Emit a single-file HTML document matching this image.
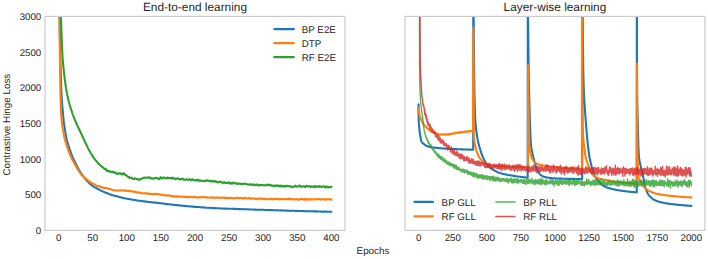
<!DOCTYPE html>
<html><head><meta charset="utf-8"><title>Learning curves</title>
<style>
html,body{margin:0;padding:0;background:#fff;}
body{width:708px;height:259px;overflow:hidden;}
svg{display:block;}
text{font-family:"Liberation Sans",sans-serif;fill:#262626;text-rendering:geometricPrecision;}
.tick{font-size:9.7px;}
.title{font-size:11.85px;}
.lab{font-size:9.85px;}
.leg{font-size:9.8px;}
.ln{fill:none;stroke-linejoin:round;stroke-linecap:round;}
</style></head><body>
<svg width="708" height="259" viewBox="0 0 708 259">
<rect x="0" y="0" width="708" height="259" fill="#ffffff"/>
<defs>
<clipPath id="cl"><rect x="45.0" y="16.4" width="300.0" height="214.0"/></clipPath>
<clipPath id="cr"><rect x="405.0" y="16.4" width="299.9" height="214.0"/></clipPath>
</defs>
<g clip-path="url(#cl)">
<path class="ln" stroke="#1f77b4" stroke-width="2.1" d="M59.50,10.00 L59.51,10.35 L59.51,10.70 L59.52,11.05 L59.52,11.40 L59.53,11.75 L59.53,12.10 L59.54,12.45 L59.55,12.80 L59.55,13.15 L59.56,13.50 L59.56,13.85 L59.57,14.20 L59.58,14.55 L59.58,14.90 L59.59,15.25 L59.59,15.60 L59.60,15.95 L59.61,16.30 L59.61,16.65 L59.62,17.00 L59.62,17.35 L59.63,17.70 L59.63,18.05 L59.64,18.40 L59.65,18.75 L59.65,19.10 L59.66,19.45 L59.66,19.80 L59.67,20.15 L59.67,20.50 L59.68,20.85 L59.69,21.20 L59.69,21.55 L59.70,21.90 L59.70,22.25 L59.71,22.60 L59.71,22.95 L59.72,23.30 L59.72,23.65 L59.73,24.00 L59.74,24.35 L59.74,24.70 L59.75,25.05 L59.75,25.40 L59.76,25.75 L59.76,26.10 L59.77,26.45 L59.77,26.80 L59.78,27.15 L59.79,27.50 L59.79,27.85 L59.80,28.20 L59.80,28.55 L59.81,28.90 L59.81,29.25 L59.82,29.60 L59.82,29.95 L59.83,30.30 L59.84,30.65 L59.84,31.00 L59.85,31.35 L59.85,31.70 L59.86,32.05 L59.86,32.40 L59.87,32.75 L59.87,33.10 L59.88,33.45 L59.89,33.80 L59.89,34.15 L59.90,34.50 L59.90,34.85 L59.91,35.20 L59.91,35.55 L59.92,35.90 L59.93,36.25 L59.93,36.60 L59.94,36.95 L59.94,37.30 L59.95,37.65 L59.95,38.00 L59.96,38.35 L59.97,38.70 L59.97,39.05 L59.98,39.40 L59.98,39.75 L59.99,40.10 L60.00,40.45 L60.00,40.80 L60.01,41.15 L60.01,41.50 L60.02,41.85 L60.03,42.20 L60.03,42.55 L60.04,42.90 L60.04,43.25 L60.05,43.60 L60.06,43.95 L60.06,44.30 L60.07,44.65 L60.08,45.00 L60.08,45.35 L60.09,45.70 L60.10,46.05 L60.10,46.40 L60.11,46.75 L60.12,47.10 L60.12,47.45 L60.13,47.80 L60.14,48.15 L60.14,48.50 L60.15,48.85 L60.16,49.19 L60.16,49.54 L60.17,49.89 L60.18,50.24 L60.18,50.59 L60.19,50.94 L60.20,51.29 L60.21,51.64 L60.21,51.99 L60.22,52.34 L60.23,52.69 L60.23,53.04 L60.24,53.39 L60.25,53.74 L60.26,54.09 L60.27,54.44 L60.27,54.79 L60.28,55.14 L60.29,55.49 L60.30,55.84 L60.30,56.19 L60.31,56.54 L60.32,56.89 L60.33,57.24 L60.34,57.59 L60.34,57.94 L60.35,58.29 L60.36,58.64 L60.37,58.99 L60.38,59.34 L60.39,59.69 L60.39,60.04 L60.40,60.39 L60.41,60.74 L60.42,61.09 L60.43,61.44 L60.44,61.79 L60.44,62.14 L60.45,62.49 L60.46,62.84 L60.47,63.19 L60.48,63.54 L60.49,63.89 L60.50,64.24 L60.50,64.59 L60.51,64.94 L60.52,65.29 L60.53,65.64 L60.54,65.99 L60.55,66.34 L60.56,66.69 L60.57,67.04 L60.58,67.39 L60.59,67.74 L60.59,68.09 L60.60,68.44 L60.61,68.79 L60.62,69.14 L60.63,69.49 L60.64,69.84 L60.65,70.19 L60.66,70.54 L60.67,70.89 L60.68,71.24 L60.69,71.59 L60.70,71.94 L60.71,72.29 L60.72,72.64 L60.73,72.99 L60.74,73.34 L60.75,73.69 L60.76,74.04 L60.77,74.39 L60.78,74.74 L60.79,75.09 L60.80,75.44 L60.81,75.79 L60.83,76.14 L60.84,76.49 L60.85,76.84 L60.86,77.19 L60.87,77.54 L60.88,77.89 L60.89,78.24 L60.90,78.59 L60.92,78.94 L60.93,79.29 L60.94,79.64 L60.95,79.99 L60.96,80.34 L60.97,80.69 L60.99,81.04 L61.00,81.39 L61.01,81.74 L61.02,82.09 L61.03,82.44 L61.05,82.79 L61.06,83.14 L61.07,83.49 L61.09,83.84 L61.10,84.19 L61.11,84.54 L61.12,84.89 L61.14,85.24 L61.15,85.59 L61.16,85.94 L61.18,86.29 L61.19,86.64 L61.21,86.98 L61.22,87.33 L61.23,87.68 L61.25,88.03 L61.26,88.38 L61.28,88.73 L61.29,89.08 L61.30,89.43 L61.32,89.78 L61.33,90.13 L61.35,90.48 L61.36,90.83 L61.38,91.18 L61.39,91.53 L61.41,91.88 L61.42,92.23 L61.44,92.58 L61.46,92.93 L61.47,93.28 L61.49,93.63 L61.50,93.98 L61.52,94.33 L61.54,94.67 L61.55,95.02 L61.57,95.37 L61.59,95.72 L61.60,96.07 L61.62,96.42 L61.64,96.77 L61.66,97.12 L61.68,97.47 L61.69,97.82 L61.71,98.17 L61.73,98.52 L61.76,98.87 L61.78,99.22 L61.80,99.57 L61.82,99.91 L61.84,100.26 L61.87,100.61 L61.89,100.96 L61.91,101.31 L61.94,101.66 L61.96,102.01 L61.99,102.36 L62.01,102.71 L62.04,103.06 L62.06,103.41 L62.09,103.76 L62.12,104.11 L62.14,104.45 L62.17,104.80 L62.20,105.15 L62.23,105.50 L62.25,105.85 L62.28,106.20 L62.31,106.55 L62.34,106.90 L62.37,107.25 L62.40,107.60 L62.43,107.95 L62.46,108.29 L62.49,108.64 L62.52,108.99 L62.56,109.34 L62.59,109.69 L62.62,110.04 L62.65,110.39 L62.68,110.74 L62.72,111.08 L62.75,111.43 L62.78,111.78 L62.82,112.13 L62.85,112.48 L62.88,112.83 L62.92,113.17 L62.95,113.52 L62.99,113.87 L63.02,114.22 L63.06,114.57 L63.09,114.91 L63.13,115.26 L63.16,115.61 L63.20,115.96 L63.23,116.31 L63.27,116.65 L63.30,117.00 L63.34,117.35 L63.38,117.70 L63.41,118.05 L63.45,118.40 L63.49,118.74 L63.53,119.09 L63.57,119.44 L63.61,119.79 L63.64,120.14 L63.68,120.49 L63.72,120.84 L63.77,121.18 L63.81,121.53 L63.85,121.88 L63.89,122.23 L63.93,122.58 L63.97,122.93 L64.02,123.28 L64.06,123.63 L64.11,123.97 L64.15,124.32 L64.20,124.67 L64.24,125.02 L64.29,125.37 L64.33,125.72 L64.38,126.06 L64.43,126.41 L64.48,126.76 L64.53,127.11 L64.58,127.45 L64.63,127.80 L64.68,128.15 L64.73,128.50 L64.78,128.84 L64.83,129.19 L64.88,129.53 L64.94,129.88 L64.99,130.23 L65.05,130.57 L65.10,130.92 L65.16,131.26 L65.21,131.61 L65.27,131.95 L65.33,132.30 L65.39,132.64 L65.45,132.98 L65.51,133.33 L65.57,133.67 L65.63,134.01 L65.69,134.35 L65.75,134.70 L65.82,135.04 L65.88,135.38 L65.95,135.72 L66.01,136.06 L66.08,136.40 L66.15,136.74 L66.22,137.08 L66.29,137.42 L66.36,137.76 L66.44,138.10 L66.52,138.44 L66.60,138.78 L66.68,139.12 L66.76,139.46 L66.84,139.80 L66.93,140.14 L67.01,140.48 L67.10,140.82 L67.19,141.16 L67.28,141.50 L67.37,141.83 L67.47,142.17 L67.56,142.51 L67.66,142.85 L67.76,143.19 L67.85,143.52 L67.95,143.86 L68.05,144.20 L68.16,144.53 L68.26,144.87 L68.36,145.21 L68.47,145.54 L68.58,145.88 L68.68,146.21 L68.79,146.55 L68.90,146.88 L69.01,147.22 L69.12,147.55 L69.23,147.89 L69.35,148.22 L69.46,148.55 L69.57,148.89 L69.69,149.22 L69.81,149.55 L69.92,149.88 L70.04,150.22 L70.16,150.55 L70.28,150.88 L70.40,151.21 L70.52,151.54 L70.64,151.87 L70.76,152.20 L70.88,152.53 L71.00,152.86 L71.12,153.18 L71.25,153.51 L71.37,153.84 L71.49,154.16 L71.62,154.49 L71.74,154.82 L71.87,155.14 L71.99,155.47 L72.12,155.79 L72.24,156.11 L72.37,156.44 L72.50,156.76 L72.64,157.08 L72.77,157.40 L72.91,157.72 L73.05,158.04 L73.20,158.36 L73.34,158.68 L73.49,158.99 L73.64,159.31 L73.79,159.62 L73.94,159.94 L74.09,160.26 L74.25,160.58 L74.40,160.89 L74.56,161.20 L74.72,161.51 L74.88,161.83 L75.03,162.15 L75.19,162.46 L75.35,162.78 L75.51,163.09 L75.68,163.40 L75.84,163.71 L76.00,164.02 L76.16,164.33 L76.32,164.65 L76.48,164.96 L76.64,165.26 L76.80,165.57 L76.96,165.88 L77.12,166.20 L77.28,166.52 L77.44,166.82 L77.60,167.12 L77.76,167.43 L77.92,167.74 L78.09,168.05 L78.25,168.35 L78.42,168.68 L78.58,168.99 L78.75,169.29 L78.92,169.58 L79.09,169.89 L79.26,170.20 L79.44,170.51 L79.61,170.81 L79.79,171.12 L79.97,171.43 L80.15,171.72 L80.33,172.02 L80.51,172.29 L80.70,172.57 L80.89,172.88 L81.08,173.21 L81.27,173.51 L81.47,173.79 L81.66,174.08 L81.86,174.38 L82.06,174.68 L82.26,174.96 L82.47,175.21 L82.67,175.46 L82.88,175.74 L83.09,176.05 L83.30,176.37 L83.51,176.65 L83.73,176.89 L83.94,177.15 L84.16,177.45 L84.38,177.73 L84.60,177.97 L84.82,178.25 L85.04,178.53 L85.27,178.81 L85.49,179.06 L85.72,179.30 L85.95,179.56 L86.18,179.86 L86.41,180.18 L86.64,180.45 L86.88,180.67 L87.11,180.88 L87.35,181.13 L87.59,181.42 L87.83,181.71 L88.08,181.98 L88.32,182.22 L88.57,182.46 L88.82,182.73 L89.07,183.02 L89.32,183.31 L89.58,183.56 L89.83,183.74 L90.09,183.93 L90.35,184.15 L90.62,184.36 L90.88,184.58 L91.15,184.80 L91.41,185.03 L91.69,185.26 L91.96,185.48 L92.24,185.67 L92.52,185.85 L92.80,186.01 L93.09,186.20 L93.37,186.41 L93.67,186.62 L93.96,186.82 L94.26,186.99 L94.56,187.15 L94.86,187.32 L95.16,187.49 L95.46,187.67 L95.77,187.84 L96.08,188.01 L96.39,188.22 L96.70,188.43 L97.01,188.59 L97.32,188.74 L97.64,188.89 L97.95,189.05 L98.27,189.22 L98.58,189.39 L98.90,189.55 L99.22,189.70 L99.53,189.88 L99.85,190.05 L100.16,190.19 L100.48,190.34 L100.79,190.48 L101.11,190.61 L101.42,190.79 L101.74,190.96 L102.05,191.11 L102.37,191.24 L102.69,191.36 L103.01,191.52 L103.33,191.69 L103.65,191.83 L103.97,191.94 L104.29,192.05 L104.61,192.24 L104.94,192.43 L105.26,192.56 L105.59,192.64 L105.91,192.74 L106.24,192.88 L106.56,192.98 L106.89,193.07 L107.22,193.20 L107.55,193.32 L107.87,193.45 L108.20,193.63 L108.53,193.81 L108.86,193.94 L109.19,194.09 L109.52,194.26 L109.85,194.37 L110.18,194.41 L110.51,194.46 L110.85,194.54 L111.18,194.68 L111.51,194.83 L111.84,194.97 L112.17,195.08 L112.51,195.17 L112.84,195.25 L113.17,195.36 L113.51,195.49 L113.84,195.61 L114.17,195.71 L114.51,195.78 L114.85,195.84 L115.18,195.91 L115.52,195.96 L115.86,196.05 L116.19,196.19 L116.53,196.30 L116.87,196.36 L117.21,196.41 L117.55,196.49 L117.89,196.58 L118.23,196.63 L118.57,196.71 L118.91,196.86 L119.25,197.00 L119.59,197.09 L119.93,197.14 L120.28,197.22 L120.62,197.27 L120.96,197.30 L121.30,197.42 L121.64,197.57 L121.99,197.70 L122.33,197.80 L122.67,197.86 L123.02,197.90 L123.36,197.95 L123.70,198.01 L124.04,198.06 L124.39,198.15 L124.73,198.28 L125.07,198.36 L125.41,198.39 L125.76,198.43 L126.10,198.52 L126.44,198.61 L126.79,198.68 L127.13,198.72 L127.47,198.74 L127.82,198.80 L128.16,198.89 L128.50,198.99 L128.85,199.03 L129.19,199.03 L129.53,199.08 L129.88,199.17 L130.22,199.22 L130.57,199.29 L130.91,199.41 L131.26,199.50 L131.60,199.55 L131.95,199.60 L132.29,199.67 L132.64,199.73 L132.98,199.78 L133.33,199.79 L133.67,199.83 L134.02,199.91 L134.36,199.99 L134.71,200.06 L135.05,200.11 L135.40,200.14 L135.75,200.20 L136.09,200.28 L136.44,200.34 L136.78,200.38 L137.13,200.45 L137.48,200.58 L137.82,200.70 L138.17,200.73 L138.52,200.72 L138.86,200.75 L139.21,200.80 L139.55,200.81 L139.90,200.82 L140.25,200.88 L140.59,200.93 L140.94,200.93 L141.29,200.93 L141.63,201.00 L141.98,201.10 L142.33,201.15 L142.67,201.21 L143.02,201.28 L143.37,201.33 L143.71,201.36 L144.06,201.38 L144.41,201.40 L144.76,201.42 L145.10,201.49 L145.45,201.57 L145.80,201.59 L146.15,201.60 L146.50,201.64 L146.84,201.70 L147.19,201.73 L147.54,201.72 L147.89,201.76 L148.24,201.88 L148.58,202.00 L148.93,202.03 L149.28,202.03 L149.63,202.09 L149.98,202.14 L150.32,202.13 L150.67,202.15 L151.02,202.21 L151.37,202.26 L151.72,202.28 L152.07,202.33 L152.41,202.42 L152.76,202.47 L153.11,202.46 L153.46,202.43 L153.81,202.42 L154.15,202.48 L154.50,202.55 L154.85,202.61 L155.20,202.64 L155.54,202.63 L155.89,202.64 L156.24,202.70 L156.59,202.75 L156.94,202.78 L157.28,202.81 L157.63,202.83 L157.98,202.88 L158.33,202.99 L158.67,203.09 L159.02,203.17 L159.37,203.21 L159.72,203.16 L160.06,203.12 L160.41,203.14 L160.76,203.20 L161.11,203.27 L161.45,203.31 L161.80,203.34 L162.15,203.39 L162.50,203.44 L162.84,203.51 L163.19,203.57 L163.54,203.61 L163.89,203.64 L164.23,203.66 L164.58,203.68 L164.93,203.72 L165.28,203.85 L165.62,203.99 L165.97,204.07 L166.32,204.08 L166.67,204.07 L167.01,204.08 L167.36,204.13 L167.71,204.16 L168.06,204.17 L168.40,204.21 L168.75,204.25 L169.10,204.28 L169.45,204.31 L169.79,204.34 L170.14,204.44 L170.49,204.54 L170.84,204.55 L171.18,204.57 L171.53,204.62 L171.88,204.64 L172.23,204.65 L172.57,204.70 L172.92,204.78 L173.27,204.83 L173.62,204.88 L173.97,204.92 L174.31,204.92 L174.66,204.94 L175.01,204.99 L175.36,205.02 L175.70,205.00 L176.05,205.03 L176.40,205.11 L176.75,205.21 L177.10,205.27 L177.44,205.29 L177.79,205.28 L178.14,205.31 L178.49,205.34 L178.84,205.37 L179.18,205.40 L179.53,205.38 L179.88,205.38 L180.23,205.42 L180.58,205.47 L180.93,205.54 L181.27,205.63 L181.62,205.71 L181.97,205.75 L182.32,205.71 L182.67,205.68 L183.02,205.70 L183.36,205.73 L183.71,205.79 L184.06,205.84 L184.41,205.85 L184.76,205.88 L185.11,205.96 L185.46,206.02 L185.80,206.06 L186.15,206.10 L186.50,206.14 L186.85,206.18 L187.20,206.23 L187.55,206.25 L187.90,206.26 L188.24,206.25 L188.59,206.24 L188.94,206.28 L189.29,206.33 L189.64,206.36 L189.99,206.41 L190.34,206.47 L190.69,206.47 L191.03,206.43 L191.38,206.44 L191.73,206.50 L192.08,206.56 L192.43,206.59 L192.78,206.63 L193.13,206.67 L193.48,206.70 L193.83,206.73 L194.17,206.79 L194.52,206.89 L194.87,206.92 L195.22,206.87 L195.57,206.84 L195.92,206.88 L196.27,206.92 L196.62,206.93 L196.97,206.95 L197.32,206.98 L197.66,206.99 L198.01,207.00 L198.36,207.01 L198.71,207.00 L199.06,207.05 L199.41,207.13 L199.76,207.19 L200.11,207.19 L200.46,207.19 L200.81,207.25 L201.16,207.34 L201.50,207.37 L201.85,207.37 L202.20,207.37 L202.55,207.40 L202.90,207.40 L203.25,207.40 L203.60,207.47 L203.95,207.56 L204.30,207.60 L204.65,207.61 L205.00,207.61 L205.35,207.62 L205.70,207.64 L206.04,207.70 L206.39,207.78 L206.74,207.77 L207.09,207.73 L207.44,207.74 L207.79,207.80 L208.14,207.82 L208.49,207.77 L208.84,207.75 L209.19,207.79 L209.54,207.86 L209.89,207.92 L210.24,207.97 L210.59,207.98 L210.93,207.97 L211.28,207.97 L211.63,208.04 L211.98,208.11 L212.33,208.10 L212.68,208.09 L213.03,208.10 L213.38,208.12 L213.73,208.09 L214.08,208.10 L214.43,208.15 L214.78,208.17 L215.13,208.16 L215.48,208.17 L215.83,208.18 L216.18,208.19 L216.53,208.19 L216.88,208.19 L217.22,208.24 L217.57,208.27 L217.92,208.26 L218.27,208.28 L218.62,208.30 L218.97,208.30 L219.32,208.31 L219.67,208.35 L220.02,208.45 L220.37,208.54 L220.72,208.53 L221.07,208.48 L221.42,208.46 L221.77,208.47 L222.12,208.49 L222.47,208.51 L222.82,208.49 L223.17,208.52 L223.52,208.56 L223.87,208.58 L224.22,208.56 L224.57,208.55 L224.92,208.58 L225.27,208.61 L225.62,208.62 L225.97,208.60 L226.32,208.56 L226.67,208.56 L227.02,208.64 L227.37,208.69 L227.72,208.70 L228.07,208.71 L228.42,208.72 L228.77,208.69 L229.12,208.69 L229.47,208.72 L229.82,208.75 L230.17,208.75 L230.52,208.76 L230.87,208.75 L231.22,208.77 L231.56,208.81 L231.91,208.80 L232.26,208.78 L232.61,208.82 L232.96,208.89 L233.31,208.92 L233.66,208.90 L234.01,208.91 L234.36,208.92 L234.71,208.91 L235.06,208.92 L235.41,208.92 L235.76,208.91 L236.11,208.93 L236.46,208.96 L236.81,208.97 L237.16,208.97 L237.51,209.00 L237.86,209.06 L238.21,209.09 L238.56,209.12 L238.91,209.15 L239.26,209.17 L239.61,209.17 L239.96,209.13 L240.31,209.13 L240.66,209.17 L241.01,209.22 L241.36,209.20 L241.71,209.11 L242.06,209.11 L242.41,209.19 L242.76,209.25 L243.11,209.25 L243.46,209.25 L243.81,209.26 L244.16,209.28 L244.51,209.28 L244.86,209.26 L245.21,209.23 L245.56,209.25 L245.91,209.29 L246.26,209.33 L246.61,209.32 L246.96,209.32 L247.31,209.32 L247.66,209.31 L248.01,209.29 L248.36,209.31 L248.71,209.38 L249.06,209.45 L249.41,209.49 L249.76,209.49 L250.10,209.50 L250.45,209.50 L250.80,209.50 L251.15,209.54 L251.50,209.55 L251.85,209.53 L252.20,209.52 L252.55,209.53 L252.90,209.54 L253.25,209.56 L253.60,209.59 L253.95,209.61 L254.30,209.60 L254.65,209.61 L255.00,209.64 L255.35,209.66 L255.70,209.70 L256.05,209.75 L256.40,209.78 L256.75,209.80 L257.10,209.76 L257.45,209.71 L257.80,209.71 L258.15,209.74 L258.50,209.76 L258.85,209.75 L259.20,209.72 L259.55,209.69 L259.90,209.70 L260.25,209.72 L260.60,209.76 L260.95,209.78 L261.30,209.80 L261.65,209.82 L262.00,209.83 L262.35,209.78 L262.70,209.76 L263.05,209.76 L263.40,209.79 L263.75,209.86 L264.10,209.94 L264.45,209.94 L264.80,209.93 L265.15,209.93 L265.50,209.95 L265.85,209.98 L266.20,210.01 L266.55,210.07 L266.90,210.11 L267.25,210.08 L267.60,210.04 L267.94,210.04 L268.29,210.07 L268.64,210.10 L268.99,210.13 L269.34,210.15 L269.69,210.13 L270.04,210.08 L270.39,210.10 L270.74,210.15 L271.09,210.14 L271.44,210.12 L271.79,210.12 L272.14,210.14 L272.49,210.23 L272.84,210.32 L273.19,210.29 L273.54,210.21 L273.89,210.18 L274.24,210.23 L274.59,210.26 L274.94,210.25 L275.29,210.27 L275.64,210.33 L275.99,210.34 L276.34,210.29 L276.69,210.24 L277.04,210.22 L277.39,210.23 L277.74,210.26 L278.09,210.33 L278.44,210.38 L278.79,210.45 L279.14,210.50 L279.49,210.48 L279.84,210.44 L280.19,210.47 L280.54,210.48 L280.89,210.43 L281.24,210.41 L281.59,210.42 L281.94,210.44 L282.29,210.45 L282.64,210.41 L282.99,210.42 L283.34,210.47 L283.69,210.52 L284.04,210.55 L284.39,210.57 L284.74,210.58 L285.09,210.57 L285.44,210.53 L285.79,210.54 L286.14,210.57 L286.49,210.61 L286.84,210.61 L287.19,210.60 L287.54,210.62 L287.89,210.67 L288.24,210.69 L288.59,210.72 L288.94,210.80 L289.29,210.80 L289.64,210.74 L289.99,210.77 L290.33,210.84 L290.68,210.83 L291.03,210.78 L291.38,210.75 L291.73,210.74 L292.08,210.75 L292.43,210.78 L292.78,210.80 L293.13,210.79 L293.48,210.77 L293.83,210.77 L294.18,210.79 L294.53,210.81 L294.88,210.86 L295.23,210.91 L295.58,210.93 L295.93,210.93 L296.28,210.92 L296.63,210.92 L296.98,210.91 L297.33,210.92 L297.68,210.94 L298.03,210.95 L298.38,210.98 L298.73,210.97 L299.08,210.94 L299.43,210.93 L299.78,210.95 L300.13,210.98 L300.48,211.01 L300.83,211.02 L301.18,210.97 L301.53,210.92 L301.88,210.92 L302.23,210.96 L302.58,211.05 L302.93,211.12 L303.28,211.10 L303.63,211.06 L303.98,211.09 L304.33,211.17 L304.68,211.18 L305.03,211.19 L305.38,211.25 L305.73,211.30 L306.08,211.28 L306.43,211.23 L306.78,211.22 L307.13,211.21 L307.48,211.17 L307.83,211.16 L308.18,211.17 L308.53,211.19 L308.88,211.23 L309.23,211.29 L309.58,211.33 L309.93,211.28 L310.28,211.26 L310.63,211.29 L310.98,211.33 L311.33,211.34 L311.68,211.29 L312.03,211.24 L312.38,211.23 L312.73,211.28 L313.08,211.33 L313.43,211.34 L313.78,211.32 L314.13,211.34 L314.48,211.38 L314.83,211.40 L315.18,211.38 L315.53,211.34 L315.88,211.33 L316.23,211.37 L316.58,211.41 L316.93,211.39 L317.28,211.40 L317.62,211.44 L317.97,211.44 L318.32,211.44 L318.67,211.47 L319.02,211.48 L319.37,211.46 L319.72,211.44 L320.07,211.45 L320.42,211.48 L320.77,211.51 L321.12,211.56 L321.47,211.60 L321.82,211.61 L322.17,211.61 L322.52,211.65 L322.87,211.69 L323.22,211.71 L323.57,211.69 L323.92,211.65 L324.27,211.64 L324.62,211.63 L324.97,211.62 L325.32,211.62 L325.67,211.62 L326.02,211.60 L326.37,211.58 L326.72,211.62 L327.07,211.69 L327.42,211.76 L327.77,211.77 L328.12,211.74 L328.47,211.71 L328.82,211.71 L329.17,211.74 L329.52,211.77 L329.87,211.82 L330.22,211.84 L330.57,211.78 L330.92,211.71 L331.27,211.69 L331.40,211.70"/>
<path class="ln" stroke="#ff7f0e" stroke-width="2.1" d="M59.30,10.00 L59.31,10.35 L59.31,10.70 L59.32,11.05 L59.32,11.40 L59.33,11.75 L59.34,12.10 L59.34,12.45 L59.35,12.80 L59.35,13.15 L59.36,13.50 L59.37,13.85 L59.37,14.20 L59.38,14.55 L59.38,14.90 L59.39,15.25 L59.39,15.60 L59.40,15.95 L59.40,16.30 L59.41,16.65 L59.41,17.00 L59.42,17.35 L59.42,17.70 L59.43,18.05 L59.43,18.40 L59.44,18.75 L59.44,19.10 L59.45,19.45 L59.45,19.80 L59.46,20.15 L59.46,20.50 L59.47,20.85 L59.47,21.20 L59.48,21.55 L59.48,21.90 L59.49,22.25 L59.49,22.60 L59.50,22.95 L59.50,23.30 L59.51,23.65 L59.51,24.00 L59.51,24.35 L59.52,24.70 L59.52,25.05 L59.53,25.40 L59.53,25.75 L59.54,26.10 L59.54,26.45 L59.55,26.80 L59.55,27.15 L59.55,27.50 L59.56,27.85 L59.56,28.20 L59.57,28.55 L59.57,28.90 L59.58,29.25 L59.58,29.60 L59.58,29.95 L59.59,30.30 L59.59,30.65 L59.60,31.00 L59.60,31.35 L59.61,31.70 L59.61,32.05 L59.61,32.40 L59.62,32.75 L59.62,33.10 L59.63,33.45 L59.63,33.80 L59.63,34.15 L59.64,34.50 L59.64,34.85 L59.65,35.20 L59.65,35.55 L59.65,35.90 L59.66,36.25 L59.66,36.60 L59.67,36.95 L59.67,37.30 L59.67,37.65 L59.68,38.00 L59.68,38.35 L59.69,38.70 L59.69,39.05 L59.70,39.40 L59.70,39.75 L59.70,40.10 L59.71,40.45 L59.71,40.80 L59.72,41.15 L59.72,41.50 L59.72,41.85 L59.73,42.20 L59.73,42.55 L59.74,42.90 L59.74,43.25 L59.74,43.60 L59.75,43.95 L59.75,44.30 L59.76,44.65 L59.76,45.00 L59.77,45.35 L59.77,45.70 L59.77,46.05 L59.78,46.40 L59.78,46.75 L59.79,47.10 L59.79,47.45 L59.79,47.80 L59.80,48.15 L59.80,48.50 L59.81,48.85 L59.81,49.20 L59.82,49.55 L59.82,49.90 L59.82,50.25 L59.83,50.60 L59.83,50.95 L59.84,51.30 L59.84,51.65 L59.85,52.00 L59.85,52.35 L59.86,52.70 L59.86,53.05 L59.87,53.40 L59.87,53.75 L59.87,54.10 L59.88,54.45 L59.88,54.80 L59.89,55.15 L59.89,55.50 L59.90,55.85 L59.90,56.20 L59.91,56.55 L59.91,56.90 L59.92,57.25 L59.92,57.60 L59.93,57.95 L59.93,58.30 L59.94,58.65 L59.94,59.00 L59.94,59.35 L59.95,59.70 L59.95,60.05 L59.96,60.40 L59.96,60.75 L59.97,61.10 L59.97,61.45 L59.98,61.80 L59.98,62.15 L59.98,62.50 L59.99,62.85 L59.99,63.20 L60.00,63.55 L60.00,63.90 L60.01,64.25 L60.01,64.60 L60.01,64.95 L60.02,65.30 L60.02,65.65 L60.03,66.00 L60.03,66.35 L60.04,66.70 L60.04,67.05 L60.04,67.40 L60.05,67.75 L60.05,68.10 L60.06,68.45 L60.06,68.80 L60.07,69.15 L60.07,69.50 L60.07,69.85 L60.08,70.20 L60.08,70.55 L60.09,70.90 L60.09,71.25 L60.10,71.60 L60.10,71.95 L60.11,72.30 L60.11,72.65 L60.11,73.00 L60.12,73.35 L60.12,73.70 L60.13,74.05 L60.13,74.40 L60.14,74.75 L60.14,75.10 L60.15,75.45 L60.15,75.80 L60.16,76.15 L60.16,76.50 L60.16,76.85 L60.17,77.20 L60.17,77.55 L60.18,77.90 L60.18,78.25 L60.19,78.60 L60.19,78.95 L60.20,79.30 L60.20,79.65 L60.21,80.00 L60.21,80.35 L60.22,80.70 L60.22,81.05 L60.23,81.40 L60.23,81.75 L60.24,82.10 L60.25,82.45 L60.25,82.80 L60.26,83.15 L60.26,83.50 L60.27,83.85 L60.27,84.20 L60.28,84.55 L60.28,84.90 L60.29,85.24 L60.30,85.59 L60.30,85.94 L60.31,86.29 L60.31,86.64 L60.32,86.99 L60.33,87.34 L60.33,87.69 L60.34,88.04 L60.34,88.39 L60.35,88.74 L60.36,89.09 L60.36,89.44 L60.37,89.79 L60.38,90.14 L60.38,90.49 L60.39,90.84 L60.40,91.19 L60.40,91.54 L60.41,91.89 L60.42,92.24 L60.43,92.59 L60.43,92.94 L60.44,93.29 L60.45,93.64 L60.46,93.99 L60.46,94.34 L60.47,94.69 L60.48,95.04 L60.49,95.39 L60.49,95.74 L60.50,96.09 L60.51,96.44 L60.52,96.79 L60.53,97.14 L60.54,97.49 L60.54,97.84 L60.55,98.19 L60.56,98.54 L60.57,98.89 L60.58,99.24 L60.59,99.59 L60.60,99.94 L60.61,100.29 L60.62,100.64 L60.63,100.99 L60.64,101.34 L60.65,101.69 L60.66,102.04 L60.67,102.39 L60.69,102.74 L60.70,103.09 L60.71,103.44 L60.72,103.79 L60.73,104.14 L60.75,104.49 L60.76,104.85 L60.77,105.20 L60.78,105.55 L60.80,105.90 L60.81,106.25 L60.83,106.60 L60.84,106.95 L60.85,107.30 L60.87,107.65 L60.88,108.00 L60.90,108.35 L60.91,108.70 L60.93,109.04 L60.94,109.39 L60.96,109.74 L60.98,110.09 L60.99,110.44 L61.01,110.79 L61.03,111.14 L61.05,111.49 L61.06,111.84 L61.08,112.19 L61.10,112.54 L61.12,112.89 L61.14,113.24 L61.16,113.59 L61.18,113.93 L61.20,114.28 L61.22,114.63 L61.24,114.98 L61.26,115.33 L61.28,115.68 L61.30,116.03 L61.32,116.37 L61.35,116.72 L61.37,117.07 L61.40,117.42 L61.43,117.77 L61.45,118.12 L61.48,118.47 L61.51,118.81 L61.55,119.16 L61.58,119.51 L61.61,119.86 L61.65,120.21 L61.68,120.56 L61.72,120.91 L61.76,121.26 L61.80,121.61 L61.84,121.96 L61.88,122.30 L61.92,122.65 L61.96,123.00 L62.01,123.35 L62.05,123.70 L62.10,124.05 L62.14,124.40 L62.19,124.75 L62.24,125.09 L62.29,125.44 L62.34,125.79 L62.39,126.14 L62.44,126.49 L62.49,126.83 L62.54,127.18 L62.60,127.53 L62.65,127.88 L62.70,128.22 L62.76,128.57 L62.82,128.92 L62.87,129.26 L62.93,129.61 L62.99,129.96 L63.05,130.30 L63.11,130.65 L63.17,130.99 L63.23,131.34 L63.29,131.68 L63.35,132.02 L63.41,132.37 L63.47,132.71 L63.54,133.05 L63.60,133.40 L63.67,133.74 L63.73,134.08 L63.79,134.42 L63.86,134.77 L63.93,135.11 L63.99,135.45 L64.06,135.79 L64.13,136.13 L64.19,136.47 L64.26,136.81 L64.34,137.15 L64.41,137.48 L64.49,137.82 L64.56,138.16 L64.64,138.50 L64.72,138.84 L64.81,139.18 L64.89,139.52 L64.98,139.86 L65.07,140.20 L65.16,140.54 L65.25,140.87 L65.34,141.21 L65.43,141.55 L65.53,141.89 L65.63,142.23 L65.72,142.56 L65.82,142.90 L65.92,143.24 L66.03,143.57 L66.13,143.91 L66.24,144.25 L66.34,144.58 L66.45,144.92 L66.56,145.25 L66.67,145.59 L66.78,145.92 L66.89,146.26 L67.00,146.59 L67.12,146.93 L67.23,147.26 L67.35,147.59 L67.47,147.93 L67.59,148.26 L67.71,148.59 L67.83,148.92 L67.95,149.25 L68.07,149.58 L68.19,149.91 L68.31,150.24 L68.44,150.57 L68.56,150.90 L68.69,151.23 L68.82,151.56 L68.94,151.89 L69.07,152.21 L69.20,152.54 L69.33,152.86 L69.46,153.19 L69.59,153.52 L69.72,153.84 L69.85,154.16 L69.98,154.49 L70.11,154.81 L70.24,155.13 L70.37,155.45 L70.51,155.77 L70.64,156.09 L70.77,156.41 L70.91,156.73 L71.05,157.05 L71.20,157.37 L71.35,157.69 L71.50,158.01 L71.65,158.33 L71.80,158.63 L71.96,158.93 L72.12,159.23 L72.28,159.54 L72.44,159.86 L72.61,160.15 L72.78,160.45 L72.94,160.78 L73.11,161.10 L73.28,161.40 L73.45,161.71 L73.62,162.02 L73.80,162.32 L73.97,162.60 L74.14,162.91 L74.31,163.24 L74.49,163.56 L74.66,163.84 L74.83,164.12 L75.00,164.43 L75.18,164.78 L75.35,165.11 L75.52,165.42 L75.69,165.76 L75.86,166.07 L76.03,166.34 L76.20,166.60 L76.37,166.82 L76.54,167.08 L76.71,167.41 L76.88,167.77 L77.05,168.11 L77.23,168.42 L77.40,168.70 L77.58,168.97 L77.75,169.29 L77.93,169.59 L78.11,169.88 L78.30,170.18 L78.48,170.44 L78.67,170.71 L78.86,171.05 L79.05,171.45 L79.24,171.81 L79.44,172.06 L79.64,172.23 L79.85,172.46 L80.05,172.75 L80.27,173.04 L80.48,173.31 L80.70,173.65 L80.92,173.91 L81.15,174.17 L81.38,174.52 L81.61,174.88 L81.84,175.16 L82.08,175.43 L82.32,175.70 L82.56,176.01 L82.81,176.26 L83.06,176.48 L83.31,176.73 L83.56,176.90 L83.82,177.02 L84.07,177.19 L84.33,177.47 L84.59,177.75 L84.85,177.96 L85.12,178.27 L85.38,178.53 L85.65,178.61 L85.92,178.68 L86.18,179.01 L86.45,179.35 L86.72,179.50 L86.99,179.57 L87.27,179.71 L87.54,180.07 L87.82,180.38 L88.10,180.56 L88.38,180.68 L88.67,180.98 L88.95,181.28 L89.24,181.45 L89.54,181.55 L89.83,181.86 L90.12,182.21 L90.42,182.22 L90.72,182.21 L91.02,182.39 L91.33,182.73 L91.63,183.21 L91.94,183.42 L92.24,183.26 L92.55,183.33 L92.86,183.81 L93.17,184.21 L93.48,184.38 L93.79,184.38 L94.11,184.27 L94.42,184.23 L94.73,184.25 L95.05,184.49 L95.36,184.90 L95.68,185.25 L96.00,185.52 L96.31,185.51 L96.63,185.53 L96.95,185.85 L97.27,186.10 L97.60,186.00 L97.92,185.92 L98.25,186.16 L98.58,186.37 L98.91,186.33 L99.24,186.39 L99.57,186.62 L99.90,186.65 L100.24,186.57 L100.57,186.64 L100.91,186.84 L101.25,187.10 L101.58,187.36 L101.92,187.55 L102.26,187.49 L102.60,187.40 L102.94,187.62 L103.28,187.92 L103.62,188.05 L103.96,188.04 L104.30,187.91 L104.65,187.93 L104.99,188.03 L105.33,187.92 L105.67,187.95 L106.01,188.23 L106.35,188.33 L106.69,188.26 L107.03,188.17 L107.37,188.19 L107.71,188.37 L108.05,188.61 L108.39,188.69 L108.74,188.68 L109.08,188.82 L109.42,188.87 L109.76,189.00 L110.11,189.22 L110.45,189.28 L110.80,189.35 L111.14,189.58 L111.49,189.62 L111.83,189.70 L112.18,189.89 L112.52,190.03 L112.87,190.02 L113.22,190.03 L113.56,190.06 L113.91,190.10 L114.26,190.09 L114.60,190.26 L114.95,190.52 L115.30,190.57 L115.65,190.65 L115.99,190.77 L116.34,190.63 L116.69,190.45 L117.04,190.44 L117.38,190.51 L117.73,190.73 L118.08,190.77 L118.43,190.57 L118.78,190.47 L119.13,190.53 L119.47,190.52 L119.82,190.46 L120.17,190.38 L120.52,190.25 L120.87,190.29 L121.22,190.42 L121.57,190.51 L121.92,190.50 L122.27,190.48 L122.62,190.55 L122.97,190.51 L123.32,190.32 L123.67,190.19 L124.02,190.27 L124.37,190.42 L124.72,190.48 L125.07,190.65 L125.42,190.90 L125.77,191.03 L126.12,190.93 L126.47,190.65 L126.82,190.55 L127.17,190.74 L127.52,190.90 L127.87,190.95 L128.22,190.98 L128.57,191.08 L128.92,191.14 L129.26,191.12 L129.61,191.10 L129.96,191.08 L130.31,191.10 L130.66,191.17 L131.00,191.24 L131.35,191.30 L131.70,191.43 L132.04,191.45 L132.39,191.43 L132.73,191.41 L133.08,191.54 L133.42,191.68 L133.77,191.50 L134.11,191.29 L134.45,191.41 L134.79,191.79 L135.14,192.15 L135.48,192.19 L135.82,192.09 L136.16,192.03 L136.50,192.21 L136.85,192.50 L137.19,192.60 L137.53,192.52 L137.87,192.52 L138.21,192.51 L138.56,192.46 L138.90,192.49 L139.24,192.45 L139.59,192.46 L139.93,192.76 L140.27,192.93 L140.62,192.85 L140.97,192.90 L141.31,193.18 L141.66,193.36 L142.00,193.46 L142.35,193.44 L142.70,193.32 L143.05,193.29 L143.39,193.25 L143.74,193.23 L144.09,193.28 L144.44,193.41 L144.79,193.52 L145.14,193.47 L145.49,193.37 L145.84,193.36 L146.19,193.35 L146.54,193.27 L146.89,193.28 L147.24,193.35 L147.59,193.37 L147.94,193.43 L148.29,193.65 L148.64,193.98 L148.99,194.04 L149.34,193.90 L149.69,193.92 L150.04,194.04 L150.39,193.94 L150.74,193.79 L151.09,193.82 L151.44,193.95 L151.79,194.07 L152.14,194.11 L152.49,194.10 L152.84,193.94 L153.19,193.86 L153.53,193.94 L153.88,194.09 L154.23,194.05 L154.58,194.08 L154.93,194.23 L155.28,194.21 L155.63,193.96 L155.97,193.82 L156.32,193.85 L156.67,194.03 L157.02,194.13 L157.36,194.11 L157.71,194.09 L158.06,194.14 L158.41,194.29 L158.75,194.54 L159.10,194.56 L159.45,194.34 L159.79,194.36 L160.14,194.52 L160.49,194.60 L160.84,194.55 L161.18,194.56 L161.53,194.66 L161.88,194.86 L162.22,194.95 L162.57,194.97 L162.92,194.97 L163.27,194.88 L163.61,194.87 L163.96,195.08 L164.31,195.24 L164.65,195.35 L165.00,195.50 L165.35,195.45 L165.70,195.24 L166.05,195.34 L166.39,195.68 L166.74,195.71 L167.09,195.40 L167.44,195.21 L167.79,195.23 L168.13,195.27 L168.48,195.29 L168.83,195.36 L169.18,195.38 L169.53,195.51 L169.87,195.74 L170.22,195.80 L170.57,195.91 L170.92,196.08 L171.27,196.13 L171.61,196.03 L171.96,196.00 L172.31,196.14 L172.66,196.37 L173.01,196.32 L173.36,196.14 L173.70,196.23 L174.05,196.46 L174.40,196.68 L174.75,196.84 L175.10,196.75 L175.45,196.47 L175.79,196.29 L176.14,196.28 L176.49,196.50 L176.84,196.84 L177.19,197.00 L177.54,196.66 L177.89,196.28 L178.24,196.31 L178.58,196.43 L178.93,196.39 L179.28,196.42 L179.63,196.59 L179.98,196.72 L180.33,196.70 L180.68,196.70 L181.03,196.77 L181.38,196.70 L181.72,196.55 L182.07,196.48 L182.42,196.60 L182.77,196.70 L183.12,196.66 L183.47,196.79 L183.82,196.94 L184.17,196.91 L184.52,196.85 L184.87,196.91 L185.22,197.16 L185.57,197.22 L185.92,196.93 L186.27,196.64 L186.62,196.76 L186.97,197.17 L187.32,197.40 L187.67,197.35 L188.02,197.21 L188.37,197.02 L188.72,196.96 L189.07,197.00 L189.42,196.96 L189.77,196.95 L190.12,197.16 L190.47,197.19 L190.82,196.89 L191.17,196.78 L191.52,196.85 L191.87,196.76 L192.22,196.72 L192.57,196.98 L192.92,197.15 L193.27,197.27 L193.62,197.41 L193.97,197.27 L194.32,197.04 L194.67,196.95 L195.02,196.89 L195.37,196.94 L195.72,197.04 L196.07,197.07 L196.42,197.22 L196.77,197.48 L197.12,197.56 L197.47,197.49 L197.82,197.45 L198.17,197.48 L198.52,197.53 L198.87,197.52 L199.22,197.44 L199.57,197.18 L199.92,196.97 L200.27,196.92 L200.62,197.11 L200.97,197.39 L201.32,197.46 L201.67,197.29 L202.02,197.17 L202.37,197.09 L202.72,197.00 L203.07,196.97 L203.42,196.99 L203.77,197.00 L204.12,197.14 L204.47,197.20 L204.82,197.08 L205.17,197.00 L205.52,197.15 L205.87,197.39 L206.22,197.46 L206.57,197.58 L206.92,197.53 L207.27,197.32 L207.62,197.32 L207.97,197.60 L208.32,197.67 L208.67,197.45 L209.02,197.43 L209.37,197.63 L209.72,197.78 L210.07,197.79 L210.42,197.60 L210.77,197.46 L211.12,197.50 L211.47,197.59 L211.82,197.33 L212.17,197.09 L212.52,197.28 L212.87,197.62 L213.22,197.79 L213.57,197.68 L213.92,197.65 L214.27,197.80 L214.62,197.90 L214.97,197.85 L215.32,197.83 L215.67,197.75 L216.02,197.63 L216.37,197.59 L216.72,197.56 L217.07,197.57 L217.42,197.63 L217.77,197.66 L218.12,197.83 L218.47,197.88 L218.82,197.70 L219.17,197.55 L219.52,197.64 L219.87,197.82 L220.22,197.92 L220.57,197.94 L220.92,197.89 L221.27,197.74 L221.62,197.61 L221.97,197.59 L222.32,197.74 L222.67,197.82 L223.02,197.88 L223.37,197.95 L223.72,197.74 L224.06,197.41 L224.41,197.44 L224.76,197.69 L225.11,198.10 L225.46,198.28 L225.81,198.04 L226.16,197.86 L226.51,197.88 L226.86,198.01 L227.21,198.13 L227.56,198.12 L227.91,198.03 L228.26,198.02 L228.61,197.96 L228.96,198.05 L229.31,198.19 L229.66,198.08 L230.01,197.82 L230.36,197.73 L230.71,197.83 L231.06,198.00 L231.41,198.05 L231.76,197.97 L232.11,198.06 L232.46,198.21 L232.81,198.28 L233.16,198.35 L233.51,198.43 L233.86,198.40 L234.21,198.39 L234.56,198.40 L234.91,198.30 L235.26,198.10 L235.61,198.13 L235.96,198.11 L236.31,197.94 L236.66,197.74 L237.01,197.67 L237.36,197.82 L237.71,197.98 L238.06,198.06 L238.41,198.12 L238.76,198.31 L239.11,198.31 L239.46,198.13 L239.81,197.97 L240.16,197.89 L240.51,197.90 L240.86,198.02 L241.21,198.12 L241.56,198.07 L241.91,197.97 L242.26,198.00 L242.61,198.14 L242.96,198.43 L243.31,198.67 L243.66,198.54 L244.01,198.19 L244.36,197.87 L244.71,197.79 L245.06,197.96 L245.41,198.21 L245.76,198.28 L246.11,198.28 L246.46,198.33 L246.81,198.49 L247.16,198.58 L247.51,198.41 L247.86,198.29 L248.21,198.34 L248.56,198.40 L248.91,198.24 L249.26,198.05 L249.61,198.01 L249.96,198.23 L250.31,198.67 L250.66,198.90 L251.00,198.76 L251.35,198.68 L251.70,198.57 L252.05,198.42 L252.40,198.41 L252.75,198.49 L253.10,198.63 L253.45,198.69 L253.80,198.55 L254.15,198.59 L254.50,198.66 L254.85,198.65 L255.20,198.75 L255.55,198.87 L255.90,198.88 L256.25,198.84 L256.60,198.71 L256.95,198.67 L257.30,199.05 L257.65,199.35 L258.00,199.25 L258.35,198.94 L258.70,198.63 L259.05,198.55 L259.40,198.57 L259.75,198.69 L260.10,198.80 L260.45,198.70 L260.80,198.54 L261.15,198.46 L261.50,198.60 L261.85,198.70 L262.20,198.70 L262.55,198.82 L262.90,198.93 L263.25,198.71 L263.60,198.56 L263.95,198.77 L264.30,199.19 L264.65,199.35 L265.00,199.10 L265.35,198.84 L265.70,198.85 L266.05,198.97 L266.40,199.04 L266.75,199.24 L267.10,199.31 L267.45,199.20 L267.80,199.19 L268.15,199.27 L268.50,199.22 L268.85,199.06 L269.20,199.03 L269.55,198.92 L269.90,198.84 L270.25,198.87 L270.60,198.81 L270.95,198.62 L271.30,198.56 L271.65,198.85 L272.00,199.33 L272.35,199.55 L272.70,199.46 L273.05,199.27 L273.40,199.07 L273.75,199.00 L274.10,198.93 L274.45,198.79 L274.80,198.78 L275.15,198.89 L275.50,198.89 L275.85,198.89 L276.20,199.01 L276.55,199.15 L276.90,199.22 L277.25,199.15 L277.60,199.07 L277.95,199.05 L278.30,199.00 L278.65,198.95 L279.00,199.06 L279.35,199.27 L279.70,199.38 L280.05,199.23 L280.40,198.94 L280.75,198.88 L281.10,198.99 L281.45,199.06 L281.80,199.04 L282.15,199.10 L282.50,199.21 L282.85,199.16 L283.20,199.16 L283.55,199.36 L283.90,199.40 L284.25,199.27 L284.60,199.23 L284.95,199.23 L285.30,199.27 L285.65,199.16 L286.00,199.01 L286.35,198.97 L286.70,199.04 L287.05,199.16 L287.40,199.23 L287.75,199.10 L288.10,198.76 L288.45,198.52 L288.80,198.67 L289.15,198.88 L289.50,199.20 L289.85,199.42 L290.20,199.35 L290.55,199.20 L290.90,199.15 L291.25,199.12 L291.60,199.06 L291.95,199.03 L292.30,199.14 L292.65,199.36 L293.00,199.44 L293.35,199.42 L293.70,199.32 L294.05,199.26 L294.40,199.30 L294.75,199.42 L295.10,199.46 L295.45,199.32 L295.80,199.17 L296.15,199.25 L296.50,199.43 L296.85,199.39 L297.20,199.42 L297.55,199.61 L297.90,199.65 L298.25,199.53 L298.60,199.55 L298.95,199.71 L299.30,199.64 L299.65,199.43 L300.00,199.16 L300.35,198.94 L300.70,198.99 L301.05,199.24 L301.40,199.33 L301.75,199.17 L302.10,198.95 L302.45,198.89 L302.80,198.96 L303.15,199.13 L303.50,199.49 L303.85,199.87 L304.20,200.00 L304.55,199.70 L304.90,199.21 L305.25,198.78 L305.60,198.59 L305.95,198.87 L306.30,199.28 L306.65,199.54 L307.00,199.59 L307.35,199.55 L307.70,199.54 L308.05,199.60 L308.40,199.53 L308.75,199.25 L309.10,199.09 L309.45,199.24 L309.80,199.61 L310.15,199.74 L310.50,199.52 L310.85,199.27 L311.20,199.26 L311.55,199.31 L311.90,199.34 L312.25,199.37 L312.60,199.41 L312.95,199.43 L313.30,199.49 L313.65,199.45 L314.00,199.34 L314.35,199.30 L314.70,199.35 L315.05,199.43 L315.40,199.42 L315.75,199.34 L316.10,199.20 L316.45,199.16 L316.80,199.27 L317.15,199.33 L317.50,199.41 L317.85,199.30 L318.20,199.06 L318.55,199.00 L318.90,199.05 L319.25,199.07 L319.60,199.16 L319.95,199.35 L320.30,199.42 L320.65,199.40 L321.00,199.36 L321.35,199.33 L321.70,199.29 L322.05,199.37 L322.40,199.46 L322.75,199.39 L323.10,199.23 L323.45,199.19 L323.80,199.33 L324.15,199.40 L324.50,199.32 L324.85,199.36 L325.20,199.64 L325.55,199.82 L325.90,199.65 L326.25,199.46 L326.60,199.23 L326.95,199.02 L327.30,199.13 L327.65,199.37 L328.00,199.52 L328.35,199.40 L328.70,199.26 L329.05,199.28 L329.40,199.33 L329.75,199.28 L330.10,199.20 L330.45,199.15 L330.80,199.35 L331.15,199.69 L331.40,199.88"/>
<path class="ln" stroke="#2ca02c" stroke-width="2.1" d="M60.50,10.00 L60.52,10.35 L60.54,10.70 L60.55,11.05 L60.57,11.40 L60.59,11.75 L60.61,12.10 L60.63,12.45 L60.64,12.80 L60.66,13.15 L60.68,13.50 L60.70,13.85 L60.71,14.19 L60.73,14.54 L60.75,14.89 L60.76,15.24 L60.78,15.59 L60.80,15.94 L60.81,16.29 L60.83,16.64 L60.85,16.99 L60.86,17.34 L60.88,17.69 L60.89,18.04 L60.91,18.39 L60.92,18.74 L60.94,19.09 L60.95,19.44 L60.97,19.79 L60.98,20.14 L61.00,20.49 L61.01,20.84 L61.03,21.19 L61.04,21.54 L61.06,21.89 L61.07,22.24 L61.08,22.59 L61.10,22.94 L61.11,23.29 L61.12,23.64 L61.14,23.99 L61.15,24.34 L61.16,24.69 L61.18,25.04 L61.19,25.39 L61.20,25.74 L61.22,26.09 L61.23,26.44 L61.24,26.79 L61.26,27.14 L61.27,27.49 L61.28,27.84 L61.30,28.19 L61.31,28.54 L61.32,28.89 L61.33,29.24 L61.35,29.59 L61.36,29.93 L61.37,30.28 L61.38,30.63 L61.40,30.98 L61.41,31.33 L61.42,31.68 L61.43,32.03 L61.45,32.38 L61.46,32.73 L61.47,33.08 L61.48,33.43 L61.50,33.78 L61.51,34.13 L61.52,34.48 L61.54,34.83 L61.55,35.18 L61.56,35.53 L61.57,35.88 L61.59,36.23 L61.60,36.58 L61.61,36.93 L61.63,37.28 L61.64,37.63 L61.65,37.98 L61.66,38.33 L61.68,38.68 L61.69,39.03 L61.70,39.38 L61.72,39.73 L61.73,40.08 L61.75,40.43 L61.76,40.78 L61.77,41.13 L61.79,41.48 L61.80,41.83 L61.81,42.18 L61.83,42.53 L61.84,42.88 L61.86,43.23 L61.87,43.58 L61.89,43.93 L61.90,44.28 L61.92,44.63 L61.93,44.98 L61.95,45.33 L61.96,45.68 L61.98,46.03 L61.99,46.38 L62.01,46.73 L62.03,47.07 L62.04,47.42 L62.06,47.77 L62.08,48.12 L62.09,48.47 L62.11,48.82 L62.13,49.17 L62.14,49.52 L62.16,49.87 L62.18,50.22 L62.20,50.57 L62.21,50.92 L62.23,51.27 L62.25,51.62 L62.27,51.97 L62.29,52.32 L62.31,52.66 L62.33,53.01 L62.35,53.36 L62.36,53.71 L62.38,54.06 L62.41,54.41 L62.43,54.76 L62.45,55.11 L62.47,55.46 L62.49,55.81 L62.51,56.16 L62.53,56.50 L62.55,56.85 L62.58,57.20 L62.60,57.55 L62.62,57.90 L62.65,58.25 L62.67,58.60 L62.70,58.95 L62.73,59.30 L62.75,59.65 L62.78,59.99 L62.81,60.34 L62.83,60.69 L62.86,61.04 L62.89,61.39 L62.92,61.74 L62.95,62.09 L62.98,62.44 L63.01,62.79 L63.04,63.14 L63.07,63.48 L63.10,63.83 L63.14,64.18 L63.17,64.53 L63.20,64.88 L63.23,65.23 L63.27,65.58 L63.30,65.92 L63.34,66.27 L63.37,66.62 L63.40,66.97 L63.44,67.32 L63.48,67.67 L63.51,68.02 L63.55,68.36 L63.58,68.71 L63.62,69.06 L63.66,69.41 L63.69,69.76 L63.73,70.11 L63.77,70.45 L63.81,70.80 L63.85,71.15 L63.88,71.50 L63.92,71.85 L63.96,72.19 L64.00,72.54 L64.04,72.89 L64.08,73.24 L64.12,73.58 L64.16,73.93 L64.20,74.28 L64.24,74.63 L64.28,74.97 L64.32,75.32 L64.36,75.67 L64.40,76.02 L64.44,76.36 L64.48,76.71 L64.53,77.06 L64.57,77.41 L64.61,77.75 L64.65,78.10 L64.70,78.45 L64.74,78.80 L64.78,79.14 L64.83,79.49 L64.87,79.84 L64.92,80.19 L64.96,80.53 L65.01,80.88 L65.06,81.23 L65.10,81.58 L65.15,81.92 L65.20,82.27 L65.25,82.62 L65.29,82.97 L65.34,83.32 L65.39,83.66 L65.44,84.01 L65.49,84.36 L65.54,84.70 L65.59,85.05 L65.65,85.40 L65.70,85.75 L65.75,86.09 L65.80,86.44 L65.86,86.79 L65.91,87.13 L65.97,87.48 L66.02,87.83 L66.08,88.17 L66.13,88.52 L66.19,88.86 L66.25,89.21 L66.31,89.55 L66.36,89.90 L66.42,90.24 L66.48,90.59 L66.54,90.93 L66.60,91.28 L66.66,91.62 L66.73,91.97 L66.79,92.31 L66.85,92.65 L66.91,93.00 L66.98,93.34 L67.04,93.68 L67.11,94.03 L67.18,94.37 L67.24,94.71 L67.31,95.05 L67.38,95.39 L67.45,95.73 L67.52,96.08 L67.59,96.42 L67.66,96.76 L67.73,97.10 L67.81,97.44 L67.88,97.78 L67.96,98.12 L68.04,98.46 L68.12,98.80 L68.20,99.14 L68.28,99.48 L68.36,99.82 L68.45,100.16 L68.53,100.50 L68.62,100.84 L68.71,101.18 L68.80,101.51 L68.89,101.85 L68.98,102.19 L69.07,102.53 L69.16,102.87 L69.26,103.21 L69.35,103.55 L69.45,103.88 L69.54,104.22 L69.64,104.56 L69.74,104.90 L69.84,105.23 L69.94,105.57 L70.04,105.91 L70.14,106.24 L70.25,106.58 L70.35,106.92 L70.45,107.25 L70.56,107.59 L70.66,107.92 L70.77,108.26 L70.88,108.59 L70.99,108.93 L71.09,109.26 L71.20,109.60 L71.31,109.93 L71.42,110.26 L71.53,110.60 L71.64,110.93 L71.76,111.26 L71.87,111.59 L71.98,111.93 L72.09,112.26 L72.21,112.59 L72.32,112.92 L72.43,113.25 L72.55,113.58 L72.66,113.91 L72.78,114.24 L72.89,114.57 L73.01,114.90 L73.13,115.23 L73.24,115.56 L73.36,115.88 L73.48,116.21 L73.59,116.54 L73.71,116.86 L73.83,117.19 L73.96,117.52 L74.08,117.84 L74.21,118.17 L74.33,118.49 L74.46,118.82 L74.59,119.14 L74.72,119.46 L74.85,119.79 L74.98,120.11 L75.12,120.43 L75.25,120.76 L75.39,121.08 L75.52,121.40 L75.66,121.72 L75.80,122.04 L75.94,122.36 L76.08,122.68 L76.22,123.01 L76.36,123.33 L76.50,123.65 L76.65,123.97 L76.79,124.28 L76.93,124.60 L77.08,124.92 L77.22,125.24 L77.37,125.56 L77.52,125.88 L77.67,126.20 L77.81,126.52 L77.96,126.83 L78.11,127.15 L78.26,127.47 L78.41,127.79 L78.56,128.11 L78.71,128.42 L78.86,128.74 L79.01,129.06 L79.16,129.38 L79.31,129.69 L79.46,130.01 L79.61,130.33 L79.76,130.64 L79.92,130.96 L80.07,131.28 L80.22,131.59 L80.37,131.91 L80.52,132.23 L80.67,132.54 L80.82,132.86 L80.97,133.18 L81.12,133.49 L81.27,133.81 L81.42,134.13 L81.57,134.45 L81.72,134.76 L81.87,135.08 L82.02,135.40 L82.17,135.71 L82.31,136.03 L82.46,136.35 L82.61,136.67 L82.76,136.98 L82.90,137.30 L83.05,137.62 L83.20,137.94 L83.34,138.26 L83.49,138.57 L83.64,138.89 L83.78,139.21 L83.93,139.53 L84.08,139.85 L84.22,140.17 L84.37,140.48 L84.52,140.80 L84.66,141.12 L84.81,141.44 L84.96,141.76 L85.11,142.07 L85.26,142.39 L85.41,142.71 L85.56,143.02 L85.71,143.34 L85.86,143.66 L86.01,143.97 L86.16,144.29 L86.31,144.61 L86.46,144.92 L86.62,145.24 L86.77,145.55 L86.92,145.86 L87.08,146.18 L87.23,146.49 L87.39,146.80 L87.55,147.12 L87.70,147.43 L87.86,147.74 L88.02,148.05 L88.18,148.36 L88.34,148.67 L88.51,148.98 L88.67,149.29 L88.83,149.60 L89.00,149.91 L89.17,150.21 L89.33,150.52 L89.50,150.83 L89.67,151.14 L89.84,151.45 L90.01,151.76 L90.18,152.07 L90.36,152.39 L90.53,152.70 L90.71,152.98 L90.88,153.26 L91.06,153.53 L91.24,153.79 L91.42,154.09 L91.61,154.42 L91.79,154.72 L91.97,155.03 L92.16,155.30 L92.35,155.59 L92.54,155.92 L92.73,156.27 L92.92,156.64 L93.12,156.97 L93.31,157.23 L93.51,157.47 L93.71,157.72 L93.91,158.01 L94.11,158.28 L94.31,158.52 L94.52,158.80 L94.73,159.11 L94.94,159.42 L95.15,159.68 L95.36,159.90 L95.58,160.16 L95.80,160.42 L96.01,160.63 L96.23,160.96 L96.46,161.24 L96.68,161.36 L96.91,161.64 L97.13,162.04 L97.36,162.37 L97.59,162.68 L97.83,162.89 L98.07,163.33 L98.30,163.76 L98.55,163.94 L98.79,164.02 L99.04,164.17 L99.28,164.38 L99.53,164.62 L99.79,164.80 L100.04,165.10 L100.30,165.39 L100.56,165.51 L100.82,165.70 L101.08,165.95 L101.34,166.23 L101.61,166.61 L101.88,166.76 L102.15,166.75 L102.43,166.92 L102.71,167.15 L102.99,167.40 L103.27,167.70 L103.56,168.00 L103.84,168.31 L104.13,168.54 L104.42,168.82 L104.72,169.04 L105.01,169.15 L105.31,169.09 L105.61,169.07 L105.91,169.30 L106.21,169.89 L106.52,170.55 L106.83,170.98 L107.14,170.96 L107.46,170.72 L107.78,170.64 L108.09,170.83 L108.41,171.17 L108.73,171.53 L109.06,171.46 L109.38,171.15 L109.71,171.29 L110.04,171.74 L110.37,171.87 L110.70,171.90 L111.04,172.00 L111.38,171.89 L111.72,171.70 L112.06,171.55 L112.40,171.59 L112.74,171.89 L113.08,171.92 L113.42,171.97 L113.75,172.26 L114.09,172.64 L114.43,172.71 L114.77,172.52 L115.11,172.35 L115.45,172.43 L115.80,172.65 L116.14,173.05 L116.48,173.40 L116.82,173.71 L117.17,174.00 L117.52,173.91 L117.87,173.65 L118.22,173.45 L118.58,173.46 L118.94,173.63 L119.29,173.51 L119.64,173.27 L119.97,173.45 L120.30,173.69 L120.60,173.80 L120.90,173.64 L121.19,173.47 L121.49,173.88 L121.79,174.55 L122.10,174.50 L122.44,174.16 L122.79,174.13 L123.15,173.89 L123.51,173.37 L123.87,173.15 L124.20,173.52 L124.50,174.14 L124.79,174.51 L125.08,174.76 L125.35,175.05 L125.62,175.09 L125.89,174.96 L126.16,175.19 L126.43,175.46 L126.72,175.68 L127.02,176.03 L127.32,176.35 L127.63,176.40 L127.94,176.47 L128.26,177.00 L128.58,177.43 L128.91,177.13 L129.23,177.01 L129.56,177.52 L129.89,177.96 L130.23,177.98 L130.56,177.92 L130.89,178.03 L131.22,177.88 L131.56,177.75 L131.90,177.98 L132.24,178.42 L132.59,178.79 L132.93,178.92 L133.28,178.95 L133.62,179.04 L133.97,179.04 L134.32,178.80 L134.66,178.36 L135.01,178.31 L135.36,178.58 L135.71,178.60 L136.06,178.68 L136.41,178.82 L136.76,178.89 L137.11,179.04 L137.46,179.04 L137.81,178.91 L138.16,179.45 L138.51,179.91 L138.85,179.66 L139.20,179.48 L139.54,179.64 L139.89,179.56 L140.23,179.07 L140.58,178.85 L140.92,178.90 L141.26,178.98 L141.60,178.93 L141.94,178.78 L142.28,178.51 L142.62,178.24 L142.95,177.97 L143.28,177.83 L143.62,177.79 L143.95,177.69 L144.28,177.72 L144.62,177.91 L144.96,177.69 L145.30,177.49 L145.65,177.62 L146.00,177.66 L146.35,177.70 L146.70,177.73 L147.05,177.71 L147.41,177.60 L147.76,177.56 L148.11,177.78 L148.46,177.79 L148.81,177.37 L149.15,177.39 L149.50,177.49 L149.85,177.33 L150.20,177.54 L150.55,178.13 L150.90,178.42 L151.25,178.58 L151.59,178.44 L151.94,178.26 L152.29,178.33 L152.64,178.53 L152.99,178.63 L153.34,178.50 L153.69,178.39 L154.03,178.53 L154.38,178.71 L154.73,178.47 L155.08,178.01 L155.43,177.91 L155.78,178.02 L156.13,177.94 L156.48,177.81 L156.83,177.78 L157.18,178.02 L157.53,178.37 L157.88,178.57 L158.23,178.68 L158.58,178.86 L158.93,179.03 L159.28,179.26 L159.63,178.98 L159.98,178.30 L160.33,177.53 L160.68,177.14 L161.03,177.57 L161.38,178.20 L161.73,178.40 L162.08,178.24 L162.43,178.33 L162.78,178.18 L163.13,177.74 L163.48,177.33 L163.83,177.52 L164.18,177.86 L164.53,178.02 L164.88,177.87 L165.23,177.81 L165.58,178.12 L165.93,178.36 L166.28,178.45 L166.63,178.52 L166.97,178.38 L167.32,177.86 L167.67,177.40 L168.02,177.58 L168.37,178.19 L168.72,178.37 L169.07,178.14 L169.42,177.95 L169.77,177.98 L170.12,177.98 L170.47,177.96 L170.82,178.24 L171.17,178.64 L171.51,178.43 L171.86,177.90 L172.21,177.66 L172.56,177.96 L172.91,178.44 L173.26,178.60 L173.61,178.44 L173.96,178.29 L174.31,178.19 L174.66,178.32 L175.00,178.81 L175.35,179.20 L175.70,179.23 L176.05,178.82 L176.40,178.68 L176.75,178.75 L177.10,178.48 L177.45,178.14 L177.80,178.25 L178.15,178.64 L178.49,178.90 L178.84,179.08 L179.19,179.33 L179.54,179.40 L179.89,179.22 L180.24,179.02 L180.59,179.05 L180.94,179.27 L181.29,179.40 L181.64,179.31 L181.99,179.13 L182.34,178.79 L182.68,178.53 L183.03,178.74 L183.38,179.29 L183.73,179.68 L184.08,179.81 L184.43,179.73 L184.78,179.83 L185.13,179.95 L185.48,179.72 L185.83,179.34 L186.18,179.20 L186.53,179.18 L186.88,179.23 L187.23,179.53 L187.58,179.75 L187.92,179.83 L188.27,179.92 L188.62,179.68 L188.97,179.40 L189.32,179.30 L189.67,179.37 L190.02,179.62 L190.37,179.95 L190.72,180.23 L191.07,180.18 L191.42,179.88 L191.77,179.48 L192.12,179.22 L192.47,179.33 L192.82,179.59 L193.17,179.94 L193.52,180.22 L193.87,180.47 L194.21,180.47 L194.56,180.32 L194.91,180.17 L195.26,180.17 L195.61,180.27 L195.96,180.21 L196.31,180.12 L196.66,180.48 L197.01,180.78 L197.36,180.40 L197.71,179.88 L198.06,179.62 L198.41,179.76 L198.75,180.20 L199.10,180.43 L199.45,180.72 L199.80,181.17 L200.15,181.15 L200.50,180.70 L200.85,180.63 L201.20,180.70 L201.55,180.66 L201.90,180.63 L202.25,180.76 L202.59,180.98 L202.94,180.98 L203.29,180.96 L203.64,181.09 L203.99,181.08 L204.34,180.99 L204.69,181.09 L205.04,181.25 L205.38,181.03 L205.73,180.62 L206.08,180.34 L206.43,180.28 L206.78,180.38 L207.13,180.58 L207.47,180.50 L207.82,180.33 L208.17,180.65 L208.52,181.01 L208.87,180.99 L209.22,180.95 L209.56,181.05 L209.91,180.78 L210.26,180.48 L210.61,180.61 L210.96,181.14 L211.30,181.64 L211.65,181.73 L212.00,181.34 L212.35,180.90 L212.70,180.80 L213.04,180.87 L213.39,180.89 L213.74,180.93 L214.09,181.32 L214.44,181.67 L214.78,181.69 L215.13,181.53 L215.48,181.18 L215.83,181.07 L216.18,181.50 L216.52,182.10 L216.87,182.25 L217.22,182.14 L217.57,182.19 L217.92,182.31 L218.26,182.45 L218.61,182.34 L218.96,182.16 L219.31,182.08 L219.66,181.80 L220.00,181.54 L220.35,181.63 L220.70,182.01 L221.05,182.21 L221.40,182.27 L221.74,182.44 L222.09,182.61 L222.44,182.45 L222.79,182.50 L223.14,182.96 L223.49,183.11 L223.83,182.62 L224.18,182.13 L224.53,182.27 L224.88,182.72 L225.23,182.99 L225.58,182.98 L225.92,182.73 L226.27,182.75 L226.62,182.93 L226.97,183.17 L227.32,183.21 L227.67,183.07 L228.02,182.64 L228.36,182.27 L228.71,182.26 L229.06,182.47 L229.41,182.87 L229.76,183.46 L230.11,183.66 L230.46,183.30 L230.81,182.91 L231.16,182.92 L231.50,183.22 L231.85,183.60 L232.20,183.65 L232.55,183.39 L232.90,182.92 L233.25,182.54 L233.60,182.61 L233.95,182.93 L234.30,183.29 L234.65,183.34 L235.00,183.27 L235.34,183.48 L235.69,183.67 L236.04,183.36 L236.39,183.13 L236.74,183.19 L237.09,183.29 L237.44,183.55 L237.79,183.95 L238.14,183.95 L238.49,183.52 L238.84,183.49 L239.19,183.68 L239.54,183.72 L239.88,183.72 L240.23,183.85 L240.58,183.98 L240.93,183.88 L241.28,183.82 L241.63,183.89 L241.98,183.97 L242.33,184.10 L242.68,184.25 L243.03,184.19 L243.38,184.06 L243.73,183.85 L244.08,183.59 L244.43,183.50 L244.78,183.63 L245.12,183.80 L245.47,183.76 L245.82,183.81 L246.17,184.07 L246.52,184.12 L246.87,184.12 L247.22,184.44 L247.57,184.52 L247.92,184.51 L248.27,184.58 L248.62,184.50 L248.97,184.56 L249.32,184.69 L249.67,184.44 L250.02,184.37 L250.37,184.41 L250.72,184.27 L251.07,184.43 L251.42,184.90 L251.76,185.08 L252.11,184.70 L252.46,184.56 L252.81,184.65 L253.16,184.50 L253.51,184.34 L253.86,184.54 L254.21,184.78 L254.56,185.02 L254.91,185.24 L255.26,185.25 L255.61,185.03 L255.96,184.70 L256.31,184.46 L256.66,184.54 L257.01,184.68 L257.36,184.67 L257.71,184.67 L258.06,184.92 L258.41,185.48 L258.76,185.63 L259.11,185.24 L259.46,185.01 L259.80,185.11 L260.15,185.32 L260.50,185.26 L260.85,185.06 L261.20,184.91 L261.55,184.83 L261.90,184.82 L262.25,184.94 L262.60,185.01 L262.95,185.18 L263.30,185.37 L263.65,185.49 L264.00,185.44 L264.35,185.33 L264.70,185.16 L265.05,185.19 L265.40,185.23 L265.75,185.30 L266.10,185.36 L266.45,185.20 L266.80,184.86 L267.14,184.86 L267.49,184.99 L267.84,185.05 L268.19,184.70 L268.54,184.56 L268.89,184.90 L269.24,185.33 L269.59,185.28 L269.94,185.16 L270.29,184.96 L270.64,184.85 L270.99,185.19 L271.34,185.59 L271.69,185.75 L272.04,185.77 L272.39,185.63 L272.74,185.53 L273.09,185.63 L273.44,186.02 L273.79,186.32 L274.14,186.14 L274.49,185.76 L274.83,185.52 L275.18,185.63 L275.53,185.79 L275.88,185.52 L276.23,185.36 L276.58,185.58 L276.93,185.90 L277.28,185.93 L277.63,185.60 L277.98,185.73 L278.33,185.85 L278.68,185.63 L279.03,185.71 L279.38,186.16 L279.73,186.25 L280.08,185.77 L280.43,185.67 L280.78,186.22 L281.13,186.42 L281.48,185.91 L281.83,185.66 L282.18,186.09 L282.53,186.37 L282.88,186.40 L283.23,186.19 L283.58,186.02 L283.92,186.24 L284.27,186.63 L284.62,186.38 L284.97,185.76 L285.32,185.88 L285.67,186.32 L286.02,186.12 L286.37,185.81 L286.72,185.93 L287.07,186.09 L287.42,186.08 L287.77,186.00 L288.12,186.00 L288.47,186.07 L288.82,186.10 L289.17,186.01 L289.52,186.08 L289.87,186.39 L290.22,186.68 L290.57,186.62 L290.92,186.49 L291.27,186.56 L291.62,186.72 L291.97,186.88 L292.32,187.03 L292.67,187.20 L293.02,187.03 L293.37,186.59 L293.72,186.45 L294.07,186.62 L294.42,186.57 L294.77,186.14 L295.12,185.65 L295.47,185.68 L295.82,186.27 L296.17,186.69 L296.52,186.59 L296.87,186.36 L297.22,186.43 L297.57,186.47 L297.92,186.51 L298.27,186.42 L298.62,186.10 L298.97,185.75 L299.32,185.48 L299.67,185.50 L300.02,185.77 L300.37,186.27 L300.72,186.65 L301.07,186.79 L301.42,186.63 L301.77,186.43 L302.12,186.44 L302.47,186.52 L302.82,186.62 L303.17,186.50 L303.52,186.30 L303.87,186.34 L304.22,186.47 L304.57,186.66 L304.92,187.00 L305.27,187.08 L305.62,186.61 L305.97,186.04 L306.32,185.78 L306.67,185.95 L307.02,185.95 L307.37,185.93 L307.72,186.33 L308.07,186.56 L308.42,186.37 L308.77,186.23 L309.12,186.29 L309.47,186.35 L309.82,186.28 L310.17,186.62 L310.52,187.08 L310.87,187.03 L311.22,186.77 L311.57,186.46 L311.92,186.30 L312.27,186.45 L312.62,186.55 L312.97,186.54 L313.32,186.85 L313.67,187.17 L314.02,186.89 L314.37,186.23 L314.72,185.94 L315.07,186.21 L315.42,186.82 L315.77,187.09 L316.12,186.86 L316.47,186.41 L316.82,186.28 L317.17,186.50 L317.52,186.59 L317.87,186.57 L318.22,186.77 L318.57,186.93 L318.92,186.68 L319.27,186.16 L319.62,185.96 L319.97,186.32 L320.32,186.65 L320.67,186.64 L321.02,186.55 L321.37,186.65 L321.72,186.88 L322.07,186.89 L322.42,186.69 L322.77,186.48 L323.12,186.49 L323.47,186.53 L323.82,186.34 L324.17,186.32 L324.52,186.73 L324.87,187.20 L325.22,187.38 L325.57,187.35 L325.92,187.01 L326.27,186.58 L326.62,186.41 L326.97,186.76 L327.32,187.26 L327.67,187.40 L328.02,187.38 L328.37,187.27 L328.72,187.06 L329.07,186.97 L329.42,187.09 L329.77,187.27 L330.12,187.32 L330.47,187.22 L330.82,186.99 L331.17,186.74 L331.40,186.67"/>
</g>
<g clip-path="url(#cr)">
<path class="ln" stroke="#1f77b4" stroke-width="2.1" d="M418.50,104.20 L418.50,105.20 L418.50,106.20 L418.50,107.20 L418.51,108.20 L418.51,109.20 L418.52,110.20 L418.52,111.20 L418.53,112.20 L418.54,113.20 L418.54,114.20 L418.55,115.20 L418.57,116.20 L418.59,117.20 L418.63,118.20 L418.67,119.20 L418.72,120.20 L418.77,121.20 L418.83,122.20 L418.88,123.20 L418.94,124.20 L419.01,125.20 L419.09,126.20 L419.18,127.20 L419.28,128.20 L419.38,129.20 L419.49,130.20 L419.60,131.20 L419.72,132.20 L419.86,133.20 L420.02,134.20 L420.19,135.20 L420.36,136.20 L420.53,137.20 L420.70,138.20 L420.88,139.20 L421.06,140.20 L421.45,141.40 L421.70,141.78 L421.95,142.15 L422.20,142.49 L422.45,142.81 L422.70,143.10 L422.95,143.35 L423.20,143.58 L423.45,143.78 L423.70,143.96 L423.95,144.12 L424.20,144.28 L424.45,144.43 L424.70,144.59 L424.95,144.75 L425.20,144.93 L425.45,145.12 L425.70,145.36 L425.95,145.59 L426.20,145.79 L426.45,145.92 L426.70,146.02 L426.95,146.11 L427.20,146.21 L427.45,146.29 L427.70,146.38 L427.95,146.46 L428.20,146.53 L428.45,146.60 L428.70,146.67 L428.95,146.74 L429.20,146.80 L429.45,146.86 L429.70,146.92 L429.95,146.97 L430.20,147.02 L430.45,147.07 L430.70,147.12 L430.95,147.17 L431.20,147.21 L431.45,147.25 L431.70,147.29 L431.95,147.33 L432.20,147.37 L432.45,147.40 L432.70,147.44 L432.95,147.47 L433.20,147.50 L433.45,147.53 L433.70,147.56 L433.95,147.59 L434.20,147.62 L434.45,147.65 L434.70,147.68 L434.95,147.71 L435.20,147.74 L435.45,147.77 L435.70,147.79 L435.95,147.82 L436.20,147.85 L436.45,147.87 L436.70,147.90 L436.95,147.92 L437.20,147.95 L437.45,147.97 L437.70,148.00 L437.95,148.02 L438.20,148.04 L438.45,148.07 L438.70,148.09 L438.95,148.11 L439.20,148.13 L439.45,148.15 L439.70,148.18 L439.95,148.20 L440.20,148.22 L440.45,148.24 L440.70,148.26 L440.95,148.28 L441.20,148.30 L441.45,148.31 L441.70,148.33 L441.95,148.35 L442.20,148.37 L442.45,148.39 L442.70,148.41 L442.95,148.42 L443.20,148.44 L443.45,148.46 L443.70,148.47 L443.95,148.49 L444.20,148.51 L444.45,148.52 L444.70,148.54 L444.95,148.55 L445.20,148.57 L445.45,148.58 L445.70,148.60 L445.95,148.61 L446.20,148.63 L446.45,148.64 L446.70,148.66 L446.95,148.67 L447.20,148.69 L447.45,148.70 L447.70,148.71 L447.95,148.73 L448.20,148.74 L448.45,148.75 L448.70,148.77 L448.95,148.78 L449.20,148.79 L449.45,148.81 L449.70,148.82 L449.95,148.83 L450.20,148.84 L450.45,148.86 L450.70,148.87 L450.95,148.88 L451.20,148.89 L451.45,148.91 L451.70,148.92 L451.95,148.93 L452.20,148.94 L452.45,148.96 L452.70,148.97 L452.95,148.98 L453.20,148.99 L453.45,149.01 L453.70,149.02 L453.95,149.03 L454.20,149.04 L454.45,149.05 L454.70,149.07 L454.95,149.08 L455.20,149.09 L455.45,149.10 L455.70,149.11 L455.95,149.13 L456.20,149.14 L456.45,149.15 L456.70,149.16 L456.95,149.17 L457.20,149.18 L457.45,149.19 L457.70,149.21 L457.95,149.22 L458.20,149.23 L458.45,149.24 L458.70,149.25 L458.95,149.26 L459.20,149.27 L459.45,149.28 L459.70,149.29 L459.95,149.30 L460.20,149.31 L460.45,149.32 L460.70,149.33 L460.95,149.34 L461.20,149.36 L461.45,149.37 L461.70,149.38 L461.95,149.38 L462.20,149.39 L462.45,149.40 L462.70,149.41 L462.95,149.42 L463.20,149.43 L463.45,149.44 L463.70,149.45 L463.95,149.46 L464.20,149.47 L464.45,149.48 L464.70,149.49 L464.95,149.49 L465.20,149.50 L465.45,149.51 L465.70,149.52 L465.95,149.53 L466.20,149.54 L466.45,149.54 L466.70,149.55 L466.95,149.56 L467.20,149.57 L467.45,149.57 L467.70,149.58 L467.95,149.59 L468.20,149.59 L468.45,149.60 L468.70,149.61 L468.95,149.61 L469.20,149.62 L469.45,149.63 L469.70,149.63 L469.95,149.64 L470.20,149.64 L470.45,149.65 L470.70,149.66 L470.95,149.66 L471.20,149.67 L471.45,149.67 L471.70,149.68 L471.95,149.68 L472.20,149.69 L472.45,149.69 L472.70,149.69 L472.95,149.70 L473.10,149.70 L473.20,149.70 L473.30,8.00 L473.34,9.00 L473.39,10.00 L473.43,11.00 L473.47,12.00 L473.51,13.00 L473.55,14.00 L473.58,15.00 L473.60,16.00 L473.62,17.00 L473.63,18.00 L473.65,19.00 L473.66,20.00 L473.68,21.00 L473.69,22.00 L473.70,23.00 L473.71,24.00 L473.72,25.00 L473.73,26.00 L473.74,27.00 L473.75,28.00 L473.76,29.00 L473.77,30.00 L473.78,31.00 L473.79,32.00 L473.80,33.00 L473.80,34.00 L473.81,35.00 L473.82,36.00 L473.82,37.00 L473.83,38.00 L473.84,39.00 L473.84,40.00 L473.85,41.00 L473.86,42.00 L473.86,43.00 L473.87,44.00 L473.88,45.00 L473.88,46.00 L473.89,47.00 L473.90,48.00 L473.90,49.00 L473.91,50.00 L473.92,51.00 L473.92,52.00 L473.93,53.00 L473.94,54.00 L473.95,55.00 L473.96,56.00 L473.97,57.00 L473.98,58.00 L473.99,59.00 L474.00,60.00 L474.01,61.00 L474.02,62.00 L474.03,63.00 L474.05,64.00 L474.06,65.00 L474.07,66.00 L474.08,67.00 L474.09,68.00 L474.10,69.00 L474.12,70.00 L474.13,71.00 L474.14,72.00 L474.15,73.00 L474.17,74.00 L474.18,75.00 L474.19,76.00 L474.21,77.00 L474.22,78.00 L474.23,79.00 L474.25,80.00 L474.26,81.00 L474.28,82.00 L474.29,83.00 L474.31,84.00 L474.32,85.00 L474.34,86.00 L474.35,87.00 L474.37,88.00 L474.39,89.00 L474.40,90.00 L474.42,91.00 L474.44,92.00 L474.46,93.00 L474.48,94.00 L474.50,95.00 L474.52,96.00 L474.54,97.00 L474.56,98.00 L474.58,99.00 L474.60,100.00 L474.62,101.00 L474.65,102.00 L474.67,103.00 L474.69,104.00 L474.72,105.00 L474.75,106.00 L474.78,107.00 L474.81,108.00 L474.84,109.00 L474.87,110.00 L474.90,111.00 L474.94,112.00 L474.98,113.00 L475.02,114.00 L475.06,115.00 L475.10,116.00 L475.15,117.00 L475.20,118.00 L475.25,119.00 L475.30,120.00 L475.36,121.00 L475.42,122.00 L475.50,123.00 L475.58,124.00 L475.67,125.00 L475.77,126.00 L475.87,127.00 L475.98,128.00 L476.10,129.00 L476.22,130.00 L476.34,131.00 L476.48,132.00 L476.61,133.00 L476.75,134.00 L476.90,135.00 L477.05,136.00 L477.20,137.00 L477.36,138.00 L477.55,139.00 L477.74,140.00 L477.96,141.00 L478.19,142.00 L478.42,143.00 L478.67,144.00 L478.93,145.00 L479.19,146.00 L479.46,147.00 L479.85,148.34 L480.10,149.17 L480.35,149.99 L480.60,150.80 L480.85,151.59 L481.10,152.36 L481.35,153.11 L481.60,153.84 L481.85,154.54 L482.10,155.22 L482.35,155.86 L482.60,156.48 L482.85,157.06 L483.10,157.60 L483.35,158.12 L483.60,158.63 L483.85,159.14 L484.10,159.63 L484.35,160.12 L484.60,160.59 L484.85,161.06 L485.10,161.51 L485.35,161.96 L485.60,162.39 L485.85,162.81 L486.10,163.21 L486.35,163.61 L486.60,163.99 L486.85,164.36 L487.10,164.71 L487.35,165.05 L487.60,165.37 L487.85,165.68 L488.10,165.98 L488.35,166.25 L488.60,166.51 L488.85,166.75 L489.10,166.98 L489.35,167.20 L489.60,167.41 L489.85,167.61 L490.10,167.81 L490.35,168.00 L490.60,168.18 L490.85,168.36 L491.10,168.53 L491.35,168.69 L491.60,168.85 L491.85,169.01 L492.10,169.16 L492.35,169.31 L492.60,169.45 L492.85,169.59 L493.10,169.73 L493.35,169.87 L493.60,170.01 L493.85,170.14 L494.10,170.28 L494.35,170.41 L494.60,170.54 L494.85,170.68 L495.10,170.81 L495.35,170.95 L495.60,171.09 L495.85,171.23 L496.10,171.37 L496.35,171.51 L496.60,171.66 L496.85,171.80 L497.10,171.93 L497.35,172.06 L497.60,172.18 L497.85,172.30 L498.10,172.40 L498.35,172.50 L498.60,172.59 L498.85,172.68 L499.10,172.77 L499.35,172.86 L499.60,172.94 L499.85,173.02 L500.10,173.10 L500.35,173.18 L500.60,173.25 L500.85,173.32 L501.10,173.39 L501.35,173.46 L501.60,173.53 L501.85,173.60 L502.10,173.66 L502.35,173.73 L502.60,173.79 L502.85,173.85 L503.10,173.91 L503.35,173.97 L503.60,174.03 L503.85,174.09 L504.10,174.15 L504.35,174.20 L504.60,174.26 L504.85,174.31 L505.10,174.36 L505.35,174.41 L505.60,174.46 L505.85,174.51 L506.10,174.56 L506.35,174.60 L506.60,174.65 L506.85,174.70 L507.10,174.74 L507.35,174.78 L507.60,174.83 L507.85,174.87 L508.10,174.92 L508.35,174.96 L508.60,175.00 L508.85,175.05 L509.10,175.09 L509.35,175.14 L509.60,175.18 L509.85,175.23 L510.10,175.27 L510.35,175.32 L510.60,175.36 L510.85,175.41 L511.10,175.46 L511.35,175.50 L511.60,175.55 L511.85,175.59 L512.10,175.64 L512.35,175.68 L512.60,175.73 L512.85,175.77 L513.10,175.82 L513.35,175.86 L513.60,175.90 L513.85,175.94 L514.10,175.99 L514.35,176.03 L514.60,176.07 L514.85,176.10 L515.10,176.14 L515.35,176.18 L515.60,176.21 L515.85,176.25 L516.10,176.28 L516.35,176.32 L516.60,176.35 L516.85,176.39 L517.10,176.42 L517.35,176.46 L517.60,176.49 L517.85,176.53 L518.10,176.56 L518.35,176.59 L518.60,176.63 L518.85,176.66 L519.10,176.69 L519.35,176.72 L519.60,176.76 L519.85,176.79 L520.10,176.82 L520.35,176.85 L520.60,176.88 L520.85,176.91 L521.10,176.94 L521.35,176.97 L521.60,177.00 L521.85,177.03 L522.10,177.06 L522.35,177.09 L522.60,177.12 L522.85,177.15 L523.10,177.17 L523.35,177.20 L523.60,177.23 L523.85,177.26 L524.10,177.28 L524.35,177.31 L524.60,177.33 L524.85,177.36 L525.10,177.38 L525.35,177.41 L525.60,177.43 L525.85,177.45 L526.10,177.47 L526.35,177.50 L526.60,177.52 L526.85,177.54 L527.10,177.56 L527.35,177.58 L527.60,177.60 L527.70,177.60 L527.80,8.00 L527.83,9.00 L527.85,10.00 L527.88,11.00 L527.91,12.00 L527.93,13.00 L527.96,14.00 L527.98,15.00 L528.00,16.00 L528.02,17.00 L528.04,18.00 L528.05,19.00 L528.07,20.00 L528.08,21.00 L528.10,22.00 L528.11,23.00 L528.13,24.00 L528.14,25.00 L528.15,26.00 L528.17,27.00 L528.18,28.00 L528.19,29.00 L528.20,30.00 L528.22,31.00 L528.23,32.00 L528.24,33.00 L528.25,34.00 L528.26,35.00 L528.27,36.00 L528.28,37.00 L528.29,38.00 L528.30,39.00 L528.31,40.00 L528.32,41.00 L528.33,42.00 L528.34,43.00 L528.35,44.00 L528.36,45.00 L528.37,46.00 L528.39,47.00 L528.40,48.00 L528.41,49.00 L528.42,50.00 L528.43,51.00 L528.44,52.00 L528.45,53.00 L528.46,54.00 L528.47,55.00 L528.49,56.00 L528.50,57.00 L528.51,58.00 L528.53,59.00 L528.54,60.00 L528.55,61.00 L528.57,62.00 L528.58,63.00 L528.60,64.00 L528.62,65.00 L528.63,66.00 L528.65,67.00 L528.67,68.00 L528.68,69.00 L528.70,70.00 L528.72,71.00 L528.73,72.00 L528.75,73.00 L528.77,74.00 L528.79,75.00 L528.81,76.00 L528.82,77.00 L528.84,78.00 L528.86,79.00 L528.88,80.00 L528.90,81.00 L528.92,82.00 L528.94,83.00 L528.96,84.00 L528.98,85.00 L529.00,86.00 L529.03,87.00 L529.05,88.00 L529.07,89.00 L529.09,90.00 L529.11,91.00 L529.14,92.00 L529.16,93.00 L529.18,94.00 L529.21,95.00 L529.23,96.00 L529.25,97.00 L529.28,98.00 L529.30,99.00 L529.33,100.00 L529.35,101.00 L529.38,102.00 L529.41,103.00 L529.43,104.00 L529.46,105.00 L529.49,106.00 L529.51,107.00 L529.54,108.00 L529.57,109.00 L529.60,110.00 L529.63,111.00 L529.66,112.00 L529.68,113.00 L529.71,114.00 L529.74,115.00 L529.77,116.00 L529.79,117.00 L529.82,118.00 L529.85,119.00 L529.88,120.00 L529.90,121.00 L529.93,122.00 L529.96,123.00 L529.99,124.00 L530.02,125.00 L530.06,126.00 L530.09,127.00 L530.13,128.00 L530.16,129.00 L530.20,130.00 L530.24,131.00 L530.28,132.00 L530.32,133.00 L530.37,134.00 L530.41,135.00 L530.46,136.00 L530.52,137.00 L530.57,138.00 L530.63,139.00 L530.68,140.00 L530.75,141.00 L530.81,142.00 L530.88,143.00 L530.95,144.00 L531.02,145.00 L531.10,146.00 L531.20,147.00 L531.34,148.00 L531.52,149.00 L531.71,150.00 L531.93,151.00 L532.15,152.00 L532.38,153.00 L532.60,154.00 L532.85,155.13 L533.10,156.23 L533.35,157.30 L533.60,158.33 L533.85,159.33 L534.10,160.28 L534.35,161.19 L534.60,162.09 L534.85,162.95 L535.10,163.79 L535.35,164.60 L535.60,165.39 L535.85,166.15 L536.10,166.91 L536.35,167.67 L536.60,168.40 L536.85,169.10 L537.10,169.74 L537.35,170.31 L537.60,170.78 L537.85,171.23 L538.10,171.66 L538.35,172.07 L538.60,172.46 L538.85,172.83 L539.10,173.19 L539.35,173.52 L539.60,173.84 L539.85,174.13 L540.10,174.40 L540.35,174.65 L540.60,174.88 L540.85,175.09 L541.10,175.27 L541.35,175.45 L541.60,175.61 L541.85,175.77 L542.10,175.92 L542.35,176.07 L542.60,176.20 L542.85,176.33 L543.10,176.45 L543.35,176.55 L543.60,176.65 L543.85,176.74 L544.10,176.82 L544.35,176.89 L544.60,176.95 L544.85,177.01 L545.10,177.07 L545.35,177.12 L545.60,177.18 L545.85,177.23 L546.10,177.29 L546.35,177.34 L546.60,177.39 L546.85,177.44 L547.10,177.49 L547.35,177.53 L547.60,177.58 L547.85,177.62 L548.10,177.67 L548.35,177.71 L548.60,177.75 L548.85,177.79 L549.10,177.83 L549.35,177.87 L549.60,177.90 L549.85,177.94 L550.10,177.97 L550.35,178.00 L550.60,178.03 L550.85,178.06 L551.10,178.09 L551.35,178.12 L551.60,178.15 L551.85,178.17 L552.10,178.20 L552.35,178.22 L552.60,178.24 L552.85,178.27 L553.10,178.29 L553.35,178.30 L553.60,178.32 L553.85,178.34 L554.10,178.35 L554.35,178.37 L554.60,178.38 L554.85,178.39 L555.10,178.40 L555.35,178.42 L555.60,178.43 L555.85,178.44 L556.10,178.45 L556.35,178.46 L556.60,178.47 L556.85,178.48 L557.10,178.49 L557.35,178.50 L557.60,178.51 L557.85,178.52 L558.10,178.53 L558.35,178.54 L558.60,178.55 L558.85,178.56 L559.10,178.57 L559.35,178.58 L559.60,178.58 L559.85,178.59 L560.10,178.60 L560.35,178.61 L560.60,178.62 L560.85,178.63 L561.10,178.64 L561.35,178.65 L561.60,178.65 L561.85,178.66 L562.10,178.67 L562.35,178.68 L562.60,178.69 L562.85,178.70 L563.10,178.70 L563.35,178.71 L563.60,178.72 L563.85,178.73 L564.10,178.73 L564.35,178.74 L564.60,178.75 L564.85,178.76 L565.10,178.76 L565.35,178.77 L565.60,178.78 L565.85,178.78 L566.10,178.79 L566.35,178.80 L566.60,178.80 L566.85,178.81 L567.10,178.82 L567.35,178.82 L567.60,178.83 L567.85,178.83 L568.10,178.84 L568.35,178.85 L568.60,178.85 L568.85,178.86 L569.10,178.86 L569.35,178.87 L569.60,178.87 L569.85,178.88 L570.10,178.88 L570.35,178.89 L570.60,178.89 L570.85,178.90 L571.10,178.90 L571.35,178.91 L571.60,178.91 L571.85,178.92 L572.10,178.92 L572.35,178.92 L572.60,178.93 L572.85,178.93 L573.10,178.94 L573.35,178.94 L573.60,178.94 L573.85,178.95 L574.10,178.95 L574.35,178.95 L574.60,178.96 L574.85,178.96 L575.10,178.96 L575.35,178.96 L575.60,178.97 L575.85,178.97 L576.10,178.97 L576.35,178.98 L576.60,178.98 L576.85,178.98 L577.10,178.98 L577.35,178.98 L577.60,178.99 L577.85,178.99 L578.10,178.99 L578.35,178.99 L578.60,178.99 L578.85,178.99 L579.10,178.99 L579.35,179.00 L579.60,179.00 L579.85,179.00 L580.10,179.00 L580.35,179.00 L580.60,179.00 L580.85,179.00 L581.10,179.00 L581.35,179.00 L581.60,179.00 L582.20,179.00 L582.40,8.00 L582.44,9.00 L582.49,10.00 L582.53,11.00 L582.58,12.00 L582.62,13.00 L582.65,14.00 L582.68,15.00 L582.70,16.00 L582.71,17.00 L582.73,18.00 L582.74,19.00 L582.75,20.00 L582.77,21.00 L582.78,22.00 L582.79,23.00 L582.80,24.00 L582.80,25.00 L582.81,26.00 L582.82,27.00 L582.83,28.00 L582.83,29.00 L582.84,30.00 L582.85,31.00 L582.85,32.00 L582.86,33.00 L582.86,34.00 L582.87,35.00 L582.87,36.00 L582.88,37.00 L582.89,38.00 L582.89,39.00 L582.90,40.00 L582.90,41.00 L582.91,42.00 L582.91,43.00 L582.92,44.00 L582.93,45.00 L582.93,46.00 L582.94,47.00 L582.95,48.00 L582.96,49.00 L582.97,50.00 L582.98,51.00 L582.99,52.00 L583.00,53.00 L583.01,54.00 L583.02,55.00 L583.04,56.00 L583.05,57.00 L583.06,58.00 L583.08,59.00 L583.09,60.00 L583.11,61.00 L583.13,62.00 L583.14,63.00 L583.16,64.00 L583.18,65.00 L583.19,66.00 L583.21,67.00 L583.23,68.00 L583.25,69.00 L583.27,70.00 L583.29,71.00 L583.31,72.00 L583.34,73.00 L583.36,74.00 L583.38,75.00 L583.40,76.00 L583.43,77.00 L583.45,78.00 L583.48,79.00 L583.50,80.00 L583.53,81.00 L583.56,82.00 L583.59,83.00 L583.62,84.00 L583.64,85.00 L583.67,86.00 L583.70,87.00 L583.74,88.00 L583.77,89.00 L583.80,90.00 L583.83,91.00 L583.87,92.00 L583.91,93.00 L583.96,94.00 L584.00,95.00 L584.05,96.00 L584.10,97.00 L584.15,98.00 L584.21,99.00 L584.27,100.00 L584.33,101.00 L584.39,102.00 L584.45,103.00 L584.52,104.00 L584.58,105.00 L584.65,106.00 L584.72,107.00 L584.79,108.00 L584.86,109.00 L584.94,110.00 L585.01,111.00 L585.09,112.00 L585.16,113.00 L585.24,114.00 L585.31,115.00 L585.39,116.00 L585.47,117.00 L585.55,118.00 L585.62,119.00 L585.70,120.00 L585.78,121.00 L585.85,122.00 L585.93,123.00 L586.01,124.00 L586.09,125.00 L586.17,126.00 L586.25,127.00 L586.33,128.00 L586.41,129.00 L586.49,130.00 L586.57,131.00 L586.66,132.00 L586.74,133.00 L586.83,134.00 L586.92,135.00 L587.01,136.00 L587.10,137.00 L587.19,138.00 L587.29,139.00 L587.38,140.00 L587.48,141.00 L587.59,142.00 L587.69,143.00 L587.80,144.00 L587.90,145.00 L588.02,146.00 L588.13,147.00 L588.25,148.00 L588.37,149.00 L588.49,150.00 L588.62,151.00 L588.75,152.00 L588.88,153.00 L589.02,154.00 L589.16,155.00 L589.30,156.00 L589.46,157.00 L589.65,158.00 L589.87,159.00 L590.08,160.00 L590.30,161.00 L590.55,162.13 L590.80,163.24 L591.05,164.31 L591.30,165.34 L591.55,166.32 L591.80,167.25 L592.05,168.12 L592.30,168.98 L592.55,169.83 L592.80,170.66 L593.05,171.47 L593.30,172.25 L593.55,173.00 L593.80,173.70 L594.05,174.36 L594.30,174.97 L594.55,175.52 L594.80,176.00 L595.05,176.44 L595.30,176.85 L595.55,177.23 L595.80,177.60 L596.05,177.95 L596.30,178.28 L596.55,178.59 L596.80,178.89 L597.05,179.18 L597.30,179.46 L597.55,179.74 L597.80,180.01 L598.05,180.27 L598.30,180.53 L598.55,180.80 L598.80,181.06 L599.05,181.33 L599.30,181.61 L599.55,181.90 L599.80,182.18 L600.05,182.47 L600.30,182.77 L600.55,183.06 L600.80,183.35 L601.05,183.63 L601.30,183.91 L601.55,184.19 L601.80,184.45 L602.05,184.70 L602.30,184.95 L602.55,185.17 L602.80,185.39 L603.05,185.58 L603.30,185.76 L603.55,185.92 L603.80,186.05 L604.05,186.18 L604.30,186.31 L604.55,186.43 L604.80,186.55 L605.05,186.67 L605.30,186.78 L605.55,186.89 L605.80,187.00 L606.05,187.10 L606.30,187.21 L606.55,187.31 L606.80,187.40 L607.05,187.50 L607.30,187.59 L607.55,187.68 L607.80,187.77 L608.05,187.85 L608.30,187.93 L608.55,188.01 L608.80,188.09 L609.05,188.17 L609.30,188.25 L609.55,188.32 L609.80,188.39 L610.05,188.46 L610.30,188.53 L610.55,188.60 L610.80,188.66 L611.05,188.73 L611.30,188.79 L611.55,188.85 L611.80,188.91 L612.05,188.97 L612.30,189.03 L612.55,189.09 L612.80,189.15 L613.05,189.20 L613.30,189.26 L613.55,189.32 L613.80,189.37 L614.05,189.42 L614.30,189.48 L614.55,189.53 L614.80,189.58 L615.05,189.64 L615.30,189.69 L615.55,189.74 L615.80,189.79 L616.05,189.84 L616.30,189.88 L616.55,189.93 L616.80,189.98 L617.05,190.02 L617.30,190.07 L617.55,190.11 L617.80,190.16 L618.05,190.20 L618.30,190.24 L618.55,190.28 L618.80,190.32 L619.05,190.37 L619.30,190.41 L619.55,190.44 L619.80,190.48 L620.05,190.52 L620.30,190.56 L620.55,190.60 L620.80,190.63 L621.05,190.67 L621.30,190.71 L621.55,190.74 L621.80,190.78 L622.05,190.81 L622.30,190.85 L622.55,190.88 L622.80,190.91 L623.05,190.95 L623.30,190.98 L623.55,191.01 L623.80,191.05 L624.05,191.08 L624.30,191.11 L624.55,191.14 L624.80,191.17 L625.05,191.21 L625.30,191.24 L625.55,191.27 L625.80,191.30 L626.05,191.33 L626.30,191.36 L626.55,191.39 L626.80,191.42 L627.05,191.45 L627.30,191.48 L627.55,191.51 L627.80,191.54 L628.05,191.57 L628.30,191.60 L628.55,191.63 L628.80,191.66 L629.05,191.69 L629.30,191.71 L629.55,191.74 L629.80,191.77 L630.05,191.80 L630.30,191.82 L630.55,191.85 L630.80,191.88 L631.05,191.90 L631.30,191.93 L631.55,191.95 L631.80,191.98 L632.05,192.00 L632.30,192.03 L632.55,192.05 L632.80,192.08 L633.05,192.10 L633.30,192.12 L633.55,192.15 L633.80,192.17 L634.05,192.19 L634.30,192.21 L634.55,192.24 L634.80,192.26 L635.05,192.28 L635.30,192.30 L635.55,192.32 L635.80,192.34 L636.05,192.36 L636.30,192.38 L636.55,192.40 L636.60,192.40 L636.75,192.40 L636.85,8.00 L636.86,9.00 L636.86,10.00 L636.87,11.00 L636.88,12.00 L636.88,13.00 L636.89,14.00 L636.90,15.00 L636.90,16.00 L636.90,17.00 L636.91,18.00 L636.91,19.00 L636.91,20.00 L636.92,21.00 L636.92,22.00 L636.92,23.00 L636.92,24.00 L636.93,25.00 L636.93,26.00 L636.93,27.00 L636.93,28.00 L636.94,29.00 L636.94,30.00 L636.94,31.00 L636.94,32.00 L636.94,33.00 L636.95,34.00 L636.95,35.00 L636.95,36.00 L636.95,37.00 L636.95,38.00 L636.95,39.00 L636.96,40.00 L636.96,41.00 L636.96,42.00 L636.96,43.00 L636.96,44.00 L636.96,45.00 L636.97,46.00 L636.97,47.00 L636.97,48.00 L636.97,49.00 L636.97,50.00 L636.98,51.00 L636.98,52.00 L636.98,53.00 L636.98,54.00 L636.99,55.00 L636.99,56.00 L636.99,57.00 L636.99,58.00 L637.00,59.00 L637.00,60.00 L637.00,61.00 L637.01,62.00 L637.01,63.00 L637.01,64.00 L637.02,65.00 L637.02,66.00 L637.03,67.00 L637.03,68.00 L637.03,69.00 L637.04,70.00 L637.04,71.00 L637.05,72.00 L637.05,73.00 L637.06,74.00 L637.06,75.00 L637.07,76.00 L637.07,77.00 L637.08,78.00 L637.08,79.00 L637.09,80.00 L637.10,81.00 L637.10,82.00 L637.11,83.00 L637.12,84.00 L637.12,85.00 L637.13,86.00 L637.14,87.00 L637.14,88.00 L637.15,89.00 L637.16,90.00 L637.17,91.00 L637.18,92.00 L637.18,93.00 L637.19,94.00 L637.20,95.00 L637.21,96.00 L637.22,97.00 L637.23,98.00 L637.24,99.00 L637.25,100.00 L637.26,101.00 L637.27,102.00 L637.29,103.00 L637.30,104.00 L637.32,105.00 L637.34,106.00 L637.35,107.00 L637.37,108.00 L637.40,109.00 L637.42,110.00 L637.44,111.00 L637.46,112.00 L637.49,113.00 L637.51,114.00 L637.54,115.00 L637.56,116.00 L637.59,117.00 L637.62,118.00 L637.65,119.00 L637.67,120.00 L637.70,121.00 L637.73,122.00 L637.76,123.00 L637.79,124.00 L637.81,125.00 L637.84,126.00 L637.87,127.00 L637.90,128.00 L637.93,129.00 L637.95,130.00 L637.98,131.00 L638.01,132.00 L638.03,133.00 L638.06,134.00 L638.08,135.00 L638.11,136.00 L638.13,137.00 L638.16,138.00 L638.18,139.00 L638.21,140.00 L638.24,141.00 L638.27,142.00 L638.30,143.00 L638.33,144.00 L638.37,145.00 L638.40,146.00 L638.44,147.00 L638.48,148.00 L638.52,149.00 L638.57,150.00 L638.62,151.00 L638.67,152.00 L638.72,153.00 L638.78,154.00 L638.84,155.00 L638.90,156.00 L638.98,157.00 L639.09,158.00 L639.22,159.00 L639.37,160.00 L639.54,161.00 L639.73,162.00 L639.94,163.00 L640.15,164.00 L640.38,165.00 L640.62,166.00 L640.86,167.00 L641.11,168.00 L641.35,169.00 L641.60,170.00 L641.85,171.01 L642.10,172.05 L642.35,173.11 L642.60,174.20 L642.85,175.32 L643.10,176.47 L643.35,177.75 L643.60,179.12 L643.85,180.54 L644.10,181.98 L644.35,183.37 L644.60,184.69 L644.85,185.89 L645.10,186.92 L645.35,187.75 L645.60,188.48 L645.85,189.17 L646.10,189.83 L646.35,190.46 L646.60,191.06 L646.85,191.62 L647.10,192.16 L647.35,192.67 L647.60,193.14 L647.85,193.60 L648.10,194.02 L648.35,194.42 L648.60,194.79 L648.85,195.14 L649.10,195.46 L649.35,195.76 L649.60,196.05 L649.85,196.32 L650.10,196.59 L650.35,196.86 L650.60,197.11 L650.85,197.35 L651.10,197.59 L651.35,197.82 L651.60,198.04 L651.85,198.25 L652.10,198.46 L652.35,198.65 L652.60,198.84 L652.85,199.02 L653.10,199.19 L653.35,199.36 L653.60,199.52 L653.85,199.67 L654.10,199.81 L654.35,199.94 L654.60,200.07 L654.85,200.19 L655.10,200.30 L655.35,200.41 L655.60,200.51 L655.85,200.61 L656.10,200.71 L656.35,200.81 L656.60,200.91 L656.85,201.00 L657.10,201.09 L657.35,201.18 L657.60,201.26 L657.85,201.35 L658.10,201.43 L658.35,201.51 L658.60,201.59 L658.85,201.67 L659.10,201.74 L659.35,201.82 L659.60,201.89 L659.85,201.96 L660.10,202.03 L660.35,202.09 L660.60,202.16 L660.85,202.22 L661.10,202.29 L661.35,202.35 L661.60,202.41 L661.85,202.47 L662.10,202.52 L662.35,202.58 L662.60,202.63 L662.85,202.69 L663.10,202.74 L663.35,202.79 L663.60,202.84 L663.85,202.89 L664.10,202.94 L664.35,202.99 L664.60,203.04 L664.85,203.08 L665.10,203.13 L665.35,203.17 L665.60,203.22 L665.85,203.26 L666.10,203.30 L666.35,203.35 L666.60,203.39 L666.85,203.43 L667.10,203.47 L667.35,203.51 L667.60,203.55 L667.85,203.59 L668.10,203.62 L668.35,203.66 L668.60,203.70 L668.85,203.73 L669.10,203.77 L669.35,203.80 L669.60,203.84 L669.85,203.87 L670.10,203.91 L670.35,203.94 L670.60,203.97 L670.85,204.00 L671.10,204.03 L671.35,204.07 L671.60,204.10 L671.85,204.13 L672.10,204.16 L672.35,204.19 L672.60,204.22 L672.85,204.24 L673.10,204.27 L673.35,204.30 L673.60,204.33 L673.85,204.36 L674.10,204.38 L674.35,204.41 L674.60,204.44 L674.85,204.47 L675.10,204.49 L675.35,204.52 L675.60,204.54 L675.85,204.57 L676.10,204.60 L676.35,204.62 L676.60,204.65 L676.85,204.67 L677.10,204.70 L677.35,204.73 L677.60,204.75 L677.85,204.78 L678.10,204.80 L678.35,204.83 L678.60,204.85 L678.85,204.88 L679.10,204.90 L679.35,204.93 L679.60,204.95 L679.85,204.97 L680.10,205.00 L680.35,205.02 L680.60,205.05 L680.85,205.07 L681.10,205.09 L681.35,205.12 L681.60,205.14 L681.85,205.16 L682.10,205.19 L682.35,205.21 L682.60,205.23 L682.85,205.26 L683.10,205.28 L683.35,205.30 L683.60,205.32 L683.85,205.34 L684.10,205.37 L684.35,205.39 L684.60,205.41 L684.85,205.43 L685.10,205.45 L685.35,205.47 L685.60,205.49 L685.85,205.51 L686.10,205.53 L686.35,205.55 L686.60,205.57 L686.85,205.59 L687.10,205.61 L687.35,205.63 L687.60,205.65 L687.85,205.66 L688.10,205.68 L688.35,205.70 L688.60,205.72 L688.85,205.74 L689.10,205.75 L689.35,205.77 L689.60,205.79 L689.85,205.80 L690.10,205.82 L690.35,205.84 L690.60,205.85 L690.85,205.87 L691.10,205.88 L691.35,205.90 L691.40,205.90"/>
<path class="ln" stroke="#ff7f0e" stroke-width="2.1" d="M418.45,108.00 L418.75,110.42 L419.05,112.55 L419.35,114.30 L419.65,115.60 L419.95,116.63 L420.25,117.49 L420.55,118.27 L420.85,119.02 L421.15,119.70 L421.45,120.33 L421.75,120.92 L422.05,121.47 L422.35,122.01 L422.65,122.54 L422.95,123.05 L423.25,123.54 L423.55,124.01 L423.85,124.46 L424.15,124.90 L424.45,125.31 L424.75,125.70 L425.05,126.06 L425.35,126.41 L425.65,126.74 L425.95,127.07 L426.25,127.38 L426.55,127.69 L426.85,127.98 L427.15,128.27 L427.45,128.55 L427.75,128.81 L428.05,129.07 L428.35,129.32 L428.65,129.56 L428.95,129.79 L429.25,130.02 L429.55,130.24 L429.85,130.45 L430.15,130.66 L430.45,130.86 L430.75,131.07 L431.05,131.26 L431.35,131.46 L431.65,131.64 L431.95,131.82 L432.25,131.99 L432.55,132.16 L432.85,132.31 L433.15,132.45 L433.45,132.59 L433.75,132.71 L434.05,132.82 L434.35,132.92 L434.65,133.03 L434.95,133.13 L435.25,133.23 L435.55,133.33 L435.85,133.43 L436.15,133.15 L436.45,133.58 L436.75,134.14 L437.05,133.74 L437.35,133.68 L437.65,133.96 L437.95,134.28 L438.25,134.09 L438.55,134.29 L438.85,134.26 L439.15,134.23 L439.45,134.91 L439.75,134.40 L440.05,134.33 L440.35,134.37 L440.65,134.55 L440.95,134.57 L441.25,134.65 L441.55,134.54 L441.85,134.27 L442.15,134.63 L442.45,134.49 L442.75,134.50 L443.05,134.29 L443.35,134.47 L443.65,134.44 L443.95,134.57 L444.25,134.32 L444.55,134.60 L444.85,134.62 L445.15,134.39 L445.45,134.49 L445.75,134.45 L446.05,134.76 L446.35,134.14 L446.65,134.52 L446.95,134.26 L447.25,134.46 L447.55,134.65 L447.85,134.35 L448.15,134.44 L448.45,134.22 L448.75,134.67 L449.05,134.43 L449.35,134.41 L449.65,133.91 L449.95,133.89 L450.25,134.22 L450.55,133.93 L450.85,133.86 L451.15,133.90 L451.45,133.56 L451.75,133.87 L452.05,133.68 L452.35,133.71 L452.65,133.46 L452.95,133.62 L453.25,133.36 L453.55,133.61 L453.85,133.59 L454.15,133.51 L454.45,133.39 L454.75,133.36 L455.05,132.71 L455.35,133.30 L455.65,133.05 L455.95,133.07 L456.25,132.95 L456.55,132.71 L456.85,132.81 L457.15,132.98 L457.45,133.07 L457.75,132.65 L458.05,132.56 L458.35,132.94 L458.65,132.47 L458.95,132.96 L459.25,132.55 L459.55,132.34 L459.85,132.63 L460.15,132.72 L460.45,132.11 L460.75,132.61 L461.05,132.24 L461.35,132.52 L461.65,132.15 L461.95,131.89 L462.25,132.23 L462.55,132.27 L462.85,132.44 L463.15,132.34 L463.45,132.12 L463.75,131.91 L464.05,131.83 L464.35,131.83 L464.65,131.70 L464.95,131.76 L465.25,131.32 L465.55,131.77 L465.85,131.70 L466.15,132.13 L466.45,131.78 L466.75,131.52 L467.05,131.67 L467.35,131.32 L467.65,131.40 L467.95,131.14 L468.25,131.70 L468.55,131.52 L468.85,131.17 L469.15,131.34 L469.45,131.49 L469.75,131.38 L470.05,131.33 L470.35,131.08 L470.65,131.09 L470.95,131.19 L471.25,131.31 L471.55,130.97 L471.85,130.89 L472.15,131.27 L472.45,130.87 L472.75,131.21 L472.90,131.04 L473.00,131.00 L473.25,28.30 L473.26,29.30 L473.26,30.30 L473.27,31.30 L473.28,32.30 L473.29,33.30 L473.29,34.30 L473.30,35.30 L473.31,36.30 L473.32,37.30 L473.32,38.30 L473.33,39.30 L473.34,40.30 L473.34,41.30 L473.35,42.30 L473.36,43.30 L473.37,44.30 L473.37,45.30 L473.38,46.30 L473.39,47.30 L473.39,48.30 L473.40,49.30 L473.41,50.30 L473.41,51.30 L473.42,52.30 L473.43,53.30 L473.44,54.30 L473.44,55.30 L473.45,56.30 L473.46,57.30 L473.46,58.30 L473.47,59.30 L473.48,60.30 L473.48,61.30 L473.49,62.30 L473.50,63.30 L473.50,64.30 L473.51,65.30 L473.51,66.30 L473.52,67.30 L473.53,68.30 L473.53,69.30 L473.54,70.30 L473.55,71.30 L473.55,72.30 L473.56,73.30 L473.57,74.30 L473.57,75.30 L473.58,76.30 L473.58,77.30 L473.59,78.30 L473.60,79.30 L473.60,80.30 L473.61,81.30 L473.61,82.30 L473.62,83.30 L473.62,84.30 L473.63,85.30 L473.63,86.30 L473.64,87.30 L473.64,88.30 L473.64,89.30 L473.65,90.30 L473.65,91.30 L473.65,92.30 L473.66,93.30 L473.66,94.30 L473.66,95.30 L473.67,96.30 L473.67,97.30 L473.67,98.30 L473.68,99.30 L473.68,100.30 L473.68,101.30 L473.68,102.30 L473.69,103.30 L473.69,104.30 L473.69,105.30 L473.70,106.30 L473.70,107.30 L473.70,108.30 L473.71,109.30 L473.71,110.30 L473.71,111.30 L473.72,112.30 L473.72,113.30 L473.72,114.30 L473.73,115.30 L473.73,116.30 L473.74,117.30 L473.74,118.30 L473.75,119.30 L473.76,120.30 L473.76,121.30 L473.77,122.30 L473.78,123.30 L473.78,124.30 L473.79,125.30 L473.80,126.30 L473.81,127.30 L473.82,128.30 L473.82,129.30 L473.83,130.30 L473.84,131.30 L473.86,132.30 L473.87,133.30 L473.88,134.30 L473.89,135.30 L473.91,136.30 L473.94,137.30 L474.02,138.30 L474.11,139.30 L474.24,140.30 L474.38,141.30 L474.54,142.30 L474.72,143.30 L474.91,144.30 L475.11,145.30 L475.32,146.30 L475.54,147.30 L475.77,148.30 L476.05,149.30 L476.38,150.30 L476.74,151.30 L477.13,152.30 L477.65,153.63 L477.90,154.26 L478.15,154.87 L478.40,155.45 L478.65,156.00 L478.90,156.51 L479.15,156.96 L479.40,157.35 L479.65,157.72 L479.90,158.08 L480.15,158.42 L480.40,158.75 L480.65,159.06 L480.90,159.37 L481.15,159.66 L481.40,159.94 L481.65,160.21 L481.90,160.46 L482.15,160.71 L482.40,160.95 L482.65,161.18 L482.90,161.40 L483.15,161.61 L483.40,161.81 L483.65,162.01 L483.90,162.20 L484.15,162.38 L484.40,162.56 L484.65,162.73 L484.90,162.89 L485.15,163.05 L485.40,163.19 L485.65,163.34 L485.90,163.47 L486.15,163.60 L486.40,163.73 L486.65,163.85 L486.90,163.96 L487.15,164.06 L487.40,164.17 L487.65,164.26 L487.90,164.36 L488.15,164.45 L488.40,164.54 L488.65,164.63 L488.90,164.71 L489.15,164.78 L489.40,164.85 L489.65,164.92 L489.90,164.98 L490.15,165.03 L490.40,165.09 L490.65,165.14 L490.90,165.19 L491.15,165.24 L491.40,165.28 L491.65,165.33 L491.90,165.37 L492.15,165.42 L492.40,165.46 L492.65,165.50 L492.90,165.53 L493.15,165.57 L493.40,165.61 L493.65,165.64 L493.90,165.67 L494.15,165.70 L494.40,165.73 L494.65,165.76 L494.90,165.79 L495.15,165.82 L495.40,165.84 L495.65,165.87 L495.90,165.89 L496.15,165.92 L496.40,165.94 L496.65,165.97 L496.90,165.99 L497.15,166.01 L497.40,166.03 L497.65,166.05 L497.90,166.07 L498.15,166.09 L498.40,166.11 L498.65,166.13 L498.90,166.14 L499.15,166.16 L499.40,166.17 L499.65,166.18 L499.90,166.20 L500.15,166.21 L500.40,166.22 L500.65,166.23 L500.90,166.24 L501.15,166.25 L501.40,166.26 L501.65,166.27 L501.90,166.28 L502.15,166.29 L502.40,166.30 L502.65,166.31 L502.90,166.32 L503.15,166.33 L503.40,166.34 L503.65,166.35 L503.90,166.36 L504.15,166.37 L504.40,166.38 L504.65,166.39 L504.90,166.40 L505.15,166.41 L505.40,166.42 L505.65,166.43 L505.90,166.44 L506.15,166.45 L506.40,166.46 L506.65,166.47 L506.90,166.48 L507.15,166.49 L507.40,166.50 L507.65,166.50 L507.90,166.51 L508.15,166.52 L508.40,166.53 L508.65,166.54 L508.90,166.55 L509.15,166.56 L509.40,166.57 L509.65,166.57 L509.90,166.58 L510.15,166.59 L510.40,166.60 L510.65,166.61 L510.90,166.61 L511.15,166.62 L511.40,166.63 L511.65,166.64 L511.90,166.64 L512.15,166.65 L512.40,166.66 L512.65,166.67 L512.90,166.67 L513.15,166.68 L513.40,166.69 L513.65,166.69 L513.90,166.70 L514.15,166.71 L514.40,166.71 L514.65,166.72 L514.90,166.73 L515.15,166.73 L515.40,166.74 L515.65,166.75 L515.90,166.75 L516.15,166.76 L516.40,166.76 L516.65,166.77 L516.90,166.77 L517.15,166.78 L517.40,166.79 L517.65,166.79 L517.90,166.80 L518.15,166.80 L518.40,166.81 L518.65,166.81 L518.90,166.82 L519.15,166.82 L519.40,166.82 L519.65,166.83 L519.90,166.83 L520.15,166.84 L520.40,166.84 L520.65,166.84 L520.90,166.85 L521.15,166.85 L521.40,166.86 L521.65,166.86 L521.90,166.86 L522.15,166.86 L522.40,166.87 L522.65,166.87 L522.90,166.87 L523.15,166.88 L523.40,166.88 L523.65,166.88 L523.90,166.88 L524.15,166.89 L524.40,166.89 L524.65,166.89 L524.90,166.89 L525.15,166.89 L525.40,166.89 L525.65,166.89 L525.90,166.90 L526.15,166.90 L526.40,166.90 L526.65,166.90 L526.90,166.90 L527.15,166.90 L527.40,166.90 L527.65,166.90 L527.80,166.90 L528.00,166.90 L528.10,65.20 L528.11,66.20 L528.12,67.20 L528.13,68.20 L528.14,69.20 L528.15,70.20 L528.16,71.20 L528.17,72.20 L528.19,73.20 L528.20,74.20 L528.21,75.20 L528.22,76.20 L528.23,77.20 L528.25,78.20 L528.26,79.20 L528.27,80.20 L528.28,81.20 L528.30,82.20 L528.31,83.20 L528.32,84.20 L528.33,85.20 L528.35,86.20 L528.36,87.20 L528.37,88.20 L528.39,89.20 L528.40,90.20 L528.42,91.20 L528.43,92.20 L528.44,93.20 L528.46,94.20 L528.47,95.20 L528.49,96.20 L528.50,97.20 L528.52,98.20 L528.53,99.20 L528.55,100.20 L528.56,101.20 L528.58,102.20 L528.59,103.20 L528.61,104.20 L528.62,105.20 L528.64,106.20 L528.66,107.20 L528.67,108.20 L528.69,109.20 L528.70,110.20 L528.72,111.20 L528.73,112.20 L528.75,113.20 L528.76,114.20 L528.77,115.20 L528.79,116.20 L528.80,117.20 L528.81,118.20 L528.82,119.20 L528.83,120.20 L528.84,121.20 L528.85,122.20 L528.87,123.20 L528.88,124.20 L528.89,125.20 L528.90,126.20 L528.92,127.20 L528.93,128.20 L528.95,129.20 L528.96,130.20 L528.98,131.20 L529.00,132.20 L529.02,133.20 L529.04,134.20 L529.06,135.20 L529.08,136.20 L529.11,137.20 L529.13,138.20 L529.16,139.20 L529.19,140.20 L529.22,141.20 L529.25,142.20 L529.29,143.20 L529.33,144.20 L529.37,145.20 L529.41,146.20 L529.50,147.20 L529.65,148.20 L529.83,149.20 L530.03,150.20 L530.24,151.20 L530.65,153.27 L530.90,154.53 L531.15,155.71 L531.40,156.72 L531.65,157.48 L531.90,158.03 L532.15,158.53 L532.40,159.01 L532.65,159.46 L532.90,159.89 L533.15,160.29 L533.40,160.66 L533.65,161.01 L533.90,161.34 L534.15,161.65 L534.40,161.93 L534.65,162.19 L534.90,162.43 L535.15,162.64 L535.40,162.84 L535.65,163.02 L535.90,163.18 L536.15,163.32 L536.40,163.45 L536.65,163.57 L536.90,163.68 L537.15,163.79 L537.40,163.90 L537.65,164.00 L537.90,164.10 L538.15,164.19 L538.40,164.28 L538.65,164.37 L538.90,164.46 L539.15,164.54 L539.40,164.61 L539.65,164.69 L539.90,164.76 L540.15,164.83 L540.40,164.89 L540.65,164.96 L540.90,165.02 L541.15,165.08 L541.40,165.14 L541.65,165.19 L541.90,165.24 L542.15,165.29 L542.40,165.34 L542.65,165.39 L542.90,165.44 L543.15,165.49 L543.40,165.53 L543.65,165.57 L543.90,165.62 L544.15,165.66 L544.40,165.70 L544.65,165.74 L544.90,165.78 L545.15,165.82 L545.40,165.86 L545.65,165.89 L545.90,165.93 L546.15,165.96 L546.40,166.00 L546.65,166.03 L546.90,166.06 L547.15,166.09 L547.40,166.12 L547.65,166.15 L547.90,166.18 L548.15,166.21 L548.40,166.24 L548.65,166.27 L548.90,166.29 L549.15,166.32 L549.40,166.35 L549.65,166.37 L549.90,166.40 L550.15,166.42 L550.40,166.45 L550.65,166.47 L550.90,166.50 L551.15,166.52 L551.40,166.55 L551.65,166.57 L551.90,166.59 L552.15,166.62 L552.40,166.64 L552.65,166.67 L552.90,166.69 L553.15,166.71 L553.40,166.74 L553.65,166.76 L553.90,166.79 L554.15,166.81 L554.40,166.84 L554.65,166.86 L554.90,166.89 L555.15,166.92 L555.40,166.94 L555.65,166.97 L555.90,167.00 L556.15,167.02 L556.40,167.05 L556.65,167.08 L556.90,167.10 L557.15,167.13 L557.40,167.16 L557.65,167.19 L557.90,167.21 L558.15,167.24 L558.40,167.27 L558.65,167.29 L558.90,167.32 L559.15,167.35 L559.40,167.37 L559.65,167.40 L559.90,167.43 L560.15,167.45 L560.40,167.48 L560.65,167.50 L560.90,167.53 L561.15,167.55 L561.40,167.58 L561.65,167.60 L561.90,167.63 L562.15,167.65 L562.40,167.68 L562.65,167.70 L562.90,167.72 L563.15,167.75 L563.40,167.77 L563.65,167.79 L563.90,167.81 L564.15,167.83 L564.40,167.85 L564.65,167.87 L564.90,167.89 L565.15,167.91 L565.40,167.93 L565.65,167.95 L565.90,167.97 L566.15,167.99 L566.40,168.01 L566.65,168.02 L566.90,168.04 L567.15,168.06 L567.40,168.08 L567.65,168.10 L567.90,168.12 L568.15,168.14 L568.40,168.15 L568.65,168.17 L568.90,168.19 L569.15,168.21 L569.40,168.22 L569.65,168.24 L569.90,168.26 L570.15,168.28 L570.40,168.29 L570.65,168.31 L570.90,168.33 L571.15,168.34 L571.40,168.36 L571.65,168.38 L571.90,168.39 L572.15,168.41 L572.40,168.43 L572.65,168.44 L572.90,168.46 L573.15,168.47 L573.40,168.49 L573.65,168.51 L573.90,168.52 L574.15,168.54 L574.40,168.55 L574.65,168.57 L574.90,168.58 L575.15,168.59 L575.40,168.61 L575.65,168.62 L575.90,168.64 L576.15,168.65 L576.40,168.66 L576.65,168.68 L576.90,168.69 L577.15,168.70 L577.40,168.72 L577.65,168.73 L577.90,168.74 L578.15,168.75 L578.40,168.76 L578.65,168.78 L578.90,168.79 L579.15,168.80 L579.40,168.81 L579.65,168.82 L579.90,168.83 L580.15,168.84 L580.40,168.85 L580.65,168.86 L580.90,168.87 L581.15,168.88 L581.40,168.89 L581.65,168.90 L581.70,168.90 L581.90,168.90 L582.00,8.00 L582.01,9.00 L582.03,10.00 L582.04,11.00 L582.06,12.00 L582.07,13.00 L582.08,14.00 L582.09,15.00 L582.10,16.00 L582.11,17.00 L582.11,18.00 L582.12,19.00 L582.12,20.00 L582.12,21.00 L582.13,22.00 L582.13,23.00 L582.14,24.00 L582.14,25.00 L582.14,26.00 L582.15,27.00 L582.15,28.00 L582.15,29.00 L582.16,30.00 L582.16,31.00 L582.16,32.00 L582.17,33.00 L582.17,34.00 L582.17,35.00 L582.17,36.00 L582.18,37.00 L582.18,38.00 L582.18,39.00 L582.18,40.00 L582.18,41.00 L582.19,42.00 L582.19,43.00 L582.19,44.00 L582.19,45.00 L582.19,46.00 L582.20,47.00 L582.20,48.00 L582.20,49.00 L582.20,50.00 L582.20,51.00 L582.20,52.00 L582.20,53.00 L582.21,54.00 L582.21,55.00 L582.21,56.00 L582.21,57.00 L582.21,58.00 L582.21,59.00 L582.21,60.00 L582.22,61.00 L582.22,62.00 L582.22,63.00 L582.22,64.00 L582.22,65.00 L582.22,66.00 L582.23,67.00 L582.23,68.00 L582.23,69.00 L582.23,70.00 L582.24,71.00 L582.24,72.00 L582.24,73.00 L582.24,74.00 L582.24,75.00 L582.25,76.00 L582.25,77.00 L582.25,78.00 L582.26,79.00 L582.26,80.00 L582.26,81.00 L582.27,82.00 L582.27,83.00 L582.27,84.00 L582.28,85.00 L582.28,86.00 L582.29,87.00 L582.29,88.00 L582.30,89.00 L582.30,90.00 L582.31,91.00 L582.31,92.00 L582.32,93.00 L582.32,94.00 L582.33,95.00 L582.34,96.00 L582.34,97.00 L582.35,98.00 L582.36,99.00 L582.37,100.00 L582.38,101.00 L582.39,102.00 L582.40,103.00 L582.41,104.00 L582.42,105.00 L582.43,106.00 L582.45,107.00 L582.46,108.00 L582.47,109.00 L582.49,110.00 L582.50,111.00 L582.52,112.00 L582.53,113.00 L582.55,114.00 L582.57,115.00 L582.58,116.00 L582.60,117.00 L582.62,118.00 L582.64,119.00 L582.66,120.00 L582.68,121.00 L582.70,122.00 L582.73,123.00 L582.75,124.00 L582.77,125.00 L582.80,126.00 L582.82,127.00 L582.85,128.00 L582.87,129.00 L582.90,130.00 L582.93,131.00 L582.97,132.00 L583.01,133.00 L583.06,134.00 L583.12,135.00 L583.18,136.00 L583.25,137.00 L583.33,138.00 L583.41,139.00 L583.49,140.00 L583.58,141.00 L583.68,142.00 L583.78,143.00 L583.89,144.00 L584.00,145.00 L584.11,146.00 L584.23,147.00 L584.36,148.00 L584.49,149.00 L584.62,150.00 L584.76,151.00 L584.90,152.00 L585.04,153.00 L585.19,154.00 L585.34,155.00 L585.50,156.00 L585.68,157.00 L585.90,158.00 L586.16,159.00 L586.43,160.00 L586.72,161.00 L587.00,162.00 L587.25,162.78 L587.50,163.54 L587.75,164.29 L588.00,165.02 L588.25,165.72 L588.50,166.39 L588.75,167.02 L589.00,167.60 L589.25,168.16 L589.50,168.71 L589.75,169.27 L590.00,169.82 L590.25,170.36 L590.50,170.89 L590.75,171.41 L591.00,171.91 L591.25,172.40 L591.50,172.87 L591.75,173.31 L592.00,173.74 L592.25,174.13 L592.50,174.50 L592.75,174.83 L593.00,175.13 L593.25,175.40 L593.50,175.62 L593.75,175.81 L594.00,175.99 L594.25,176.17 L594.50,176.33 L594.75,176.49 L595.00,176.65 L595.25,176.80 L595.50,176.94 L595.75,177.07 L596.00,177.20 L596.25,177.33 L596.50,177.45 L596.75,177.56 L597.00,177.67 L597.25,177.78 L597.50,177.88 L597.75,177.98 L598.00,178.08 L598.25,178.17 L598.50,178.26 L598.75,178.34 L599.00,178.42 L599.25,178.50 L599.50,178.58 L599.75,178.66 L600.00,178.73 L600.25,178.80 L600.50,178.87 L600.75,178.94 L601.00,179.01 L601.25,179.07 L601.50,179.14 L601.75,179.20 L602.00,179.26 L602.25,179.31 L602.50,179.37 L602.75,179.42 L603.00,179.47 L603.25,179.53 L603.50,179.57 L603.75,179.62 L604.00,179.67 L604.25,179.72 L604.50,179.76 L604.75,179.81 L605.00,179.85 L605.25,179.89 L605.50,179.94 L605.75,179.98 L606.00,180.02 L606.25,180.06 L606.50,180.10 L606.75,180.15 L607.00,180.19 L607.25,180.23 L607.50,180.27 L607.75,180.32 L608.00,180.36 L608.25,180.40 L608.50,180.45 L608.75,180.50 L609.00,180.54 L609.25,180.59 L609.50,180.64 L609.75,180.69 L610.00,180.74 L610.25,180.80 L610.50,180.85 L610.75,180.91 L611.00,180.96 L611.25,181.02 L611.50,181.08 L611.75,181.14 L612.00,181.19 L612.25,181.25 L612.50,181.31 L612.75,181.36 L613.00,181.41 L613.25,181.46 L613.50,181.51 L613.75,181.56 L614.00,181.60 L614.25,181.64 L614.50,181.68 L614.75,181.72 L615.00,181.76 L615.25,181.80 L615.50,181.84 L615.75,181.88 L616.00,181.92 L616.25,181.95 L616.50,181.99 L616.75,182.02 L617.00,182.06 L617.25,182.09 L617.50,182.13 L617.75,182.16 L618.00,182.19 L618.25,182.22 L618.50,182.25 L618.75,182.28 L619.00,182.30 L619.25,182.33 L619.50,182.35 L619.75,182.38 L620.00,182.40 L620.25,182.42 L620.50,182.44 L620.75,182.47 L621.00,182.49 L621.25,182.51 L621.50,182.53 L621.75,182.55 L622.00,182.58 L622.25,182.60 L622.50,182.62 L622.75,182.64 L623.00,182.66 L623.25,182.68 L623.50,182.70 L623.75,182.72 L624.00,182.75 L624.25,182.77 L624.50,182.79 L624.75,182.81 L625.00,182.83 L625.25,182.85 L625.50,182.87 L625.75,182.89 L626.00,182.91 L626.25,182.92 L626.50,182.94 L626.75,182.96 L627.00,182.98 L627.25,183.00 L627.50,183.02 L627.75,183.03 L628.00,183.05 L628.25,183.07 L628.50,183.08 L628.75,183.10 L629.00,183.12 L629.25,183.13 L629.50,183.15 L629.75,183.16 L630.00,183.18 L630.25,183.19 L630.50,183.20 L630.75,183.22 L631.00,183.23 L631.25,183.24 L631.50,183.26 L631.75,183.27 L632.00,183.28 L632.25,183.29 L632.50,183.30 L632.75,183.31 L633.00,183.32 L633.25,183.33 L633.50,183.34 L633.75,183.35 L634.00,183.35 L634.25,183.36 L634.50,183.37 L634.75,183.37 L635.00,183.38 L635.25,183.38 L635.50,183.39 L635.75,183.39 L636.00,183.40 L636.25,183.40 L636.50,183.40 L636.70,183.40 L636.90,63.50 L636.90,64.50 L636.90,65.50 L636.90,66.50 L636.90,67.50 L636.90,68.50 L636.90,69.50 L636.90,70.50 L636.91,71.50 L636.91,72.50 L636.91,73.50 L636.91,74.50 L636.91,75.50 L636.91,76.50 L636.92,77.50 L636.92,78.50 L636.92,79.50 L636.92,80.50 L636.93,81.50 L636.93,82.50 L636.93,83.50 L636.93,84.50 L636.94,85.50 L636.94,86.50 L636.94,87.50 L636.95,88.50 L636.95,89.50 L636.95,90.50 L636.96,91.50 L636.96,92.50 L636.97,93.50 L636.97,94.50 L636.98,95.50 L636.98,96.50 L636.98,97.50 L636.99,98.50 L636.99,99.50 L637.00,100.50 L637.00,101.50 L637.01,102.50 L637.01,103.50 L637.02,104.50 L637.02,105.50 L637.03,106.50 L637.03,107.50 L637.04,108.50 L637.04,109.50 L637.05,110.50 L637.05,111.50 L637.06,112.50 L637.06,113.50 L637.07,114.50 L637.07,115.50 L637.08,116.50 L637.09,117.50 L637.09,118.50 L637.10,119.50 L637.10,120.50 L637.11,121.50 L637.12,122.50 L637.12,123.50 L637.13,124.50 L637.14,125.50 L637.14,126.50 L637.15,127.50 L637.16,128.50 L637.17,129.50 L637.18,130.50 L637.18,131.50 L637.19,132.50 L637.20,133.50 L637.21,134.50 L637.22,135.50 L637.23,136.50 L637.24,137.50 L637.26,138.50 L637.27,139.50 L637.28,140.50 L637.29,141.50 L637.30,142.50 L637.32,143.50 L637.33,144.50 L637.35,145.50 L637.36,146.50 L637.38,147.50 L637.39,148.50 L637.41,149.50 L637.42,150.50 L637.44,151.50 L637.46,152.50 L637.47,153.50 L637.49,154.50 L637.51,155.50 L637.53,156.50 L637.55,157.50 L637.57,158.50 L637.59,159.50 L637.61,160.50 L637.64,161.50 L637.66,162.50 L637.70,163.50 L637.73,164.50 L637.77,165.50 L637.81,166.50 L637.86,167.50 L637.90,168.50 L637.95,169.50 L638.00,170.50 L638.05,171.50 L638.10,172.50 L638.16,173.50 L638.21,174.50 L638.26,175.50 L638.32,176.50 L638.37,177.50 L638.65,178.29 L638.90,178.59 L639.15,178.90 L639.40,179.23 L639.65,179.56 L639.90,179.90 L640.15,180.25 L640.40,180.60 L640.65,180.97 L640.90,181.34 L641.15,181.72 L641.40,182.12 L641.65,182.57 L641.90,183.04 L642.15,183.54 L642.40,184.05 L642.65,184.55 L642.90,185.05 L643.15,185.53 L643.40,185.98 L643.65,186.39 L643.90,186.76 L644.15,187.06 L644.40,187.33 L644.65,187.59 L644.90,187.84 L645.15,188.09 L645.40,188.32 L645.65,188.55 L645.90,188.76 L646.15,188.97 L646.40,189.17 L646.65,189.36 L646.90,189.55 L647.15,189.73 L647.40,189.90 L647.65,190.06 L647.90,190.22 L648.15,190.37 L648.40,190.52 L648.65,190.66 L648.90,190.79 L649.15,190.92 L649.40,191.05 L649.65,191.17 L649.90,191.29 L650.15,191.41 L650.40,191.53 L650.65,191.65 L650.90,191.76 L651.15,191.87 L651.40,191.98 L651.65,192.08 L651.90,192.19 L652.15,192.29 L652.40,192.39 L652.65,192.48 L652.90,192.58 L653.15,192.67 L653.40,192.76 L653.65,192.85 L653.90,192.93 L654.15,193.02 L654.40,193.10 L654.65,193.18 L654.90,193.25 L655.15,193.33 L655.40,193.40 L655.65,193.47 L655.90,193.54 L656.15,193.61 L656.40,193.67 L656.65,193.73 L656.90,193.79 L657.15,193.85 L657.40,193.90 L657.65,193.95 L657.90,194.00 L658.15,194.06 L658.40,194.11 L658.65,194.16 L658.90,194.20 L659.15,194.25 L659.40,194.30 L659.65,194.35 L659.90,194.39 L660.15,194.44 L660.40,194.48 L660.65,194.53 L660.90,194.57 L661.15,194.61 L661.40,194.65 L661.65,194.69 L661.90,194.73 L662.15,194.77 L662.40,194.81 L662.65,194.85 L662.90,194.89 L663.15,194.93 L663.40,194.96 L663.65,195.00 L663.90,195.03 L664.15,195.07 L664.40,195.10 L664.65,195.14 L664.90,195.17 L665.15,195.20 L665.40,195.24 L665.65,195.27 L665.90,195.30 L666.15,195.33 L666.40,195.36 L666.65,195.39 L666.90,195.42 L667.15,195.45 L667.40,195.48 L667.65,195.51 L667.90,195.54 L668.15,195.57 L668.40,195.60 L668.65,195.62 L668.90,195.65 L669.15,195.68 L669.40,195.70 L669.65,195.73 L669.90,195.76 L670.15,195.78 L670.40,195.81 L670.65,195.83 L670.90,195.86 L671.15,195.88 L671.40,195.91 L671.65,195.94 L671.90,195.96 L672.15,195.98 L672.40,196.01 L672.65,196.03 L672.90,196.06 L673.15,196.08 L673.40,196.11 L673.65,196.13 L673.90,196.16 L674.15,196.18 L674.40,196.20 L674.65,196.23 L674.90,196.25 L675.15,196.28 L675.40,196.30 L675.65,196.32 L675.90,196.35 L676.15,196.37 L676.40,196.39 L676.65,196.42 L676.90,196.44 L677.15,196.46 L677.40,196.48 L677.65,196.51 L677.90,196.53 L678.15,196.55 L678.40,196.57 L678.65,196.59 L678.90,196.62 L679.15,196.64 L679.40,196.66 L679.65,196.68 L679.90,196.70 L680.15,196.72 L680.40,196.74 L680.65,196.76 L680.90,196.78 L681.15,196.80 L681.40,196.82 L681.65,196.84 L681.90,196.86 L682.15,196.88 L682.40,196.90 L682.65,196.92 L682.90,196.93 L683.15,196.95 L683.40,196.97 L683.65,196.99 L683.90,197.01 L684.15,197.02 L684.40,197.04 L684.65,197.06 L684.90,197.07 L685.15,197.09 L685.40,197.11 L685.65,197.12 L685.90,197.14 L686.15,197.15 L686.40,197.17 L686.65,197.18 L686.90,197.20 L687.15,197.21 L687.40,197.22 L687.65,197.24 L687.90,197.25 L688.15,197.26 L688.40,197.27 L688.65,197.29 L688.90,197.30 L689.15,197.31 L689.40,197.32 L689.65,197.33 L689.90,197.34 L690.15,197.35 L690.40,197.36 L690.65,197.37 L690.90,197.38 L691.15,197.39 L691.40,197.40"/>
<path class="ln" stroke="#2ca02c" stroke-opacity="0.8" stroke-width="1.45" d="M419.45,8.00 L419.46,9.50 L419.47,11.00 L419.48,12.50 L419.49,14.00 L419.50,15.50 L419.50,17.00 L419.51,18.50 L419.51,20.00 L419.52,21.50 L419.52,23.00 L419.53,24.50 L419.53,26.00 L419.53,27.50 L419.53,29.00 L419.54,30.50 L419.54,32.00 L419.54,33.50 L419.54,35.00 L419.55,36.50 L419.55,38.00 L419.55,39.50 L419.55,41.00 L419.56,42.50 L419.56,44.00 L419.56,45.50 L419.56,47.00 L419.57,48.50 L419.57,50.00 L419.57,51.50 L419.58,53.00 L419.58,54.50 L419.59,56.00 L419.59,57.50 L419.60,59.00 L419.60,60.50 L419.61,62.00 L419.62,63.50 L419.63,65.00 L419.64,66.50 L419.65,68.00 L419.67,69.50 L419.68,71.00 L419.70,72.50 L419.72,74.00 L419.73,75.50 L419.76,77.00 L419.78,78.50 L419.80,80.00 L419.83,81.50 L419.86,83.00 L419.89,84.50 L419.93,86.00 L419.98,87.50 L420.03,89.00 L420.08,90.50 L420.14,92.00 L420.21,93.50 L420.28,95.00 L420.35,96.50 L420.43,98.00 L420.51,99.50 L420.60,101.00 L420.71,102.50 L420.84,104.00 L421.00,105.50 L421.18,107.00 L421.37,108.50 L421.57,110.00 L421.77,111.50 L422.02,113.00 L422.28,114.50 L422.50,116.00 L422.67,117.50 L422.81,119.00 L422.95,120.50 L423.09,122.00 L423.26,123.50 L423.45,125.00 L423.65,126.50 L423.86,128.00 L424.08,129.50 L424.32,131.00 L424.54,132.81 L424.67,132.80 L424.81,132.73 L424.95,132.45 L425.08,133.42 L425.22,133.97 L425.35,135.08 L425.49,135.72 L425.63,136.95 L425.76,136.28 L425.90,136.12 L426.04,137.75 L426.17,137.72 L426.31,137.85 L426.45,137.79 L426.58,138.41 L426.72,138.67 L426.85,139.35 L426.99,138.14 L427.13,140.40 L427.26,139.63 L427.40,140.73 L427.54,139.74 L427.67,141.03 L427.81,142.04 L427.95,141.18 L428.08,141.07 L428.22,141.36 L428.35,141.93 L428.49,142.56 L428.63,143.25 L428.76,141.99 L428.90,143.75 L429.04,143.41 L429.17,143.80 L429.31,144.86 L429.45,143.95 L429.58,145.40 L429.72,143.50 L429.85,145.12 L429.99,145.63 L430.13,145.22 L430.26,144.81 L430.40,146.41 L430.54,146.19 L430.67,145.65 L430.81,146.59 L430.95,146.53 L431.08,145.60 L431.22,145.11 L431.35,147.76 L431.49,147.26 L431.63,147.20 L431.76,147.31 L431.90,147.89 L432.04,149.04 L432.17,148.65 L432.31,149.39 L432.45,148.46 L432.58,149.59 L432.72,148.20 L432.85,149.57 L432.99,148.87 L433.13,149.50 L433.26,150.00 L433.40,149.44 L433.54,149.34 L433.67,150.42 L433.81,151.02 L433.95,149.69 L434.08,150.17 L434.22,150.75 L434.35,152.27 L434.49,151.10 L434.63,151.23 L434.76,152.22 L434.90,152.39 L435.04,151.95 L435.17,152.16 L435.31,151.25 L435.45,152.73 L435.58,152.99 L435.72,152.30 L435.85,154.12 L435.99,152.53 L436.13,153.56 L436.26,153.30 L436.40,153.81 L436.54,153.71 L436.67,153.17 L436.81,153.48 L436.95,153.51 L437.08,155.24 L437.22,155.34 L437.35,156.04 L437.49,154.81 L437.63,154.20 L437.76,155.99 L437.90,155.03 L438.04,155.54 L438.17,155.87 L438.31,156.92 L438.45,156.74 L438.58,154.29 L438.72,156.98 L438.85,155.17 L438.99,156.31 L439.13,158.10 L439.26,157.48 L439.40,155.80 L439.54,155.61 L439.67,156.44 L439.81,157.64 L439.95,157.49 L440.08,156.98 L440.22,156.63 L440.35,156.92 L440.49,157.14 L440.63,158.96 L440.76,159.21 L440.90,156.55 L441.04,158.24 L441.17,158.82 L441.31,157.36 L441.45,157.30 L441.58,158.67 L441.72,159.00 L441.85,158.16 L441.99,158.21 L442.13,159.39 L442.26,157.00 L442.40,159.38 L442.54,159.67 L442.67,160.23 L442.81,159.98 L442.94,159.52 L443.08,160.25 L443.22,159.59 L443.35,159.40 L443.49,159.45 L443.63,159.47 L443.76,161.61 L443.90,160.35 L444.04,158.33 L444.17,159.48 L444.31,159.42 L444.44,159.58 L444.58,160.64 L444.72,160.07 L444.85,161.14 L444.99,162.20 L445.13,162.36 L445.26,161.27 L445.40,162.51 L445.54,160.66 L445.67,160.94 L445.81,161.54 L445.94,160.30 L446.08,161.05 L446.22,161.59 L446.35,162.00 L446.49,160.78 L446.63,162.78 L446.76,163.75 L446.90,163.41 L447.04,162.37 L447.17,163.13 L447.31,163.11 L447.44,162.60 L447.58,163.28 L447.72,162.96 L447.85,163.50 L447.99,164.28 L448.13,162.01 L448.26,162.42 L448.40,164.32 L448.54,163.58 L448.67,162.35 L448.81,163.17 L448.94,162.19 L449.08,162.43 L449.22,163.66 L449.35,163.73 L449.49,165.38 L449.63,163.11 L449.76,164.58 L449.90,163.84 L450.04,163.08 L450.17,164.27 L450.31,164.32 L450.44,164.74 L450.58,163.70 L450.72,164.68 L450.85,163.92 L450.99,165.66 L451.13,164.56 L451.26,165.44 L451.40,163.74 L451.54,164.94 L451.67,163.93 L451.81,165.53 L451.94,164.98 L452.08,164.57 L452.22,163.97 L452.35,164.08 L452.49,166.14 L452.63,164.99 L452.76,164.59 L452.90,165.05 L453.04,164.35 L453.17,164.49 L453.31,166.59 L453.44,164.98 L453.58,165.88 L453.72,164.80 L453.85,167.95 L453.99,166.88 L454.13,166.87 L454.26,165.64 L454.40,165.06 L454.54,166.96 L454.67,168.12 L454.81,164.77 L454.94,168.02 L455.08,165.96 L455.22,167.06 L455.35,166.60 L455.49,168.18 L455.63,168.02 L455.76,166.52 L455.90,166.55 L456.04,167.83 L456.17,165.28 L456.31,167.36 L456.44,169.55 L456.58,166.38 L456.72,167.57 L456.85,168.20 L456.99,166.50 L457.13,168.15 L457.26,167.99 L457.40,168.25 L457.54,168.44 L457.67,168.41 L457.81,169.36 L457.94,169.23 L458.08,169.31 L458.22,168.32 L458.35,167.66 L458.49,167.43 L458.63,169.65 L458.76,169.82 L458.90,168.80 L459.04,167.49 L459.17,168.92 L459.31,169.89 L459.44,168.49 L459.58,169.45 L459.72,169.57 L459.85,170.61 L459.99,170.17 L460.13,168.94 L460.26,169.51 L460.40,170.07 L460.54,170.16 L460.67,170.30 L460.81,169.67 L460.94,170.10 L461.08,170.70 L461.22,170.04 L461.35,171.34 L461.49,170.38 L461.63,169.54 L461.76,169.33 L461.90,171.01 L462.04,170.10 L462.17,170.47 L462.31,172.09 L462.44,169.79 L462.58,170.51 L462.72,171.24 L462.85,170.72 L462.99,169.28 L463.13,169.70 L463.26,171.32 L463.40,171.59 L463.54,171.18 L463.67,169.96 L463.81,171.98 L463.94,169.25 L464.08,171.79 L464.22,169.78 L464.35,171.86 L464.49,171.34 L464.63,172.93 L464.76,169.88 L464.90,171.41 L465.04,171.43 L465.17,171.32 L465.31,170.99 L465.44,170.39 L465.58,171.97 L465.72,171.36 L465.85,171.28 L465.99,172.30 L466.13,171.10 L466.26,171.01 L466.40,171.83 L466.54,171.08 L466.67,172.56 L466.81,172.57 L466.94,171.92 L467.08,173.19 L467.22,169.96 L467.35,171.28 L467.49,171.76 L467.63,172.26 L467.76,173.66 L467.90,172.03 L468.04,174.39 L468.17,171.94 L468.31,173.07 L468.44,171.41 L468.58,172.12 L468.72,173.50 L468.85,173.78 L468.99,172.10 L469.13,172.49 L469.26,172.87 L469.40,174.07 L469.54,172.06 L469.67,174.29 L469.81,174.29 L469.94,173.98 L470.08,171.82 L470.22,173.04 L470.35,174.56 L470.49,173.35 L470.63,172.58 L470.76,174.11 L470.90,172.35 L471.04,173.95 L471.17,174.51 L471.31,172.54 L471.44,174.95 L471.58,175.27 L471.72,174.68 L471.85,174.19 L471.99,174.23 L472.13,173.81 L472.26,175.66 L472.40,173.90 L472.54,173.22 L472.67,174.18 L472.81,176.06 L472.94,174.95 L473.08,173.93 L473.22,172.69 L473.35,175.32 L473.49,175.11 L473.63,176.76 L473.76,175.43 L473.90,173.01 L474.04,175.05 L474.17,173.52 L474.31,174.63 L474.44,173.86 L474.58,174.49 L474.72,176.45 L474.85,173.05 L474.99,175.73 L475.13,175.29 L475.26,174.17 L475.40,174.24 L475.54,174.07 L475.67,176.38 L475.81,174.49 L475.94,176.80 L476.08,175.96 L476.22,174.65 L476.35,176.78 L476.49,175.68 L476.63,173.50 L476.76,176.45 L476.90,174.70 L477.03,176.49 L477.17,177.77 L477.31,176.77 L477.44,174.98 L477.58,178.00 L477.72,175.83 L477.85,176.14 L477.99,176.22 L478.13,174.86 L478.26,177.69 L478.40,175.98 L478.53,177.92 L478.67,177.63 L478.81,175.89 L478.94,176.69 L479.08,176.99 L479.22,176.07 L479.35,175.02 L479.49,175.57 L479.63,176.64 L479.76,177.73 L479.90,177.27 L480.03,177.05 L480.17,176.52 L480.31,175.43 L480.44,174.79 L480.58,177.59 L480.72,174.86 L480.85,177.58 L480.99,177.72 L481.13,177.55 L481.26,175.43 L481.40,174.74 L481.53,178.23 L481.67,177.79 L481.81,178.27 L481.94,177.66 L482.08,177.62 L482.22,177.87 L482.35,177.44 L482.49,176.75 L482.63,175.53 L482.76,178.49 L482.90,176.03 L483.03,177.31 L483.17,177.64 L483.31,176.46 L483.44,179.38 L483.58,174.97 L483.72,178.42 L483.85,176.21 L483.99,178.45 L484.13,178.08 L484.26,178.48 L484.40,176.94 L484.53,177.05 L484.67,178.46 L484.81,177.28 L484.94,176.28 L485.08,175.96 L485.22,178.79 L485.35,178.22 L485.49,176.19 L485.63,178.79 L485.76,175.73 L485.90,177.15 L486.03,176.43 L486.17,175.96 L486.31,176.74 L486.44,176.72 L486.58,178.81 L486.72,177.91 L486.85,176.93 L486.99,177.98 L487.13,175.98 L487.26,179.82 L487.40,177.09 L487.53,178.77 L487.67,178.13 L487.81,178.19 L487.94,176.57 L488.08,178.45 L488.22,177.97 L488.35,178.09 L488.49,176.65 L488.63,177.64 L488.76,178.81 L488.90,178.36 L489.03,178.94 L489.17,177.22 L489.31,176.62 L489.44,177.94 L489.58,179.22 L489.72,179.30 L489.85,177.52 L489.99,180.68 L490.13,176.99 L490.26,177.92 L490.40,176.81 L490.53,179.42 L490.67,177.18 L490.81,178.99 L490.94,178.58 L491.08,176.84 L491.22,176.35 L491.35,178.22 L491.49,178.98 L491.63,177.80 L491.76,178.82 L491.90,177.21 L492.03,179.57 L492.17,179.15 L492.31,179.25 L492.44,179.06 L492.58,178.17 L492.72,176.71 L492.85,180.80 L492.99,178.57 L493.13,179.89 L493.26,177.30 L493.40,178.63 L493.53,176.32 L493.67,177.14 L493.81,180.74 L493.94,179.32 L494.08,179.20 L494.22,179.31 L494.35,180.27 L494.49,179.57 L494.63,179.79 L494.76,177.73 L494.90,178.07 L495.03,177.43 L495.17,181.08 L495.31,177.35 L495.44,179.66 L495.58,178.93 L495.72,177.40 L495.85,180.71 L495.99,179.11 L496.13,177.26 L496.26,177.60 L496.40,178.94 L496.53,177.46 L496.67,178.90 L496.81,179.08 L496.94,178.95 L497.08,178.74 L497.22,179.06 L497.35,180.53 L497.49,177.88 L497.63,180.79 L497.76,177.75 L497.90,178.69 L498.03,178.48 L498.17,178.19 L498.31,180.19 L498.44,178.73 L498.58,177.51 L498.72,179.81 L498.85,180.52 L498.99,178.43 L499.13,179.49 L499.26,178.66 L499.40,179.22 L499.53,179.19 L499.67,179.11 L499.81,179.55 L499.94,179.01 L500.08,181.71 L500.22,179.85 L500.35,178.61 L500.49,180.99 L500.63,179.40 L500.76,180.28 L500.90,178.26 L501.03,179.95 L501.17,181.36 L501.31,178.63 L501.44,180.89 L501.58,180.48 L501.72,180.10 L501.85,180.00 L501.99,179.52 L502.13,179.24 L502.26,179.66 L502.40,180.22 L502.53,179.71 L502.67,178.80 L502.81,178.41 L502.94,179.32 L503.08,180.36 L503.22,179.95 L503.35,179.42 L503.49,180.74 L503.63,178.45 L503.76,180.35 L503.90,180.56 L504.03,180.02 L504.17,179.78 L504.31,179.64 L504.44,180.76 L504.58,178.91 L504.72,180.68 L504.85,179.60 L504.99,179.27 L505.13,181.41 L505.26,180.17 L505.40,181.17 L505.53,180.59 L505.67,179.36 L505.81,180.24 L505.94,179.00 L506.08,180.37 L506.22,181.47 L506.35,180.31 L506.49,181.43 L506.63,180.72 L506.76,179.68 L506.90,179.69 L507.03,178.28 L507.17,179.70 L507.31,179.47 L507.44,180.36 L507.58,180.51 L507.72,180.42 L507.85,181.85 L507.99,181.28 L508.13,179.50 L508.26,183.03 L508.40,182.38 L508.53,181.09 L508.67,181.93 L508.81,179.62 L508.94,179.58 L509.08,179.43 L509.22,180.10 L509.35,180.54 L509.49,180.62 L509.63,180.81 L509.76,179.39 L509.90,180.98 L510.03,180.94 L510.17,179.51 L510.31,179.48 L510.44,178.38 L510.58,179.31 L510.72,181.72 L510.85,181.47 L510.99,179.32 L511.12,182.03 L511.26,178.64 L511.40,178.61 L511.53,179.20 L511.67,180.69 L511.81,181.97 L511.94,179.94 L512.08,182.92 L512.22,181.37 L512.35,179.57 L512.49,180.33 L512.62,180.29 L512.76,179.60 L512.90,179.92 L513.03,181.29 L513.17,182.88 L513.31,182.89 L513.44,180.62 L513.58,180.83 L513.72,181.56 L513.85,182.35 L513.99,179.35 L514.12,182.33 L514.26,181.45 L514.40,179.00 L514.53,182.44 L514.67,178.52 L514.81,179.75 L514.94,181.06 L515.08,179.94 L515.22,179.62 L515.35,179.89 L515.49,180.42 L515.62,180.75 L515.76,181.39 L515.90,181.64 L516.03,181.82 L516.17,181.73 L516.31,182.49 L516.44,179.34 L516.58,182.82 L516.72,181.12 L516.85,178.95 L516.99,182.79 L517.12,181.16 L517.26,181.09 L517.40,181.58 L517.53,182.31 L517.67,179.69 L517.81,181.21 L517.94,179.10 L518.08,179.81 L518.22,180.82 L518.35,183.48 L518.49,180.19 L518.62,181.41 L518.76,180.61 L518.90,180.35 L519.03,180.34 L519.17,181.99 L519.31,181.02 L519.44,180.15 L519.58,180.07 L519.72,180.96 L519.85,181.62 L519.99,180.89 L520.12,181.25 L520.26,181.78 L520.40,181.81 L520.53,180.29 L520.67,181.99 L520.81,180.80 L520.94,179.37 L521.08,181.06 L521.22,179.97 L521.35,180.01 L521.49,181.47 L521.62,180.17 L521.76,180.20 L521.90,179.69 L522.03,180.52 L522.17,183.26 L522.31,182.54 L522.44,182.46 L522.58,180.78 L522.72,182.05 L522.85,180.76 L522.99,182.85 L523.12,181.57 L523.26,181.12 L523.40,182.06 L523.53,182.14 L523.67,181.26 L523.81,179.00 L523.94,183.61 L524.08,180.28 L524.22,182.79 L524.35,183.54 L524.49,180.73 L524.62,180.25 L524.76,181.10 L524.90,181.26 L525.03,182.13 L525.17,183.55 L525.31,181.77 L525.44,181.91 L525.58,181.22 L525.72,181.93 L525.85,182.30 L525.99,184.39 L526.12,181.46 L526.26,180.59 L526.40,182.57 L526.53,180.55 L526.67,178.63 L526.81,182.36 L526.94,181.63 L527.08,181.36 L527.22,181.96 L527.35,179.13 L527.49,181.74 L527.62,182.70 L527.76,183.46 L527.90,183.22 L528.03,181.10 L528.17,179.65 L528.31,180.39 L528.44,180.82 L528.58,183.26 L528.72,182.43 L528.85,180.21 L528.99,182.09 L529.12,181.06 L529.26,179.26 L529.40,183.06 L529.53,180.28 L529.67,179.05 L529.81,180.80 L529.94,181.33 L530.08,182.68 L530.22,181.46 L530.35,181.93 L530.49,180.43 L530.62,182.67 L530.76,180.80 L530.90,181.20 L531.03,181.99 L531.17,181.38 L531.31,180.88 L531.44,181.51 L531.58,180.97 L531.72,181.17 L531.85,181.86 L531.99,178.27 L532.12,180.77 L532.26,183.70 L532.40,182.44 L532.53,183.01 L532.67,181.70 L532.81,181.56 L532.94,181.56 L533.08,181.49 L533.22,182.57 L533.35,182.27 L533.49,180.64 L533.62,182.38 L533.76,180.44 L533.90,181.75 L534.03,183.18 L534.17,184.23 L534.31,181.13 L534.44,184.50 L534.58,181.32 L534.72,180.41 L534.85,180.01 L534.99,183.00 L535.12,182.50 L535.26,184.10 L535.40,181.98 L535.53,181.37 L535.67,179.80 L535.81,182.35 L535.94,181.67 L536.08,182.56 L536.22,179.95 L536.35,181.61 L536.49,181.19 L536.62,182.23 L536.76,181.15 L536.90,182.58 L537.03,183.85 L537.17,183.06 L537.31,183.39 L537.44,182.68 L537.58,180.87 L537.72,182.57 L537.85,179.95 L537.99,179.75 L538.12,183.53 L538.26,180.96 L538.40,182.45 L538.53,180.72 L538.67,180.67 L538.81,180.46 L538.94,182.33 L539.08,181.99 L539.22,182.15 L539.35,181.91 L539.49,184.09 L539.62,182.67 L539.76,181.15 L539.90,181.00 L540.03,178.78 L540.17,183.15 L540.31,182.87 L540.44,180.90 L540.58,182.40 L540.72,181.35 L540.85,181.96 L540.99,184.73 L541.12,181.27 L541.26,179.46 L541.40,182.46 L541.53,183.56 L541.67,183.87 L541.81,181.86 L541.94,183.91 L542.08,182.19 L542.22,183.31 L542.35,178.71 L542.49,182.20 L542.62,182.63 L542.76,181.54 L542.90,181.99 L543.03,182.54 L543.17,183.16 L543.31,180.54 L543.44,182.53 L543.58,182.01 L543.72,181.18 L543.85,181.77 L543.99,183.00 L544.12,181.23 L544.26,184.47 L544.40,181.95 L544.53,183.40 L544.67,181.17 L544.81,181.45 L544.94,181.16 L545.08,182.13 L545.21,180.81 L545.35,182.88 L545.49,180.24 L545.62,179.98 L545.76,180.40 L545.90,184.42 L546.03,180.54 L546.17,181.44 L546.31,181.95 L546.44,182.55 L546.58,180.18 L546.71,182.24 L546.85,179.99 L546.99,184.31 L547.12,182.82 L547.26,183.30 L547.40,182.71 L547.53,182.99 L547.67,182.81 L547.81,181.42 L547.94,182.86 L548.08,182.98 L548.21,182.49 L548.35,182.95 L548.49,181.94 L548.62,183.13 L548.76,182.12 L548.90,183.12 L549.03,181.45 L549.17,181.60 L549.31,184.04 L549.44,182.49 L549.58,181.24 L549.71,182.12 L549.85,181.20 L549.99,181.90 L550.12,183.21 L550.26,180.05 L550.40,179.70 L550.53,181.91 L550.67,180.65 L550.81,182.34 L550.94,180.90 L551.08,182.48 L551.21,182.78 L551.35,182.22 L551.49,183.28 L551.62,182.24 L551.76,180.21 L551.90,180.83 L552.03,180.55 L552.17,182.15 L552.31,184.22 L552.44,182.56 L552.58,183.74 L552.71,179.84 L552.85,183.42 L552.99,182.41 L553.12,182.62 L553.26,182.33 L553.40,182.55 L553.53,180.95 L553.67,181.05 L553.81,181.33 L553.94,182.97 L554.08,186.10 L554.21,182.55 L554.35,183.37 L554.49,182.36 L554.62,183.92 L554.76,181.51 L554.90,181.41 L555.03,181.80 L555.17,182.00 L555.31,182.43 L555.44,183.47 L555.58,182.05 L555.71,180.47 L555.85,180.05 L555.99,181.40 L556.12,183.68 L556.26,182.43 L556.40,182.61 L556.53,183.07 L556.67,181.92 L556.81,182.42 L556.94,181.25 L557.08,182.85 L557.21,184.50 L557.35,183.63 L557.49,182.27 L557.62,180.97 L557.76,182.47 L557.90,184.83 L558.03,179.98 L558.17,181.63 L558.31,183.62 L558.44,182.29 L558.58,182.00 L558.71,182.07 L558.85,182.34 L558.99,185.43 L559.12,183.63 L559.26,182.97 L559.40,181.99 L559.53,183.38 L559.67,181.89 L559.81,180.07 L559.94,183.22 L560.08,179.64 L560.21,182.88 L560.35,180.09 L560.49,181.70 L560.62,181.47 L560.76,181.70 L560.90,183.57 L561.03,182.41 L561.17,183.06 L561.31,182.02 L561.44,183.30 L561.58,180.62 L561.71,180.12 L561.85,184.43 L561.99,182.58 L562.12,182.43 L562.26,182.29 L562.40,182.42 L562.53,183.14 L562.67,183.09 L562.81,181.26 L562.94,182.42 L563.08,181.19 L563.21,182.22 L563.35,184.16 L563.49,183.39 L563.62,182.70 L563.76,181.77 L563.90,183.27 L564.03,183.33 L564.17,180.37 L564.31,182.58 L564.44,181.15 L564.58,180.92 L564.71,181.73 L564.85,182.75 L564.99,182.14 L565.12,180.73 L565.26,181.61 L565.40,183.17 L565.53,183.32 L565.67,184.01 L565.81,183.50 L565.94,184.15 L566.08,183.30 L566.21,182.31 L566.35,183.04 L566.49,181.80 L566.62,180.19 L566.76,182.07 L566.90,183.65 L567.03,182.41 L567.17,183.09 L567.31,182.41 L567.44,181.10 L567.58,181.42 L567.71,181.75 L567.85,183.86 L567.99,183.48 L568.12,181.00 L568.26,181.13 L568.40,184.79 L568.53,182.72 L568.67,180.13 L568.81,183.32 L568.94,180.67 L569.08,182.25 L569.21,183.44 L569.35,185.52 L569.49,182.12 L569.62,183.72 L569.76,181.77 L569.90,180.47 L570.03,182.76 L570.17,182.10 L570.31,181.73 L570.44,182.38 L570.58,180.54 L570.71,183.07 L570.85,181.66 L570.99,183.45 L571.12,183.67 L571.26,183.55 L571.40,184.12 L571.53,183.54 L571.67,181.89 L571.81,183.02 L571.94,183.62 L572.08,184.26 L572.21,183.68 L572.35,182.06 L572.49,182.74 L572.62,183.14 L572.76,180.52 L572.90,181.03 L573.03,183.09 L573.17,182.93 L573.31,181.07 L573.44,184.00 L573.58,183.35 L573.71,181.84 L573.85,181.78 L573.99,181.24 L574.12,180.24 L574.26,181.40 L574.40,183.69 L574.53,181.58 L574.67,185.55 L574.81,183.76 L574.94,180.59 L575.08,180.80 L575.21,181.82 L575.35,182.96 L575.49,184.00 L575.62,183.29 L575.76,184.76 L575.90,183.16 L576.03,181.98 L576.17,182.32 L576.31,181.34 L576.44,183.05 L576.58,180.35 L576.71,181.95 L576.85,184.50 L576.99,180.86 L577.12,182.68 L577.26,181.45 L577.40,181.27 L577.53,184.12 L577.67,181.97 L577.81,183.90 L577.94,181.00 L578.08,181.83 L578.21,182.18 L578.35,182.27 L578.49,181.71 L578.62,182.15 L578.76,182.65 L578.90,180.25 L579.03,182.36 L579.17,180.84 L579.30,182.96 L579.44,181.35 L579.58,181.70 L579.71,183.41 L579.85,183.34 L579.99,181.91 L580.12,183.77 L580.26,183.11 L580.40,183.21 L580.53,182.52 L580.67,184.45 L580.80,185.26 L580.94,181.95 L581.08,183.29 L581.21,183.70 L581.35,179.27 L581.49,180.94 L581.62,183.06 L581.76,183.31 L581.90,180.82 L582.03,185.09 L582.17,182.73 L582.30,183.06 L582.44,183.87 L582.58,185.32 L582.71,183.22 L582.85,182.76 L582.99,184.04 L583.12,181.72 L583.26,183.20 L583.40,183.87 L583.53,182.18 L583.67,185.14 L583.80,184.14 L583.94,185.31 L584.08,182.30 L584.21,183.36 L584.35,183.42 L584.49,185.01 L584.62,181.84 L584.76,185.78 L584.90,183.76 L585.03,182.71 L585.17,183.18 L585.30,182.79 L585.44,184.15 L585.58,183.06 L585.71,181.71 L585.85,182.78 L585.99,183.68 L586.12,181.44 L586.26,183.06 L586.40,184.12 L586.53,182.16 L586.67,178.90 L586.80,183.10 L586.94,180.50 L587.08,181.27 L587.21,183.97 L587.35,184.24 L587.49,183.28 L587.62,183.80 L587.76,181.84 L587.90,182.90 L588.03,183.17 L588.17,183.52 L588.30,183.79 L588.44,183.37 L588.58,179.38 L588.71,182.54 L588.85,182.61 L588.99,183.79 L589.12,183.23 L589.26,181.82 L589.40,181.18 L589.53,183.04 L589.67,183.63 L589.80,183.56 L589.94,183.73 L590.08,184.27 L590.21,183.05 L590.35,182.89 L590.49,183.13 L590.62,182.39 L590.76,182.30 L590.90,185.66 L591.03,181.52 L591.17,183.25 L591.30,181.44 L591.44,181.87 L591.58,184.23 L591.71,182.56 L591.85,182.23 L591.99,182.80 L592.12,182.16 L592.26,182.30 L592.40,181.16 L592.53,183.25 L592.67,184.43 L592.80,183.22 L592.94,182.33 L593.08,182.61 L593.21,182.68 L593.35,182.54 L593.49,180.07 L593.62,182.54 L593.76,183.74 L593.90,184.15 L594.03,184.29 L594.17,180.76 L594.30,185.47 L594.44,181.99 L594.58,181.20 L594.71,180.65 L594.85,185.34 L594.99,181.22 L595.12,180.87 L595.26,181.38 L595.40,180.77 L595.53,184.82 L595.67,181.51 L595.80,183.32 L595.94,182.76 L596.08,179.06 L596.21,184.69 L596.35,181.93 L596.49,181.97 L596.62,184.77 L596.76,184.18 L596.90,183.33 L597.03,181.96 L597.17,181.67 L597.30,184.31 L597.44,183.70 L597.58,182.97 L597.71,182.29 L597.85,182.30 L597.99,182.90 L598.12,184.27 L598.26,183.20 L598.40,184.61 L598.53,182.30 L598.67,183.27 L598.80,183.39 L598.94,181.49 L599.08,181.72 L599.21,180.49 L599.35,183.53 L599.49,182.41 L599.62,184.29 L599.76,182.68 L599.90,184.39 L600.03,184.56 L600.17,182.70 L600.30,179.97 L600.44,182.74 L600.58,182.96 L600.71,184.04 L600.85,184.92 L600.99,182.83 L601.12,183.39 L601.26,182.55 L601.40,182.75 L601.53,184.15 L601.67,182.24 L601.80,183.84 L601.94,183.37 L602.08,184.14 L602.21,182.06 L602.35,183.82 L602.49,179.90 L602.62,182.30 L602.76,183.66 L602.90,183.47 L603.03,181.09 L603.17,184.30 L603.30,182.18 L603.44,183.90 L603.58,184.73 L603.71,181.55 L603.85,182.03 L603.99,181.56 L604.12,185.54 L604.26,182.14 L604.40,181.44 L604.53,182.67 L604.67,181.42 L604.80,181.56 L604.94,183.28 L605.08,183.23 L605.21,183.22 L605.35,183.05 L605.49,182.77 L605.62,185.09 L605.76,184.76 L605.90,182.82 L606.03,182.49 L606.17,183.02 L606.30,183.39 L606.44,182.25 L606.58,185.62 L606.71,183.81 L606.85,184.15 L606.99,183.61 L607.12,183.43 L607.26,185.15 L607.40,182.45 L607.53,185.18 L607.67,184.77 L607.80,180.91 L607.94,183.35 L608.08,180.72 L608.21,181.53 L608.35,183.72 L608.49,183.69 L608.62,182.36 L608.76,182.07 L608.90,184.34 L609.03,184.09 L609.17,184.60 L609.30,184.08 L609.44,180.45 L609.58,183.74 L609.71,184.41 L609.85,184.92 L609.99,183.53 L610.12,181.84 L610.26,181.85 L610.40,182.72 L610.53,184.06 L610.67,184.71 L610.80,185.10 L610.94,184.19 L611.08,182.85 L611.21,182.08 L611.35,185.05 L611.49,181.64 L611.62,183.10 L611.76,184.38 L611.90,181.68 L612.03,181.57 L612.17,184.71 L612.30,182.81 L612.44,181.64 L612.58,184.30 L612.71,182.59 L612.85,182.06 L612.99,184.14 L613.12,184.16 L613.26,182.62 L613.39,183.53 L613.53,180.83 L613.67,180.90 L613.80,182.14 L613.94,182.84 L614.08,181.98 L614.21,182.99 L614.35,180.81 L614.49,184.00 L614.62,182.34 L614.76,182.62 L614.89,182.85 L615.03,184.84 L615.17,183.50 L615.30,182.08 L615.44,184.98 L615.58,182.39 L615.71,182.00 L615.85,182.50 L615.99,181.98 L616.12,182.10 L616.26,185.34 L616.39,182.51 L616.53,182.29 L616.67,183.78 L616.80,182.28 L616.94,182.52 L617.08,182.28 L617.21,182.27 L617.35,179.98 L617.49,185.99 L617.62,180.47 L617.76,181.94 L617.89,182.20 L618.03,180.61 L618.17,182.46 L618.30,182.67 L618.44,183.60 L618.58,181.19 L618.71,184.71 L618.85,185.15 L618.99,185.99 L619.12,182.59 L619.26,185.27 L619.39,181.16 L619.53,183.13 L619.67,184.99 L619.80,181.21 L619.94,181.72 L620.08,182.95 L620.21,183.25 L620.35,183.68 L620.49,183.03 L620.62,181.39 L620.76,183.93 L620.89,182.74 L621.03,180.87 L621.17,181.50 L621.30,183.76 L621.44,184.43 L621.58,183.26 L621.71,183.17 L621.85,184.58 L621.99,183.32 L622.12,184.03 L622.26,185.19 L622.39,184.10 L622.53,181.97 L622.67,181.55 L622.80,183.91 L622.94,181.72 L623.08,183.41 L623.21,183.73 L623.35,183.88 L623.49,183.99 L623.62,181.72 L623.76,182.07 L623.89,179.86 L624.03,185.89 L624.17,183.22 L624.30,182.89 L624.44,183.96 L624.58,183.03 L624.71,185.72 L624.85,184.82 L624.99,184.21 L625.12,183.70 L625.26,182.31 L625.39,181.91 L625.53,181.91 L625.67,183.56 L625.80,182.13 L625.94,184.63 L626.08,183.16 L626.21,183.78 L626.35,185.44 L626.49,183.41 L626.62,182.17 L626.76,183.20 L626.89,185.74 L627.03,182.63 L627.17,181.82 L627.30,183.75 L627.44,179.30 L627.58,184.40 L627.71,182.83 L627.85,185.17 L627.99,185.66 L628.12,184.82 L628.26,185.34 L628.39,183.73 L628.53,181.59 L628.67,183.29 L628.80,183.72 L628.94,183.26 L629.08,185.89 L629.21,182.93 L629.35,182.41 L629.49,181.56 L629.62,182.20 L629.76,186.00 L629.89,184.49 L630.03,181.57 L630.17,183.31 L630.30,185.64 L630.44,184.22 L630.58,183.81 L630.71,182.46 L630.85,185.71 L630.99,182.59 L631.12,186.51 L631.26,185.26 L631.39,182.62 L631.53,185.51 L631.67,184.03 L631.80,181.24 L631.94,181.89 L632.08,180.49 L632.21,184.71 L632.35,181.75 L632.49,183.02 L632.62,184.94 L632.76,179.13 L632.89,182.78 L633.03,179.71 L633.17,181.79 L633.30,182.51 L633.44,182.04 L633.58,186.34 L633.71,179.67 L633.85,182.76 L633.99,182.00 L634.12,182.58 L634.26,184.81 L634.39,181.87 L634.53,181.08 L634.67,180.95 L634.80,187.57 L634.94,183.67 L635.08,181.73 L635.21,182.17 L635.35,182.69 L635.49,183.15 L635.62,181.74 L635.76,183.14 L635.89,184.81 L636.03,183.35 L636.17,180.80 L636.30,181.32 L636.44,184.53 L636.58,185.77 L636.71,184.65 L636.85,183.89 L636.99,183.11 L637.12,184.82 L637.26,186.15 L637.39,182.34 L637.53,184.40 L637.67,182.53 L637.80,181.82 L637.94,184.69 L638.08,183.35 L638.21,182.93 L638.35,184.09 L638.49,185.97 L638.62,183.42 L638.76,183.69 L638.89,183.28 L639.03,184.88 L639.17,180.42 L639.30,183.90 L639.44,183.10 L639.58,183.72 L639.71,183.73 L639.85,183.11 L639.99,185.49 L640.12,183.20 L640.26,183.24 L640.39,183.17 L640.53,181.95 L640.67,182.44 L640.80,184.57 L640.94,180.93 L641.08,184.74 L641.21,184.31 L641.35,185.22 L641.49,184.86 L641.62,180.66 L641.76,186.06 L641.89,182.05 L642.03,182.17 L642.17,184.26 L642.30,183.85 L642.44,185.81 L642.58,183.48 L642.71,182.29 L642.85,183.07 L642.99,182.13 L643.12,184.07 L643.26,182.65 L643.39,183.01 L643.53,181.16 L643.67,182.57 L643.80,181.15 L643.94,181.21 L644.08,183.81 L644.21,184.38 L644.35,181.46 L644.49,182.83 L644.62,182.58 L644.76,185.65 L644.89,181.31 L645.03,181.59 L645.17,185.71 L645.30,184.72 L645.44,180.69 L645.58,181.89 L645.71,184.22 L645.85,181.30 L645.99,184.20 L646.12,183.71 L646.26,184.85 L646.39,181.08 L646.53,179.88 L646.67,182.70 L646.80,183.26 L646.94,181.84 L647.08,181.43 L647.21,182.67 L647.35,182.75 L647.48,183.38 L647.62,184.68 L647.76,182.19 L647.89,184.46 L648.03,182.00 L648.17,184.06 L648.30,183.54 L648.44,182.86 L648.58,180.62 L648.71,184.34 L648.85,183.02 L648.98,183.32 L649.12,184.98 L649.26,185.36 L649.39,184.06 L649.53,183.08 L649.67,182.77 L649.80,182.51 L649.94,181.25 L650.08,181.92 L650.21,186.16 L650.35,186.00 L650.48,182.44 L650.62,181.25 L650.76,182.71 L650.89,184.30 L651.03,184.97 L651.17,180.61 L651.30,182.52 L651.44,183.10 L651.58,183.09 L651.71,184.97 L651.85,185.09 L651.98,183.89 L652.12,184.68 L652.26,182.57 L652.39,180.21 L652.53,185.13 L652.67,184.01 L652.80,183.74 L652.94,185.60 L653.08,182.27 L653.21,186.83 L653.35,183.96 L653.48,180.55 L653.62,182.78 L653.76,179.87 L653.89,183.17 L654.03,184.27 L654.17,183.90 L654.30,186.66 L654.44,184.38 L654.58,183.84 L654.71,181.15 L654.85,182.98 L654.98,185.12 L655.12,184.13 L655.26,183.58 L655.39,183.58 L655.53,180.91 L655.67,183.39 L655.80,185.14 L655.94,183.05 L656.08,183.68 L656.21,185.73 L656.35,183.59 L656.48,183.86 L656.62,180.78 L656.76,182.63 L656.89,184.87 L657.03,183.85 L657.17,184.05 L657.30,182.23 L657.44,185.04 L657.58,184.01 L657.71,184.63 L657.85,183.06 L657.98,183.90 L658.12,183.78 L658.26,182.68 L658.39,183.71 L658.53,183.27 L658.67,182.16 L658.80,184.16 L658.94,185.42 L659.08,184.55 L659.21,185.60 L659.35,182.05 L659.48,181.94 L659.62,183.54 L659.76,180.26 L659.89,183.17 L660.03,180.26 L660.17,181.77 L660.30,184.27 L660.44,185.17 L660.58,182.76 L660.71,183.00 L660.85,183.54 L660.98,181.05 L661.12,183.46 L661.26,182.11 L661.39,184.83 L661.53,183.69 L661.67,181.71 L661.80,185.46 L661.94,185.58 L662.08,180.21 L662.21,181.48 L662.35,183.01 L662.48,181.13 L662.62,183.28 L662.76,182.22 L662.89,185.23 L663.03,182.95 L663.17,182.49 L663.30,180.98 L663.44,184.11 L663.58,181.43 L663.71,185.87 L663.85,181.89 L663.98,184.36 L664.12,183.68 L664.26,186.74 L664.39,181.22 L664.53,183.59 L664.67,184.10 L664.80,180.66 L664.94,183.97 L665.08,182.44 L665.21,183.65 L665.35,183.44 L665.48,183.07 L665.62,183.19 L665.76,183.36 L665.89,183.07 L666.03,184.06 L666.17,182.80 L666.30,182.59 L666.44,185.29 L666.58,184.10 L666.71,185.75 L666.85,185.49 L666.98,181.87 L667.12,183.68 L667.26,185.85 L667.39,185.02 L667.53,184.58 L667.67,178.95 L667.80,183.55 L667.94,185.50 L668.08,182.98 L668.21,180.97 L668.35,184.79 L668.48,183.97 L668.62,186.65 L668.76,181.82 L668.89,181.64 L669.03,185.15 L669.17,182.06 L669.30,182.42 L669.44,184.19 L669.58,184.57 L669.71,184.29 L669.85,180.36 L669.98,181.48 L670.12,182.57 L670.26,183.77 L670.39,183.55 L670.53,187.91 L670.67,182.88 L670.80,181.42 L670.94,184.85 L671.08,182.03 L671.21,181.44 L671.35,182.86 L671.48,184.16 L671.62,182.63 L671.76,183.79 L671.89,182.29 L672.03,182.58 L672.17,183.53 L672.30,183.43 L672.44,183.52 L672.58,181.99 L672.71,182.97 L672.85,186.33 L672.98,183.90 L673.12,183.94 L673.26,183.05 L673.39,182.99 L673.53,183.60 L673.67,185.19 L673.80,185.43 L673.94,184.23 L674.08,182.14 L674.21,183.35 L674.35,183.92 L674.48,182.62 L674.62,185.05 L674.76,182.73 L674.89,185.99 L675.03,180.85 L675.17,181.89 L675.30,184.28 L675.44,185.66 L675.58,185.47 L675.71,183.50 L675.85,182.92 L675.98,183.97 L676.12,182.79 L676.26,182.08 L676.39,184.48 L676.53,184.41 L676.67,183.22 L676.80,181.28 L676.94,183.45 L677.08,179.95 L677.21,183.91 L677.35,182.82 L677.48,182.17 L677.62,186.60 L677.76,185.58 L677.89,182.78 L678.03,186.86 L678.17,182.10 L678.30,182.12 L678.44,185.56 L678.58,181.62 L678.71,185.23 L678.85,184.74 L678.98,184.53 L679.12,183.48 L679.26,182.14 L679.39,184.09 L679.53,182.69 L679.67,183.31 L679.80,182.48 L679.94,184.44 L680.08,181.18 L680.21,184.04 L680.35,183.50 L680.48,185.24 L680.62,183.29 L680.76,184.76 L680.89,183.51 L681.03,181.27 L681.17,184.01 L681.30,184.00 L681.44,184.03 L681.57,181.68 L681.71,181.44 L681.85,186.65 L681.98,186.10 L682.12,185.10 L682.26,185.72 L682.39,184.70 L682.53,183.08 L682.67,182.26 L682.80,183.38 L682.94,181.16 L683.07,182.04 L683.21,182.38 L683.35,184.30 L683.48,183.87 L683.62,181.83 L683.76,182.51 L683.89,181.48 L684.03,183.31 L684.17,180.98 L684.30,179.70 L684.44,183.90 L684.57,181.63 L684.71,182.45 L684.85,184.24 L684.98,183.25 L685.12,184.78 L685.26,182.14 L685.39,182.84 L685.53,181.42 L685.67,185.63 L685.80,181.46 L685.94,184.09 L686.07,184.61 L686.21,184.69 L686.35,182.77 L686.48,184.41 L686.62,182.17 L686.76,185.41 L686.89,185.33 L687.03,182.57 L687.17,183.61 L687.30,182.42 L687.44,187.14 L687.57,182.31 L687.71,181.96 L687.85,182.24 L687.98,185.28 L688.12,185.01 L688.26,181.79 L688.39,182.30 L688.53,183.31 L688.67,180.40 L688.80,185.34 L688.94,181.88 L689.07,185.99 L689.21,187.24 L689.35,182.33 L689.48,184.23 L689.62,183.19 L689.76,180.80 L689.89,183.33 L690.03,180.13 L690.17,183.14 L690.30,183.03 L690.44,183.85 L690.57,181.21 L690.71,182.74 L690.85,181.82 L690.98,183.53 L691.12,182.16 L691.26,184.62 L691.39,185.86"/>
<path class="ln" stroke="#d62728" stroke-opacity="0.8" stroke-width="1.45" d="M419.90,8.00 L420.00,16.00 L420.20,59.60 L420.34,67.71 L420.47,71.33 L420.61,74.82 L420.75,75.86 L420.88,78.47 L421.02,83.97 L421.15,82.28 L421.29,84.76 L421.43,87.74 L421.56,91.19 L421.70,93.25 L421.84,95.94 L421.97,97.02 L422.11,96.78 L422.25,97.59 L422.38,98.80 L422.52,99.62 L422.65,100.84 L422.79,101.63 L422.93,104.46 L423.06,103.86 L423.20,105.94 L423.34,104.84 L423.47,104.80 L423.61,106.91 L423.75,104.94 L423.88,107.77 L424.02,107.74 L424.15,107.74 L424.29,108.26 L424.43,111.60 L424.56,108.39 L424.70,114.85 L424.84,111.14 L424.97,111.76 L425.11,113.57 L425.25,113.21 L425.38,113.94 L425.52,114.60 L425.65,114.21 L425.79,116.95 L425.93,114.23 L426.06,118.72 L426.20,116.65 L426.34,118.68 L426.47,115.98 L426.61,119.27 L426.75,120.11 L426.88,119.00 L427.02,121.74 L427.15,121.47 L427.29,119.74 L427.43,121.21 L427.56,121.85 L427.70,125.01 L427.84,123.89 L427.97,121.44 L428.11,124.36 L428.25,123.00 L428.38,123.14 L428.52,123.83 L428.65,123.35 L428.79,125.14 L428.93,124.91 L429.06,125.93 L429.20,124.03 L429.34,124.21 L429.47,127.47 L429.61,125.95 L429.75,129.13 L429.88,124.36 L430.02,128.27 L430.15,125.47 L430.29,126.97 L430.43,128.40 L430.56,126.35 L430.70,126.25 L430.84,127.40 L430.97,128.88 L431.11,127.10 L431.25,128.07 L431.38,130.40 L431.52,128.04 L431.65,130.55 L431.79,131.61 L431.93,131.01 L432.06,128.66 L432.20,132.13 L432.34,130.98 L432.47,129.64 L432.61,129.26 L432.75,129.16 L432.88,130.40 L433.02,130.63 L433.15,131.38 L433.29,132.41 L433.43,131.94 L433.56,131.28 L433.70,132.45 L433.84,130.79 L433.97,131.57 L434.11,132.17 L434.25,133.69 L434.38,132.37 L434.52,132.43 L434.65,133.01 L434.79,131.69 L434.93,133.61 L435.06,132.93 L435.20,134.00 L435.34,132.46 L435.47,135.35 L435.61,135.10 L435.75,136.46 L435.88,136.03 L436.02,136.73 L436.15,135.93 L436.29,135.79 L436.43,134.89 L436.56,137.24 L436.70,136.17 L436.84,135.30 L436.97,135.96 L437.11,136.24 L437.25,137.54 L437.38,137.16 L437.52,136.35 L437.65,138.86 L437.79,135.11 L437.93,139.01 L438.06,138.24 L438.20,136.81 L438.34,137.35 L438.47,136.52 L438.61,135.96 L438.74,140.44 L438.88,138.64 L439.02,137.65 L439.15,137.13 L439.29,138.48 L439.43,139.55 L439.56,138.13 L439.70,137.62 L439.84,137.33 L439.97,140.00 L440.11,140.97 L440.24,142.71 L440.38,141.17 L440.52,139.12 L440.65,138.77 L440.79,142.11 L440.93,139.89 L441.06,140.66 L441.20,140.91 L441.34,141.79 L441.47,141.32 L441.61,143.32 L441.74,142.89 L441.88,140.39 L442.02,142.23 L442.15,142.16 L442.29,140.44 L442.43,140.79 L442.56,140.60 L442.70,141.33 L442.84,141.76 L442.97,142.81 L443.11,142.63 L443.24,140.34 L443.38,142.91 L443.52,143.22 L443.65,144.95 L443.79,142.21 L443.93,143.45 L444.06,144.29 L444.20,144.75 L444.34,144.37 L444.47,142.37 L444.61,145.56 L444.74,145.50 L444.88,144.10 L445.02,144.41 L445.15,144.70 L445.29,144.64 L445.43,144.84 L445.56,145.81 L445.70,145.65 L445.84,145.00 L445.97,145.10 L446.11,144.96 L446.24,143.52 L446.38,146.14 L446.52,145.75 L446.65,144.23 L446.79,145.49 L446.93,147.24 L447.06,146.13 L447.20,147.50 L447.34,148.79 L447.47,146.72 L447.61,148.17 L447.74,149.97 L447.88,148.54 L448.02,145.66 L448.15,146.81 L448.29,145.33 L448.43,148.02 L448.56,148.19 L448.70,147.35 L448.84,146.58 L448.97,148.82 L449.11,148.26 L449.24,145.86 L449.38,148.48 L449.52,147.26 L449.65,149.22 L449.79,148.49 L449.93,149.02 L450.06,148.46 L450.20,149.41 L450.34,150.88 L450.47,149.38 L450.61,150.56 L450.74,149.07 L450.88,151.95 L451.02,149.16 L451.15,148.29 L451.29,146.87 L451.43,150.43 L451.56,148.56 L451.70,151.98 L451.84,150.64 L451.97,151.20 L452.11,151.26 L452.24,152.81 L452.38,150.95 L452.52,149.51 L452.65,150.63 L452.79,149.74 L452.93,150.42 L453.06,152.43 L453.20,154.38 L453.34,152.01 L453.47,150.77 L453.61,151.92 L453.74,152.68 L453.88,153.62 L454.02,151.97 L454.15,150.14 L454.29,152.63 L454.43,152.23 L454.56,153.32 L454.70,151.67 L454.84,154.40 L454.97,152.27 L455.11,153.62 L455.24,155.30 L455.38,154.12 L455.52,153.84 L455.65,154.88 L455.79,152.85 L455.93,152.56 L456.06,153.88 L456.20,154.49 L456.34,155.08 L456.47,153.02 L456.61,154.27 L456.74,155.00 L456.88,153.79 L457.02,150.95 L457.15,155.82 L457.29,155.10 L457.43,156.07 L457.56,154.17 L457.70,152.24 L457.84,154.91 L457.97,156.03 L458.11,154.45 L458.24,155.67 L458.38,155.87 L458.52,155.94 L458.65,154.52 L458.79,155.08 L458.93,155.89 L459.06,155.61 L459.20,157.64 L459.34,155.82 L459.47,154.23 L459.61,158.24 L459.74,153.89 L459.88,156.47 L460.02,158.17 L460.15,158.19 L460.29,154.79 L460.43,155.72 L460.56,158.75 L460.70,157.50 L460.84,153.92 L460.97,154.71 L461.11,155.50 L461.24,154.99 L461.38,158.10 L461.52,155.89 L461.65,157.39 L461.79,158.38 L461.93,154.56 L462.06,156.02 L462.20,157.65 L462.34,158.29 L462.47,158.80 L462.61,157.31 L462.74,157.29 L462.88,155.85 L463.02,155.58 L463.15,158.19 L463.29,158.47 L463.43,158.65 L463.56,157.18 L463.70,159.33 L463.84,160.89 L463.97,157.03 L464.11,156.48 L464.24,158.88 L464.38,159.43 L464.52,158.16 L464.65,158.73 L464.79,160.57 L464.93,158.08 L465.06,157.76 L465.20,159.40 L465.34,158.31 L465.47,159.07 L465.61,160.84 L465.74,157.11 L465.88,158.18 L466.02,158.89 L466.15,159.90 L466.29,159.34 L466.43,159.11 L466.56,157.20 L466.70,158.85 L466.84,160.04 L466.97,159.17 L467.11,159.33 L467.24,160.24 L467.38,159.69 L467.52,156.77 L467.65,160.39 L467.79,160.45 L467.93,158.26 L468.06,159.94 L468.20,160.31 L468.34,159.95 L468.47,159.55 L468.61,161.66 L468.74,162.73 L468.88,160.04 L469.02,162.20 L469.15,158.11 L469.29,160.13 L469.43,162.48 L469.56,161.30 L469.70,159.91 L469.84,161.14 L469.97,160.23 L470.11,163.16 L470.24,163.33 L470.38,161.00 L470.52,161.76 L470.65,162.08 L470.79,162.46 L470.93,160.58 L471.06,162.80 L471.20,161.42 L471.34,161.71 L471.47,158.70 L471.61,160.90 L471.74,161.33 L471.88,161.31 L472.02,162.89 L472.15,159.15 L472.29,162.40 L472.43,162.46 L472.56,160.21 L472.70,162.02 L472.83,162.58 L472.97,163.53 L473.11,159.28 L473.24,161.69 L473.38,162.67 L473.52,162.51 L473.65,161.56 L473.79,163.83 L473.93,160.78 L474.06,163.97 L474.20,162.62 L474.33,163.31 L474.47,164.06 L474.61,163.41 L474.74,163.07 L474.88,162.25 L475.02,161.67 L475.15,163.26 L475.29,162.72 L475.43,162.50 L475.56,163.44 L475.70,161.70 L475.83,163.42 L475.97,164.92 L476.11,161.74 L476.24,161.48 L476.38,161.60 L476.52,163.13 L476.65,165.55 L476.79,163.44 L476.93,163.53 L477.06,162.61 L477.20,162.74 L477.33,163.47 L477.47,161.19 L477.61,163.37 L477.74,161.29 L477.88,165.21 L478.02,162.24 L478.15,163.68 L478.29,161.75 L478.43,161.91 L478.56,165.47 L478.70,161.40 L478.83,165.55 L478.97,161.02 L479.11,163.26 L479.24,164.52 L479.38,162.46 L479.52,162.14 L479.65,165.71 L479.79,164.73 L479.93,161.90 L480.06,164.19 L480.20,163.92 L480.33,165.29 L480.47,164.05 L480.61,162.37 L480.74,163.95 L480.88,165.90 L481.02,164.69 L481.15,165.07 L481.29,165.04 L481.43,162.13 L481.56,164.32 L481.70,163.61 L481.83,162.64 L481.97,163.15 L482.11,163.10 L482.24,164.00 L482.38,163.69 L482.52,164.49 L482.65,162.53 L482.79,163.22 L482.93,164.61 L483.06,164.63 L483.20,163.05 L483.33,165.51 L483.47,165.29 L483.61,162.95 L483.74,163.22 L483.88,162.92 L484.02,165.41 L484.15,163.11 L484.29,165.36 L484.43,162.92 L484.56,165.15 L484.70,167.14 L484.83,167.15 L484.97,164.66 L485.11,167.53 L485.24,163.98 L485.38,165.21 L485.52,164.33 L485.65,164.10 L485.79,165.40 L485.93,162.96 L486.06,165.81 L486.20,164.32 L486.33,165.48 L486.47,165.45 L486.61,167.58 L486.74,166.22 L486.88,166.01 L487.02,165.68 L487.15,163.65 L487.29,166.47 L487.43,165.19 L487.56,166.17 L487.70,165.36 L487.83,167.28 L487.97,164.35 L488.11,166.09 L488.24,166.64 L488.38,164.98 L488.52,165.03 L488.65,164.66 L488.79,163.52 L488.93,164.08 L489.06,165.83 L489.20,166.28 L489.33,163.96 L489.47,164.88 L489.61,164.12 L489.74,166.11 L489.88,164.92 L490.02,164.13 L490.15,165.88 L490.29,166.31 L490.43,167.67 L490.56,167.90 L490.70,164.48 L490.83,165.88 L490.97,166.83 L491.11,165.32 L491.24,164.77 L491.38,167.71 L491.52,165.99 L491.65,167.37 L491.79,166.26 L491.93,167.09 L492.06,168.45 L492.20,167.01 L492.33,168.18 L492.47,166.30 L492.61,165.79 L492.74,168.89 L492.88,167.33 L493.02,166.92 L493.15,166.30 L493.29,168.89 L493.43,165.67 L493.56,166.32 L493.70,166.52 L493.83,164.32 L493.97,165.55 L494.11,166.32 L494.24,164.98 L494.38,164.32 L494.52,165.80 L494.65,166.93 L494.79,166.81 L494.93,165.19 L495.06,167.54 L495.20,165.66 L495.33,167.70 L495.47,167.41 L495.61,166.22 L495.74,166.24 L495.88,168.04 L496.02,165.02 L496.15,165.87 L496.29,167.77 L496.43,166.44 L496.56,165.16 L496.70,164.67 L496.83,167.99 L496.97,165.99 L497.11,167.24 L497.24,167.99 L497.38,166.89 L497.52,168.77 L497.65,165.61 L497.79,166.64 L497.93,168.26 L498.06,165.16 L498.20,167.42 L498.33,167.46 L498.47,166.74 L498.61,164.27 L498.74,165.51 L498.88,166.02 L499.02,168.50 L499.15,165.83 L499.29,165.36 L499.43,166.92 L499.56,163.39 L499.70,166.79 L499.83,166.12 L499.97,167.48 L500.11,169.71 L500.24,164.90 L500.38,166.79 L500.52,166.93 L500.65,166.90 L500.79,167.60 L500.93,165.45 L501.06,168.43 L501.20,165.50 L501.33,164.46 L501.47,167.50 L501.61,167.78 L501.74,166.04 L501.88,167.23 L502.02,168.18 L502.15,170.37 L502.29,165.92 L502.43,166.10 L502.56,164.59 L502.70,167.46 L502.83,166.42 L502.97,168.18 L503.11,165.98 L503.24,167.22 L503.38,166.00 L503.52,166.71 L503.65,166.92 L503.79,167.87 L503.93,168.43 L504.06,168.65 L504.20,167.97 L504.33,163.89 L504.47,167.65 L504.61,165.68 L504.74,166.11 L504.88,169.05 L505.02,169.39 L505.15,167.77 L505.29,166.02 L505.43,169.86 L505.56,165.38 L505.70,165.39 L505.83,168.81 L505.97,169.00 L506.11,169.01 L506.24,168.79 L506.38,168.42 L506.52,165.38 L506.65,166.74 L506.79,168.11 L506.92,164.73 L507.06,168.35 L507.20,168.10 L507.33,166.08 L507.47,168.27 L507.61,167.39 L507.74,166.32 L507.88,167.06 L508.02,168.93 L508.15,167.72 L508.29,167.27 L508.42,166.74 L508.56,167.46 L508.70,166.06 L508.83,167.43 L508.97,167.15 L509.11,164.68 L509.24,165.93 L509.38,169.18 L509.52,167.66 L509.65,168.92 L509.79,167.79 L509.92,167.90 L510.06,167.95 L510.20,169.14 L510.33,168.39 L510.47,168.40 L510.61,167.20 L510.74,169.37 L510.88,170.34 L511.02,166.96 L511.15,168.30 L511.29,166.17 L511.42,169.86 L511.56,167.70 L511.70,168.95 L511.83,167.05 L511.97,167.09 L512.11,166.98 L512.24,168.71 L512.38,167.70 L512.52,168.55 L512.65,167.89 L512.79,165.27 L512.92,167.23 L513.06,166.83 L513.20,168.00 L513.33,168.80 L513.47,167.69 L513.61,166.53 L513.74,170.21 L513.88,167.32 L514.02,168.72 L514.15,169.68 L514.29,166.32 L514.42,167.62 L514.56,168.94 L514.70,171.27 L514.83,166.27 L514.97,165.01 L515.11,167.73 L515.24,167.72 L515.38,166.94 L515.52,169.64 L515.65,167.05 L515.79,166.56 L515.92,168.60 L516.06,167.81 L516.20,168.15 L516.33,168.59 L516.47,166.74 L516.61,166.23 L516.74,165.91 L516.88,165.02 L517.02,166.04 L517.15,168.47 L517.29,167.32 L517.42,171.43 L517.56,167.41 L517.70,164.51 L517.83,169.21 L517.97,169.61 L518.11,168.25 L518.24,165.49 L518.38,167.45 L518.52,169.43 L518.65,167.25 L518.79,168.01 L518.92,168.62 L519.06,168.44 L519.20,165.03 L519.33,167.71 L519.47,169.07 L519.61,165.71 L519.74,164.90 L519.88,170.55 L520.02,165.65 L520.15,168.15 L520.29,168.29 L520.42,168.48 L520.56,164.88 L520.70,166.81 L520.83,167.53 L520.97,167.29 L521.11,167.50 L521.24,166.63 L521.38,167.28 L521.52,171.04 L521.65,167.40 L521.79,169.35 L521.92,166.38 L522.06,167.85 L522.20,169.18 L522.33,168.23 L522.47,169.38 L522.61,168.08 L522.74,168.91 L522.88,166.95 L523.02,167.01 L523.15,168.78 L523.29,169.02 L523.42,167.47 L523.56,170.16 L523.70,168.87 L523.83,169.09 L523.97,168.43 L524.11,167.09 L524.24,167.13 L524.38,169.82 L524.52,168.31 L524.65,167.18 L524.79,167.64 L524.92,169.94 L525.06,168.06 L525.20,169.27 L525.33,169.70 L525.47,168.02 L525.61,171.03 L525.74,169.92 L525.88,167.70 L526.02,168.91 L526.15,169.10 L526.29,168.50 L526.42,168.44 L526.56,170.05 L526.70,168.94 L526.83,168.63 L526.97,167.32 L527.11,168.98 L527.24,169.62 L527.38,166.19 L527.52,170.52 L527.65,167.39 L527.79,166.64 L527.92,168.63 L528.06,167.26 L528.20,166.40 L528.33,170.19 L528.47,169.56 L528.61,169.44 L528.74,171.92 L528.88,167.81 L529.02,168.38 L529.15,165.94 L529.29,168.04 L529.42,169.39 L529.56,167.98 L529.70,170.00 L529.83,170.73 L529.97,168.08 L530.11,168.91 L530.24,169.94 L530.38,172.02 L530.52,168.77 L530.65,169.08 L530.79,167.76 L530.92,168.82 L531.06,169.78 L531.20,169.99 L531.33,167.93 L531.47,169.45 L531.61,166.40 L531.74,168.97 L531.88,168.65 L532.02,171.05 L532.15,170.06 L532.29,168.50 L532.42,168.58 L532.56,169.00 L532.70,168.28 L532.83,168.08 L532.97,169.17 L533.11,168.24 L533.24,165.71 L533.38,170.18 L533.52,168.68 L533.65,165.10 L533.79,170.85 L533.92,169.95 L534.06,166.95 L534.20,167.73 L534.33,169.37 L534.47,167.29 L534.61,168.47 L534.74,167.23 L534.88,167.72 L535.02,169.45 L535.15,167.33 L535.29,171.11 L535.42,166.60 L535.56,166.69 L535.70,168.83 L535.83,170.61 L535.97,168.55 L536.11,167.42 L536.24,169.83 L536.38,168.41 L536.52,172.71 L536.65,169.91 L536.79,170.98 L536.92,168.96 L537.06,167.87 L537.20,168.43 L537.33,169.47 L537.47,167.59 L537.61,169.19 L537.74,167.86 L537.88,166.45 L538.02,170.62 L538.15,167.80 L538.29,169.05 L538.42,169.36 L538.56,168.12 L538.70,166.78 L538.83,167.31 L538.97,167.66 L539.11,170.49 L539.24,171.42 L539.38,168.67 L539.52,167.98 L539.65,169.78 L539.79,172.29 L539.92,169.97 L540.06,167.52 L540.20,167.01 L540.33,170.53 L540.47,171.37 L540.61,168.77 L540.74,170.62 L540.88,170.15 L541.01,169.20 L541.15,167.79 L541.29,166.69 L541.42,166.94 L541.56,166.33 L541.70,170.00 L541.83,168.01 L541.97,168.44 L542.11,169.15 L542.24,170.91 L542.38,167.05 L542.51,170.12 L542.65,169.58 L542.79,167.69 L542.92,168.90 L543.06,168.48 L543.20,168.82 L543.33,170.61 L543.47,170.44 L543.61,170.71 L543.74,168.11 L543.88,170.75 L544.01,169.69 L544.15,169.50 L544.29,169.18 L544.42,167.42 L544.56,168.59 L544.70,168.89 L544.83,167.87 L544.97,167.39 L545.11,170.98 L545.24,170.42 L545.38,170.84 L545.51,167.08 L545.65,170.92 L545.79,169.72 L545.92,167.36 L546.06,167.80 L546.20,169.39 L546.33,166.06 L546.47,164.75 L546.61,167.99 L546.74,169.15 L546.88,169.22 L547.01,170.79 L547.15,169.04 L547.29,168.79 L547.42,169.38 L547.56,169.46 L547.70,167.47 L547.83,165.47 L547.97,170.19 L548.11,169.33 L548.24,166.13 L548.38,170.06 L548.51,168.25 L548.65,169.79 L548.79,168.30 L548.92,170.61 L549.06,169.29 L549.20,168.77 L549.33,170.58 L549.47,172.38 L549.61,171.60 L549.74,169.29 L549.88,169.59 L550.01,171.48 L550.15,170.98 L550.29,167.56 L550.42,166.55 L550.56,173.02 L550.70,171.38 L550.83,167.91 L550.97,167.33 L551.11,170.10 L551.24,167.86 L551.38,168.65 L551.51,168.28 L551.65,169.42 L551.79,170.33 L551.92,170.41 L552.06,168.77 L552.20,167.53 L552.33,168.19 L552.47,167.96 L552.61,166.90 L552.74,169.53 L552.88,167.43 L553.01,172.28 L553.15,171.51 L553.29,168.50 L553.42,168.38 L553.56,170.13 L553.70,165.22 L553.83,169.88 L553.97,170.85 L554.11,169.30 L554.24,168.55 L554.38,169.17 L554.51,168.97 L554.65,167.32 L554.79,167.07 L554.92,170.03 L555.06,168.57 L555.20,168.61 L555.33,168.25 L555.47,170.33 L555.61,171.17 L555.74,170.19 L555.88,169.69 L556.01,169.65 L556.15,173.27 L556.29,172.09 L556.42,168.71 L556.56,170.72 L556.70,169.48 L556.83,167.47 L556.97,170.26 L557.11,167.83 L557.24,169.92 L557.38,171.23 L557.51,166.38 L557.65,169.65 L557.79,169.34 L557.92,167.89 L558.06,168.71 L558.20,168.22 L558.33,169.08 L558.47,167.93 L558.61,170.76 L558.74,170.08 L558.88,168.75 L559.01,169.43 L559.15,168.86 L559.29,168.06 L559.42,171.69 L559.56,167.58 L559.70,171.22 L559.83,170.64 L559.97,169.78 L560.11,169.18 L560.24,171.88 L560.38,165.16 L560.51,169.82 L560.65,170.13 L560.79,167.90 L560.92,171.49 L561.06,168.18 L561.20,173.90 L561.33,169.67 L561.47,172.44 L561.61,172.06 L561.74,168.10 L561.88,168.56 L562.01,170.20 L562.15,170.78 L562.29,169.28 L562.42,168.06 L562.56,169.85 L562.70,168.72 L562.83,170.40 L562.97,167.75 L563.11,170.03 L563.24,173.02 L563.38,171.77 L563.51,171.46 L563.65,171.18 L563.79,171.95 L563.92,171.56 L564.06,168.75 L564.20,167.98 L564.33,167.98 L564.47,171.32 L564.61,174.72 L564.74,169.31 L564.88,167.13 L565.01,169.31 L565.15,169.28 L565.29,168.80 L565.42,171.19 L565.56,169.80 L565.70,170.01 L565.83,167.13 L565.97,171.36 L566.11,166.71 L566.24,169.65 L566.38,169.26 L566.51,169.29 L566.65,166.50 L566.79,168.93 L566.92,169.61 L567.06,172.47 L567.20,170.53 L567.33,168.11 L567.47,169.94 L567.61,172.79 L567.74,169.82 L567.88,170.29 L568.01,170.04 L568.15,172.40 L568.29,172.67 L568.42,170.03 L568.56,172.57 L568.70,168.65 L568.83,169.25 L568.97,168.93 L569.11,168.50 L569.24,168.87 L569.38,169.42 L569.51,169.83 L569.65,169.51 L569.79,169.46 L569.92,170.52 L570.06,171.85 L570.20,168.02 L570.33,170.60 L570.47,168.87 L570.61,171.75 L570.74,167.26 L570.88,169.19 L571.01,169.62 L571.15,172.04 L571.29,168.02 L571.42,171.00 L571.56,168.66 L571.70,168.05 L571.83,168.95 L571.97,167.62 L572.11,166.93 L572.24,170.07 L572.38,169.14 L572.51,170.75 L572.65,172.10 L572.79,169.93 L572.92,168.84 L573.06,168.20 L573.20,172.94 L573.33,170.73 L573.47,168.30 L573.61,173.36 L573.74,171.50 L573.88,167.44 L574.01,170.00 L574.15,168.45 L574.29,169.48 L574.42,166.92 L574.56,170.29 L574.70,168.91 L574.83,170.60 L574.97,170.35 L575.10,169.08 L575.24,171.45 L575.38,171.14 L575.51,171.42 L575.65,170.51 L575.79,171.58 L575.92,171.33 L576.06,169.50 L576.20,168.89 L576.33,172.19 L576.47,171.78 L576.60,173.24 L576.74,170.35 L576.88,171.00 L577.01,167.58 L577.15,169.89 L577.29,167.93 L577.42,170.08 L577.56,170.54 L577.70,170.05 L577.83,167.05 L577.97,175.28 L578.10,171.12 L578.24,173.94 L578.38,171.69 L578.51,165.45 L578.65,168.32 L578.79,174.17 L578.92,168.32 L579.06,169.99 L579.20,168.94 L579.33,168.57 L579.47,171.83 L579.60,169.02 L579.74,172.42 L579.88,170.26 L580.01,169.09 L580.15,173.01 L580.29,174.37 L580.42,171.84 L580.56,169.98 L580.70,169.46 L580.83,169.97 L580.97,169.93 L581.10,173.86 L581.24,170.77 L581.38,173.36 L581.51,170.60 L581.65,173.98 L581.79,168.42 L581.92,169.96 L582.06,170.55 L582.20,172.47 L582.33,169.81 L582.47,170.17 L582.60,169.85 L582.74,169.39 L582.88,170.19 L583.01,168.81 L583.15,172.38 L583.29,170.03 L583.42,169.19 L583.56,170.26 L583.70,171.39 L583.83,172.44 L583.97,173.16 L584.10,171.18 L584.24,170.57 L584.38,171.44 L584.51,173.83 L584.65,169.46 L584.79,171.37 L584.92,169.67 L585.06,168.39 L585.20,168.91 L585.33,170.66 L585.47,168.24 L585.60,172.92 L585.74,171.77 L585.88,166.74 L586.01,167.52 L586.15,171.64 L586.29,172.45 L586.42,172.49 L586.56,169.19 L586.70,167.94 L586.83,170.62 L586.97,169.24 L587.10,170.94 L587.24,167.96 L587.38,171.72 L587.51,167.98 L587.65,173.14 L587.79,172.44 L587.92,170.02 L588.06,172.17 L588.20,171.85 L588.33,171.63 L588.47,169.52 L588.60,170.35 L588.74,171.25 L588.88,170.92 L589.01,168.98 L589.15,171.35 L589.29,171.77 L589.42,169.56 L589.56,167.67 L589.70,169.02 L589.83,169.22 L589.97,169.39 L590.10,170.60 L590.24,170.44 L590.38,171.45 L590.51,172.47 L590.65,171.55 L590.79,170.33 L590.92,169.57 L591.06,170.70 L591.20,169.25 L591.33,170.91 L591.47,168.35 L591.60,170.96 L591.74,173.43 L591.88,169.34 L592.01,170.14 L592.15,169.72 L592.29,168.58 L592.42,169.60 L592.56,172.30 L592.70,169.89 L592.83,173.39 L592.97,171.46 L593.10,170.46 L593.24,167.57 L593.38,172.74 L593.51,170.83 L593.65,170.31 L593.79,170.28 L593.92,168.36 L594.06,172.99 L594.20,169.58 L594.33,168.37 L594.47,169.95 L594.60,169.60 L594.74,173.06 L594.88,167.94 L595.01,167.26 L595.15,169.75 L595.29,174.08 L595.42,169.28 L595.56,170.39 L595.70,173.11 L595.83,169.68 L595.97,173.47 L596.10,171.78 L596.24,171.59 L596.38,168.29 L596.51,169.15 L596.65,168.60 L596.79,169.02 L596.92,169.51 L597.06,170.52 L597.20,174.13 L597.33,169.72 L597.47,170.24 L597.60,171.48 L597.74,174.84 L597.88,167.58 L598.01,170.30 L598.15,172.11 L598.29,170.21 L598.42,171.35 L598.56,171.72 L598.70,167.72 L598.83,169.63 L598.97,172.59 L599.10,171.90 L599.24,170.84 L599.38,170.50 L599.51,171.58 L599.65,170.40 L599.79,171.10 L599.92,171.42 L600.06,172.16 L600.20,169.86 L600.33,170.43 L600.47,170.83 L600.60,172.20 L600.74,174.17 L600.88,170.73 L601.01,170.11 L601.15,171.76 L601.29,167.89 L601.42,171.87 L601.56,168.74 L601.70,170.20 L601.83,170.67 L601.97,172.16 L602.10,173.55 L602.24,170.49 L602.38,172.81 L602.51,171.03 L602.65,168.82 L602.79,173.59 L602.92,169.38 L603.06,170.45 L603.20,172.37 L603.33,171.43 L603.47,168.90 L603.60,171.44 L603.74,168.89 L603.88,168.90 L604.01,173.05 L604.15,173.31 L604.29,170.35 L604.42,170.62 L604.56,171.96 L604.70,173.90 L604.83,167.25 L604.97,172.02 L605.10,172.04 L605.24,172.06 L605.38,169.44 L605.51,169.31 L605.65,170.62 L605.79,168.23 L605.92,169.71 L606.06,167.80 L606.20,170.94 L606.33,170.88 L606.47,165.82 L606.60,167.50 L606.74,172.03 L606.88,169.53 L607.01,170.52 L607.15,173.58 L607.29,171.84 L607.42,173.94 L607.56,172.24 L607.70,172.33 L607.83,170.36 L607.97,170.83 L608.10,172.91 L608.24,170.22 L608.38,171.61 L608.51,175.38 L608.65,173.14 L608.79,169.95 L608.92,172.13 L609.06,169.98 L609.19,172.58 L609.33,171.31 L609.47,172.39 L609.60,166.96 L609.74,171.64 L609.88,169.29 L610.01,172.02 L610.15,171.04 L610.29,170.66 L610.42,169.11 L610.56,167.50 L610.69,169.28 L610.83,172.04 L610.97,172.50 L611.10,169.76 L611.24,169.34 L611.38,172.10 L611.51,171.08 L611.65,175.25 L611.79,170.54 L611.92,170.97 L612.06,171.66 L612.19,170.64 L612.33,168.77 L612.47,170.84 L612.60,170.26 L612.74,167.96 L612.88,170.75 L613.01,172.95 L613.15,168.73 L613.29,172.61 L613.42,171.32 L613.56,175.04 L613.69,171.39 L613.83,171.26 L613.97,172.47 L614.10,170.56 L614.24,169.08 L614.38,171.25 L614.51,170.68 L614.65,171.46 L614.79,171.04 L614.92,173.94 L615.06,169.34 L615.19,170.16 L615.33,165.34 L615.47,171.24 L615.60,171.70 L615.74,175.21 L615.88,169.70 L616.01,172.78 L616.15,172.16 L616.29,171.54 L616.42,170.20 L616.56,169.43 L616.69,168.79 L616.83,171.20 L616.97,173.71 L617.10,170.60 L617.24,171.26 L617.38,173.48 L617.51,169.64 L617.65,167.45 L617.79,170.59 L617.92,169.54 L618.06,172.04 L618.19,171.26 L618.33,168.67 L618.47,170.87 L618.60,170.41 L618.74,168.66 L618.88,173.68 L619.01,170.97 L619.15,172.99 L619.29,170.52 L619.42,169.74 L619.56,170.62 L619.69,173.67 L619.83,168.21 L619.97,171.28 L620.10,172.71 L620.24,169.79 L620.38,168.99 L620.51,171.31 L620.65,171.93 L620.79,170.89 L620.92,172.55 L621.06,172.30 L621.19,171.96 L621.33,171.58 L621.47,172.37 L621.60,171.75 L621.74,170.75 L621.88,171.07 L622.01,171.04 L622.15,168.19 L622.29,171.69 L622.42,168.86 L622.56,173.35 L622.69,169.17 L622.83,176.25 L622.97,170.70 L623.10,168.66 L623.24,170.29 L623.38,172.47 L623.51,166.87 L623.65,170.16 L623.79,172.31 L623.92,168.02 L624.06,172.50 L624.19,171.04 L624.33,169.70 L624.47,171.06 L624.60,169.19 L624.74,169.64 L624.88,176.09 L625.01,172.24 L625.15,168.38 L625.29,171.66 L625.42,172.18 L625.56,173.59 L625.69,170.36 L625.83,173.33 L625.97,173.25 L626.10,171.80 L626.24,169.80 L626.38,173.30 L626.51,173.57 L626.65,169.58 L626.79,168.75 L626.92,172.87 L627.06,172.99 L627.19,169.84 L627.33,171.12 L627.47,171.37 L627.60,169.66 L627.74,171.87 L627.88,171.21 L628.01,171.53 L628.15,169.38 L628.29,170.91 L628.42,172.10 L628.56,171.03 L628.69,171.51 L628.83,173.64 L628.97,171.27 L629.10,170.67 L629.24,170.20 L629.38,171.17 L629.51,170.31 L629.65,168.93 L629.79,174.92 L629.92,172.06 L630.06,169.10 L630.19,171.09 L630.33,173.15 L630.47,171.42 L630.60,171.04 L630.74,168.55 L630.88,170.74 L631.01,171.51 L631.15,168.80 L631.29,172.91 L631.42,171.22 L631.56,172.17 L631.69,169.18 L631.83,170.80 L631.97,170.15 L632.10,170.09 L632.24,169.32 L632.38,167.94 L632.51,172.84 L632.65,174.84 L632.79,170.13 L632.92,170.79 L633.06,169.20 L633.19,170.36 L633.33,171.97 L633.47,174.80 L633.60,172.82 L633.74,170.09 L633.88,175.66 L634.01,170.53 L634.15,173.26 L634.29,172.14 L634.42,168.31 L634.56,173.36 L634.69,171.08 L634.83,173.96 L634.97,171.38 L635.10,169.70 L635.24,169.05 L635.38,170.27 L635.51,168.78 L635.65,174.32 L635.79,172.81 L635.92,170.19 L636.06,167.96 L636.19,170.15 L636.33,173.13 L636.47,169.38 L636.60,172.91 L636.74,173.76 L636.88,171.96 L637.01,170.52 L637.15,172.85 L637.29,171.03 L637.42,173.40 L637.56,167.44 L637.69,172.00 L637.83,171.19 L637.97,173.63 L638.10,171.70 L638.24,171.86 L638.38,169.57 L638.51,173.06 L638.65,169.77 L638.79,171.97 L638.92,174.51 L639.06,171.61 L639.19,171.64 L639.33,169.54 L639.47,170.45 L639.60,173.50 L639.74,171.31 L639.88,173.73 L640.01,171.74 L640.15,173.45 L640.29,168.63 L640.42,173.50 L640.56,172.59 L640.69,174.45 L640.83,176.11 L640.97,172.73 L641.10,172.13 L641.24,170.31 L641.38,174.64 L641.51,174.29 L641.65,174.10 L641.79,172.24 L641.92,170.11 L642.06,171.76 L642.19,171.22 L642.33,171.91 L642.47,173.92 L642.60,170.44 L642.74,169.31 L642.88,170.68 L643.01,173.37 L643.15,171.26 L643.28,173.07 L643.42,168.43 L643.56,174.25 L643.69,171.45 L643.83,171.00 L643.97,172.61 L644.10,168.56 L644.24,173.41 L644.38,173.91 L644.51,171.78 L644.65,170.83 L644.78,171.32 L644.92,170.92 L645.06,171.86 L645.19,170.37 L645.33,168.83 L645.47,171.72 L645.60,170.35 L645.74,172.55 L645.88,171.94 L646.01,174.09 L646.15,169.34 L646.28,171.46 L646.42,170.87 L646.56,169.66 L646.69,172.96 L646.83,174.44 L646.97,173.11 L647.10,173.70 L647.24,166.71 L647.38,167.08 L647.51,170.74 L647.65,172.38 L647.78,167.99 L647.92,175.17 L648.06,171.75 L648.19,170.59 L648.33,171.17 L648.47,170.88 L648.60,175.44 L648.74,170.49 L648.88,170.02 L649.01,173.33 L649.15,170.52 L649.28,171.85 L649.42,170.19 L649.56,168.55 L649.69,172.61 L649.83,174.34 L649.97,174.52 L650.10,171.07 L650.24,172.34 L650.38,172.25 L650.51,168.33 L650.65,172.45 L650.78,173.71 L650.92,168.39 L651.06,171.78 L651.19,170.97 L651.33,171.86 L651.47,170.28 L651.60,168.10 L651.74,172.56 L651.88,172.91 L652.01,169.42 L652.15,173.46 L652.28,170.31 L652.42,169.70 L652.56,175.94 L652.69,171.29 L652.83,174.10 L652.97,175.07 L653.10,173.55 L653.24,174.73 L653.38,170.91 L653.51,174.45 L653.65,173.22 L653.78,172.79 L653.92,173.77 L654.06,173.75 L654.19,172.82 L654.33,172.93 L654.47,170.81 L654.60,170.78 L654.74,173.74 L654.88,170.97 L655.01,171.73 L655.15,166.19 L655.28,173.19 L655.42,170.14 L655.56,170.61 L655.69,174.72 L655.83,169.52 L655.97,169.69 L656.10,169.51 L656.24,173.27 L656.38,171.30 L656.51,172.13 L656.65,169.00 L656.78,170.65 L656.92,174.34 L657.06,173.02 L657.19,170.49 L657.33,176.34 L657.47,168.97 L657.60,174.23 L657.74,173.82 L657.88,173.10 L658.01,171.39 L658.15,173.65 L658.28,170.36 L658.42,170.12 L658.56,172.59 L658.69,169.31 L658.83,169.85 L658.97,169.37 L659.10,174.21 L659.24,171.33 L659.38,169.86 L659.51,171.79 L659.65,170.65 L659.78,171.10 L659.92,173.42 L660.06,170.24 L660.19,173.05 L660.33,170.52 L660.47,172.02 L660.60,175.48 L660.74,167.26 L660.88,172.81 L661.01,172.83 L661.15,170.82 L661.28,171.47 L661.42,171.12 L661.56,172.22 L661.69,169.43 L661.83,170.54 L661.97,174.32 L662.10,168.56 L662.24,167.79 L662.38,175.12 L662.51,168.81 L662.65,166.49 L662.78,172.28 L662.92,171.17 L663.06,170.71 L663.19,173.39 L663.33,172.00 L663.47,170.71 L663.60,171.51 L663.74,172.85 L663.88,175.52 L664.01,171.15 L664.15,172.14 L664.28,170.51 L664.42,170.80 L664.56,170.10 L664.69,172.42 L664.83,171.78 L664.97,172.88 L665.10,171.44 L665.24,176.92 L665.38,171.32 L665.51,172.27 L665.65,174.44 L665.78,172.09 L665.92,172.63 L666.06,175.08 L666.19,171.30 L666.33,173.89 L666.47,166.30 L666.60,170.05 L666.74,167.82 L666.88,172.55 L667.01,172.57 L667.15,171.00 L667.28,172.15 L667.42,174.22 L667.56,169.18 L667.69,172.90 L667.83,170.25 L667.97,166.61 L668.10,174.97 L668.24,174.78 L668.38,173.20 L668.51,174.16 L668.65,169.50 L668.78,171.70 L668.92,172.19 L669.06,171.33 L669.19,173.91 L669.33,169.67 L669.47,173.00 L669.60,170.89 L669.74,167.04 L669.88,170.12 L670.01,170.19 L670.15,173.30 L670.28,174.17 L670.42,170.68 L670.56,171.41 L670.69,172.90 L670.83,170.00 L670.97,174.18 L671.10,171.81 L671.24,170.37 L671.38,171.97 L671.51,171.79 L671.65,174.68 L671.78,172.59 L671.92,171.90 L672.06,169.99 L672.19,171.33 L672.33,168.32 L672.47,170.94 L672.60,171.75 L672.74,171.89 L672.88,170.01 L673.01,168.62 L673.15,172.25 L673.28,169.72 L673.42,170.24 L673.56,174.91 L673.69,169.68 L673.83,166.92 L673.97,170.23 L674.10,169.27 L674.24,168.42 L674.38,174.17 L674.51,173.34 L674.65,170.26 L674.78,172.94 L674.92,172.92 L675.06,167.18 L675.19,171.11 L675.33,169.21 L675.47,175.69 L675.60,168.53 L675.74,173.06 L675.88,168.61 L676.01,175.26 L676.15,171.49 L676.28,173.74 L676.42,172.09 L676.56,169.77 L676.69,169.93 L676.83,170.03 L676.97,171.93 L677.10,176.31 L677.24,170.62 L677.37,166.08 L677.51,171.27 L677.65,166.47 L677.78,170.12 L677.92,174.02 L678.06,168.21 L678.19,168.92 L678.33,170.87 L678.47,169.80 L678.60,175.81 L678.74,174.57 L678.87,173.06 L679.01,173.24 L679.15,169.66 L679.28,172.74 L679.42,171.34 L679.56,173.80 L679.69,171.52 L679.83,172.36 L679.97,170.89 L680.10,170.29 L680.24,172.18 L680.37,167.46 L680.51,170.93 L680.65,171.92 L680.78,169.63 L680.92,169.45 L681.06,175.56 L681.19,168.31 L681.33,172.43 L681.47,171.79 L681.60,170.53 L681.74,174.56 L681.87,173.43 L682.01,172.74 L682.15,173.28 L682.28,174.00 L682.42,173.00 L682.56,175.93 L682.69,173.02 L682.83,169.26 L682.97,173.76 L683.10,171.66 L683.24,171.95 L683.37,172.26 L683.51,174.97 L683.65,170.59 L683.78,170.41 L683.92,173.56 L684.06,172.47 L684.19,170.17 L684.33,174.18 L684.47,174.30 L684.60,172.86 L684.74,173.82 L684.87,174.90 L685.01,170.39 L685.15,172.49 L685.28,172.06 L685.42,167.15 L685.56,170.42 L685.69,169.07 L685.83,170.87 L685.97,177.04 L686.10,167.55 L686.24,173.83 L686.37,171.49 L686.51,172.53 L686.65,172.39 L686.78,172.18 L686.92,168.56 L687.06,174.63 L687.19,171.44 L687.33,173.34 L687.47,171.75 L687.60,170.21 L687.74,173.08 L687.87,172.26 L688.01,171.71 L688.15,172.27 L688.28,173.15 L688.42,171.97 L688.56,173.55 L688.69,169.20 L688.83,167.66 L688.97,172.71 L689.10,171.99 L689.24,168.47 L689.37,172.49 L689.51,169.87 L689.65,175.99 L689.78,167.74 L689.92,173.17 L690.06,168.41 L690.19,174.63 L690.33,172.41 L690.47,170.23 L690.60,170.99 L690.74,172.29 L690.87,172.84 L691.01,172.47 L691.15,173.40 L691.28,176.29"/>
</g>
<rect x="45.0" y="16.4" width="300.0" height="214.0" fill="none" stroke="#cccccc" stroke-width="1.2"/>
<rect x="405.0" y="16.4" width="299.9" height="214.0" fill="none" stroke="#cccccc" stroke-width="1.2"/>
<text class="tick" x="41.2" y="233.90" text-anchor="end">0</text>
<text class="tick" x="41.2" y="198.23" text-anchor="end">500</text>
<text class="tick" x="41.2" y="162.57" text-anchor="end">1000</text>
<text class="tick" x="41.2" y="126.90" text-anchor="end">1500</text>
<text class="tick" x="41.2" y="91.23" text-anchor="end">2000</text>
<text class="tick" x="41.2" y="55.57" text-anchor="end">2500</text>
<text class="tick" x="41.2" y="19.90" text-anchor="end">3000</text>
<text class="tick" x="58.64" y="240.8" text-anchor="middle">0</text>
<text class="tick" x="92.73" y="240.8" text-anchor="middle">50</text>
<text class="tick" x="126.82" y="240.8" text-anchor="middle">100</text>
<text class="tick" x="160.91" y="240.8" text-anchor="middle">150</text>
<text class="tick" x="195.00" y="240.8" text-anchor="middle">200</text>
<text class="tick" x="229.09" y="240.8" text-anchor="middle">250</text>
<text class="tick" x="263.18" y="240.8" text-anchor="middle">300</text>
<text class="tick" x="297.27" y="240.8" text-anchor="middle">350</text>
<text class="tick" x="331.36" y="240.8" text-anchor="middle">400</text>
<text class="tick" x="418.64" y="240.8" text-anchor="middle">0</text>
<text class="tick" x="452.73" y="240.8" text-anchor="middle">250</text>
<text class="tick" x="486.82" y="240.8" text-anchor="middle">500</text>
<text class="tick" x="520.91" y="240.8" text-anchor="middle">750</text>
<text class="tick" x="555.00" y="240.8" text-anchor="middle">1000</text>
<text class="tick" x="589.09" y="240.8" text-anchor="middle">1250</text>
<text class="tick" x="623.18" y="240.8" text-anchor="middle">1500</text>
<text class="tick" x="657.27" y="240.8" text-anchor="middle">1750</text>
<text class="tick" x="691.36" y="240.8" text-anchor="middle">2000</text>
<text class="title" x="195.00" y="11.2" text-anchor="middle">End-to-end learning</text>
<text class="title" x="554.95" y="11.2" text-anchor="middle">Layer-wise learning</text>
<text class="lab" x="373.0" y="254.3" text-anchor="middle">Epochs</text>
<text class="lab" transform="translate(9.7,124.60) rotate(-90)" text-anchor="middle">Contrastive Hinge Loss</text>
<line x1="274.3" x2="293.8" y1="29.10" y2="29.10" stroke="#1f77b4" stroke-width="2.25" stroke-linecap="round"/>
<text class="leg" x="301.75" y="32.50">BP E2E</text>
<line x1="274.3" x2="293.8" y1="43.10" y2="43.10" stroke="#ff7f0e" stroke-width="2.25" stroke-linecap="round"/>
<text class="leg" x="301.75" y="46.50">DTP</text>
<line x1="274.3" x2="293.8" y1="57.10" y2="57.10" stroke="#2ca02c" stroke-width="2.25" stroke-linecap="round"/>
<text class="leg" x="301.75" y="60.50">RF E2E</text>
<line x1="414.52" x2="432.88" y1="201.90" y2="201.90" stroke="#1f77b4" stroke-opacity="1" stroke-width="2.25" stroke-linecap="round"/>
<text class="leg" x="441.60" y="205.70">BP GLL</text>
<line x1="414.52" x2="432.88" y1="216.40" y2="216.40" stroke="#ff7f0e" stroke-opacity="1" stroke-width="2.25" stroke-linecap="round"/>
<text class="leg" x="441.60" y="219.70">RF GLL</text>
<line x1="495.83" x2="514.98" y1="201.90" y2="201.90" stroke="#2ca02c" stroke-opacity="0.8" stroke-width="1.45" stroke-linecap="round"/>
<text class="leg" x="523.30" y="205.70">BP RLL</text>
<line x1="495.83" x2="514.98" y1="216.40" y2="216.40" stroke="#d62728" stroke-opacity="0.8" stroke-width="1.45" stroke-linecap="round"/>
<text class="leg" x="523.30" y="219.70">RF RLL</text>
</svg>
</body></html>
